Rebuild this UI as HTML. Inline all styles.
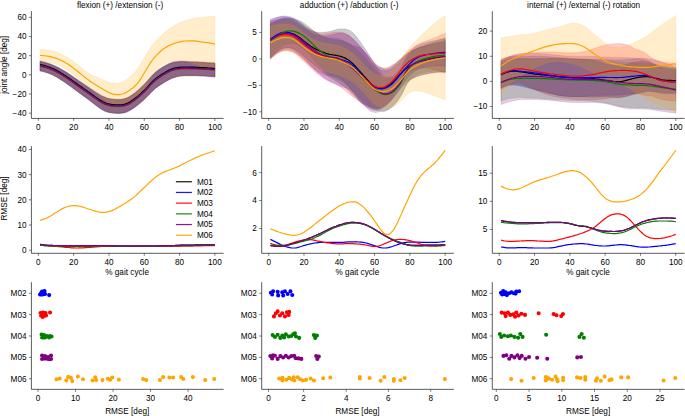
<!DOCTYPE html>
<html><head><meta charset="utf-8"><style>html,body{margin:0;padding:0;background:#fff;width:685px;height:416px;overflow:hidden}</style></head>
<body><svg width="685" height="416" viewBox="0 0 685 416" style="display:block;font-family:'Liberation Sans',sans-serif"><path d="M40.1,60.8 L41.6,61.1 L43.1,61.5 L44.6,61.9 L46.1,62.3 L47.6,62.8 L49.1,63.3 L50.6,63.8 L52.1,64.4 L53.6,65.0 L55.1,65.7 L56.6,66.4 L58.1,67.1 L59.6,67.9 L61.0,68.7 L62.5,69.5 L64.0,70.4 L65.5,71.3 L67.0,72.2 L68.5,73.2 L70.0,74.2 L71.5,75.3 L73.0,76.3 L74.5,77.4 L76.0,78.4 L77.5,79.4 L79.0,80.5 L80.5,81.5 L82.0,82.5 L83.4,83.5 L84.9,84.5 L86.4,85.5 L87.9,86.5 L89.4,87.5 L90.9,88.5 L92.4,89.5 L93.9,90.5 L95.4,91.5 L96.9,92.5 L98.4,93.4 L99.9,94.3 L101.4,95.2 L102.9,95.9 L104.4,96.6 L105.8,97.2 L107.3,97.7 L108.8,98.1 L110.3,98.4 L111.8,98.7 L113.3,98.8 L114.8,99.0 L116.3,99.0 L117.8,99.1 L119.3,99.0 L120.8,99.0 L122.3,98.8 L123.8,98.5 L125.3,98.1 L126.8,97.6 L128.2,96.9 L129.7,96.0 L131.2,95.1 L132.7,94.1 L134.2,93.0 L135.7,91.8 L137.2,90.5 L138.7,89.2 L140.2,87.8 L141.7,86.4 L143.2,84.9 L144.7,83.4 L146.2,81.8 L147.7,80.1 L149.2,78.4 L150.6,76.7 L152.1,75.1 L153.6,73.6 L155.1,72.2 L156.6,71.0 L158.1,69.8 L159.6,68.8 L161.1,67.8 L162.6,66.8 L164.1,65.9 L165.6,65.1 L167.1,64.3 L168.6,63.6 L170.1,62.9 L171.6,62.4 L173.0,62.0 L174.5,61.6 L176.0,61.4 L177.5,61.2 L179.0,61.1 L180.5,61.0 L182.0,61.0 L183.5,61.0 L185.0,61.1 L186.5,61.1 L188.0,61.2 L189.5,61.3 L191.0,61.4 L192.5,61.4 L194.0,61.5 L195.4,61.6 L196.9,61.6 L198.4,61.7 L199.9,61.8 L201.4,61.8 L202.9,61.9 L204.4,62.0 L205.9,62.1 L207.4,62.2 L208.9,62.3 L210.4,62.4 L211.9,62.5 L213.4,62.6 L214.9,62.7 L214.9,76.3 L213.4,76.1 L211.9,76.0 L210.4,75.9 L208.9,75.8 L207.4,75.6 L205.9,75.5 L204.4,75.4 L202.9,75.3 L201.4,75.3 L199.9,75.2 L198.4,75.1 L196.9,75.1 L195.4,75.0 L194.0,75.0 L192.5,75.0 L191.0,75.0 L189.5,75.0 L188.0,75.0 L186.5,75.0 L185.0,75.0 L183.5,75.1 L182.0,75.2 L180.5,75.4 L179.0,75.6 L177.5,75.9 L176.0,76.3 L174.5,76.8 L173.0,77.3 L171.6,77.9 L170.1,78.5 L168.6,79.3 L167.1,80.1 L165.6,80.9 L164.1,81.8 L162.6,82.8 L161.1,83.7 L159.6,84.7 L158.1,85.7 L156.6,86.8 L155.1,88.0 L153.6,89.3 L152.1,90.8 L150.6,92.3 L149.2,93.9 L147.7,95.4 L146.2,96.9 L144.7,98.4 L143.2,99.8 L141.7,101.1 L140.2,102.3 L138.7,103.6 L137.2,104.7 L135.7,105.9 L134.2,107.0 L132.7,108.0 L131.2,109.0 L129.7,109.9 L128.2,110.6 L126.8,111.3 L125.3,111.8 L123.8,112.2 L122.3,112.4 L120.8,112.6 L119.3,112.7 L117.8,112.7 L116.3,112.6 L114.8,112.6 L113.3,112.4 L111.8,112.3 L110.3,112.0 L108.8,111.7 L107.3,111.3 L105.8,110.8 L104.4,110.2 L102.9,109.4 L101.4,108.6 L99.9,107.6 L98.4,106.5 L96.9,105.4 L95.4,104.2 L93.9,103.0 L92.4,101.9 L90.9,100.7 L89.4,99.6 L87.9,98.5 L86.4,97.4 L84.9,96.3 L83.4,95.2 L82.0,94.2 L80.5,93.1 L79.0,92.0 L77.5,90.9 L76.0,89.8 L74.5,88.7 L73.0,87.6 L71.5,86.4 L70.0,85.3 L68.5,84.2 L67.0,83.2 L65.5,82.1 L64.0,81.1 L62.5,80.1 L61.0,79.2 L59.6,78.2 L58.1,77.3 L56.6,76.4 L55.1,75.6 L53.6,74.8 L52.1,74.0 L50.6,73.4 L49.1,72.8 L47.6,72.2 L46.1,71.8 L44.6,71.3 L43.1,70.9 L41.6,70.5 L40.1,70.2Z" fill="#000000" fill-opacity="0.2" stroke="#000000" stroke-opacity="0.2" stroke-width="0.7"/><path d="M40.1,61.5 L41.6,61.8 L43.1,62.2 L44.6,62.6 L46.1,63.0 L47.6,63.5 L49.1,64.0 L50.6,64.5 L52.1,65.1 L53.6,65.7 L55.1,66.4 L56.6,67.1 L58.1,67.8 L59.6,68.6 L61.0,69.4 L62.5,70.2 L64.0,71.1 L65.5,72.0 L67.0,72.9 L68.5,73.9 L70.0,74.9 L71.5,76.0 L73.0,77.0 L74.5,78.1 L76.0,79.1 L77.5,80.1 L79.0,81.2 L80.5,82.2 L82.0,83.2 L83.4,84.2 L84.9,85.2 L86.4,86.2 L87.9,87.2 L89.4,88.2 L90.9,89.2 L92.4,90.2 L93.9,91.2 L95.4,92.2 L96.9,93.2 L98.4,94.1 L99.9,95.0 L101.4,95.9 L102.9,96.6 L104.4,97.3 L105.8,97.9 L107.3,98.4 L108.8,98.8 L110.3,99.1 L111.8,99.4 L113.3,99.5 L114.8,99.7 L116.3,99.7 L117.8,99.8 L119.3,99.7 L120.8,99.7 L122.3,99.5 L123.8,99.2 L125.3,98.8 L126.8,98.3 L128.2,97.6 L129.7,96.7 L131.2,95.8 L132.7,94.8 L134.2,93.7 L135.7,92.5 L137.2,91.2 L138.7,89.9 L140.2,88.5 L141.7,87.1 L143.2,85.6 L144.7,84.1 L146.2,82.5 L147.7,80.8 L149.2,79.1 L150.6,77.4 L152.1,75.8 L153.6,74.3 L155.1,72.9 L156.6,71.7 L158.1,70.5 L159.6,69.5 L161.1,68.5 L162.6,67.5 L164.1,66.6 L165.6,65.8 L167.1,65.0 L168.6,64.3 L170.1,63.6 L171.6,63.1 L173.0,62.7 L174.5,62.3 L176.0,62.1 L177.5,61.9 L179.0,61.8 L180.5,61.7 L182.0,61.7 L183.5,61.7 L185.0,61.8 L186.5,61.8 L188.0,61.9 L189.5,62.0 L191.0,62.1 L192.5,62.1 L194.0,62.2 L195.4,62.3 L196.9,62.3 L198.4,62.4 L199.9,62.5 L201.4,62.5 L202.9,62.6 L204.4,62.7 L205.9,62.8 L207.4,62.9 L208.9,63.0 L210.4,63.1 L211.9,63.2 L213.4,63.3 L214.9,63.4 L214.9,77.0 L213.4,76.8 L211.9,76.7 L210.4,76.6 L208.9,76.5 L207.4,76.3 L205.9,76.2 L204.4,76.1 L202.9,76.0 L201.4,76.0 L199.9,75.9 L198.4,75.8 L196.9,75.8 L195.4,75.7 L194.0,75.7 L192.5,75.7 L191.0,75.7 L189.5,75.7 L188.0,75.7 L186.5,75.7 L185.0,75.7 L183.5,75.8 L182.0,75.9 L180.5,76.1 L179.0,76.3 L177.5,76.6 L176.0,77.0 L174.5,77.5 L173.0,78.0 L171.6,78.6 L170.1,79.2 L168.6,80.0 L167.1,80.8 L165.6,81.6 L164.1,82.5 L162.6,83.5 L161.1,84.4 L159.6,85.4 L158.1,86.4 L156.6,87.5 L155.1,88.7 L153.6,90.0 L152.1,91.5 L150.6,93.0 L149.2,94.6 L147.7,96.1 L146.2,97.6 L144.7,99.1 L143.2,100.5 L141.7,101.8 L140.2,103.0 L138.7,104.3 L137.2,105.4 L135.7,106.6 L134.2,107.7 L132.7,108.7 L131.2,109.7 L129.7,110.6 L128.2,111.3 L126.8,112.0 L125.3,112.5 L123.8,112.9 L122.3,113.1 L120.8,113.3 L119.3,113.4 L117.8,113.4 L116.3,113.3 L114.8,113.3 L113.3,113.1 L111.8,113.0 L110.3,112.7 L108.8,112.4 L107.3,112.0 L105.8,111.5 L104.4,110.9 L102.9,110.1 L101.4,109.3 L99.9,108.3 L98.4,107.2 L96.9,106.1 L95.4,104.9 L93.9,103.7 L92.4,102.6 L90.9,101.4 L89.4,100.3 L87.9,99.2 L86.4,98.1 L84.9,97.0 L83.4,95.9 L82.0,94.9 L80.5,93.8 L79.0,92.7 L77.5,91.6 L76.0,90.5 L74.5,89.4 L73.0,88.3 L71.5,87.1 L70.0,86.0 L68.5,84.9 L67.0,83.9 L65.5,82.8 L64.0,81.8 L62.5,80.8 L61.0,79.9 L59.6,78.9 L58.1,78.0 L56.6,77.1 L55.1,76.3 L53.6,75.5 L52.1,74.7 L50.6,74.1 L49.1,73.5 L47.6,72.9 L46.1,72.5 L44.6,72.0 L43.1,71.6 L41.6,71.2 L40.1,70.9Z" fill="#0000ff" fill-opacity="0.2" stroke="#0000ff" stroke-opacity="0.2" stroke-width="0.7"/><path d="M40.1,61.5 L41.6,61.8 L43.1,62.2 L44.6,62.6 L46.1,63.0 L47.6,63.5 L49.1,64.0 L50.6,64.5 L52.1,65.1 L53.6,65.7 L55.1,66.4 L56.6,67.1 L58.1,67.8 L59.6,68.6 L61.0,69.4 L62.5,70.2 L64.0,71.1 L65.5,72.0 L67.0,72.9 L68.5,73.9 L70.0,74.9 L71.5,76.0 L73.0,77.0 L74.5,78.1 L76.0,79.1 L77.5,80.1 L79.0,81.2 L80.5,82.2 L82.0,83.2 L83.4,84.2 L84.9,85.2 L86.4,86.2 L87.9,87.2 L89.4,88.2 L90.9,89.2 L92.4,90.2 L93.9,91.2 L95.4,92.2 L96.9,93.2 L98.4,94.1 L99.9,95.0 L101.4,95.9 L102.9,96.6 L104.4,97.3 L105.8,97.9 L107.3,98.4 L108.8,98.8 L110.3,99.1 L111.8,99.4 L113.3,99.5 L114.8,99.7 L116.3,99.7 L117.8,99.8 L119.3,99.7 L120.8,99.7 L122.3,99.5 L123.8,99.2 L125.3,98.8 L126.8,98.3 L128.2,97.6 L129.7,96.7 L131.2,95.8 L132.7,94.8 L134.2,93.7 L135.7,92.5 L137.2,91.2 L138.7,89.9 L140.2,88.5 L141.7,87.1 L143.2,85.6 L144.7,84.1 L146.2,82.5 L147.7,80.8 L149.2,79.1 L150.6,77.4 L152.1,75.8 L153.6,74.3 L155.1,72.9 L156.6,71.7 L158.1,70.5 L159.6,69.5 L161.1,68.5 L162.6,67.5 L164.1,66.6 L165.6,65.8 L167.1,65.0 L168.6,64.3 L170.1,63.6 L171.6,63.1 L173.0,62.7 L174.5,62.3 L176.0,62.1 L177.5,61.9 L179.0,61.8 L180.5,61.7 L182.0,61.7 L183.5,61.7 L185.0,61.8 L186.5,61.8 L188.0,61.9 L189.5,62.0 L191.0,62.1 L192.5,62.1 L194.0,62.2 L195.4,62.3 L196.9,62.3 L198.4,62.4 L199.9,62.5 L201.4,62.5 L202.9,62.6 L204.4,62.7 L205.9,62.8 L207.4,62.9 L208.9,63.0 L210.4,63.1 L211.9,63.2 L213.4,63.3 L214.9,63.4 L214.9,77.0 L213.4,76.8 L211.9,76.7 L210.4,76.6 L208.9,76.5 L207.4,76.3 L205.9,76.2 L204.4,76.1 L202.9,76.0 L201.4,76.0 L199.9,75.9 L198.4,75.8 L196.9,75.8 L195.4,75.7 L194.0,75.7 L192.5,75.7 L191.0,75.7 L189.5,75.7 L188.0,75.7 L186.5,75.7 L185.0,75.7 L183.5,75.8 L182.0,75.9 L180.5,76.1 L179.0,76.3 L177.5,76.6 L176.0,77.0 L174.5,77.5 L173.0,78.0 L171.6,78.6 L170.1,79.2 L168.6,80.0 L167.1,80.8 L165.6,81.6 L164.1,82.5 L162.6,83.5 L161.1,84.4 L159.6,85.4 L158.1,86.4 L156.6,87.5 L155.1,88.7 L153.6,90.0 L152.1,91.5 L150.6,93.0 L149.2,94.6 L147.7,96.1 L146.2,97.6 L144.7,99.1 L143.2,100.5 L141.7,101.8 L140.2,103.0 L138.7,104.3 L137.2,105.4 L135.7,106.6 L134.2,107.7 L132.7,108.7 L131.2,109.7 L129.7,110.6 L128.2,111.3 L126.8,112.0 L125.3,112.5 L123.8,112.9 L122.3,113.1 L120.8,113.3 L119.3,113.4 L117.8,113.4 L116.3,113.3 L114.8,113.3 L113.3,113.1 L111.8,113.0 L110.3,112.7 L108.8,112.4 L107.3,112.0 L105.8,111.5 L104.4,110.9 L102.9,110.1 L101.4,109.3 L99.9,108.3 L98.4,107.2 L96.9,106.1 L95.4,104.9 L93.9,103.7 L92.4,102.6 L90.9,101.4 L89.4,100.3 L87.9,99.2 L86.4,98.1 L84.9,97.0 L83.4,95.9 L82.0,94.9 L80.5,93.8 L79.0,92.7 L77.5,91.6 L76.0,90.5 L74.5,89.4 L73.0,88.3 L71.5,87.1 L70.0,86.0 L68.5,84.9 L67.0,83.9 L65.5,82.8 L64.0,81.8 L62.5,80.8 L61.0,79.9 L59.6,78.9 L58.1,78.0 L56.6,77.1 L55.1,76.3 L53.6,75.5 L52.1,74.7 L50.6,74.1 L49.1,73.5 L47.6,72.9 L46.1,72.5 L44.6,72.0 L43.1,71.6 L41.6,71.2 L40.1,70.9Z" fill="#ff0000" fill-opacity="0.2" stroke="#ff0000" stroke-opacity="0.2" stroke-width="0.7"/><path d="M40.1,61.5 L41.6,61.8 L43.1,62.2 L44.6,62.6 L46.1,63.0 L47.6,63.5 L49.1,64.0 L50.6,64.5 L52.1,65.1 L53.6,65.7 L55.1,66.4 L56.6,67.1 L58.1,67.8 L59.6,68.6 L61.0,69.4 L62.5,70.2 L64.0,71.1 L65.5,72.0 L67.0,72.9 L68.5,73.9 L70.0,74.9 L71.5,76.0 L73.0,77.0 L74.5,78.1 L76.0,79.1 L77.5,80.1 L79.0,81.2 L80.5,82.2 L82.0,83.2 L83.4,84.2 L84.9,85.2 L86.4,86.2 L87.9,87.2 L89.4,88.2 L90.9,89.2 L92.4,90.2 L93.9,91.2 L95.4,92.2 L96.9,93.2 L98.4,94.1 L99.9,95.0 L101.4,95.9 L102.9,96.6 L104.4,97.3 L105.8,97.9 L107.3,98.4 L108.8,98.8 L110.3,99.1 L111.8,99.4 L113.3,99.5 L114.8,99.7 L116.3,99.7 L117.8,99.8 L119.3,99.7 L120.8,99.7 L122.3,99.5 L123.8,99.2 L125.3,98.8 L126.8,98.3 L128.2,97.6 L129.7,96.7 L131.2,95.8 L132.7,94.8 L134.2,93.7 L135.7,92.5 L137.2,91.2 L138.7,89.9 L140.2,88.5 L141.7,87.1 L143.2,85.6 L144.7,84.1 L146.2,82.5 L147.7,80.8 L149.2,79.1 L150.6,77.4 L152.1,75.8 L153.6,74.3 L155.1,72.9 L156.6,71.7 L158.1,70.5 L159.6,69.5 L161.1,68.5 L162.6,67.5 L164.1,66.6 L165.6,65.8 L167.1,65.0 L168.6,64.3 L170.1,63.6 L171.6,63.1 L173.0,62.7 L174.5,62.3 L176.0,62.1 L177.5,61.9 L179.0,61.8 L180.5,61.7 L182.0,61.7 L183.5,61.7 L185.0,61.8 L186.5,61.8 L188.0,61.9 L189.5,62.0 L191.0,62.1 L192.5,62.1 L194.0,62.2 L195.4,62.3 L196.9,62.3 L198.4,62.4 L199.9,62.5 L201.4,62.5 L202.9,62.6 L204.4,62.7 L205.9,62.8 L207.4,62.9 L208.9,63.0 L210.4,63.1 L211.9,63.2 L213.4,63.3 L214.9,63.4 L214.9,77.0 L213.4,76.8 L211.9,76.7 L210.4,76.6 L208.9,76.5 L207.4,76.3 L205.9,76.2 L204.4,76.1 L202.9,76.0 L201.4,76.0 L199.9,75.9 L198.4,75.8 L196.9,75.8 L195.4,75.7 L194.0,75.7 L192.5,75.7 L191.0,75.7 L189.5,75.7 L188.0,75.7 L186.5,75.7 L185.0,75.7 L183.5,75.8 L182.0,75.9 L180.5,76.1 L179.0,76.3 L177.5,76.6 L176.0,77.0 L174.5,77.5 L173.0,78.0 L171.6,78.6 L170.1,79.2 L168.6,80.0 L167.1,80.8 L165.6,81.6 L164.1,82.5 L162.6,83.5 L161.1,84.4 L159.6,85.4 L158.1,86.4 L156.6,87.5 L155.1,88.7 L153.6,90.0 L152.1,91.5 L150.6,93.0 L149.2,94.6 L147.7,96.1 L146.2,97.6 L144.7,99.1 L143.2,100.5 L141.7,101.8 L140.2,103.0 L138.7,104.3 L137.2,105.4 L135.7,106.6 L134.2,107.7 L132.7,108.7 L131.2,109.7 L129.7,110.6 L128.2,111.3 L126.8,112.0 L125.3,112.5 L123.8,112.9 L122.3,113.1 L120.8,113.3 L119.3,113.4 L117.8,113.4 L116.3,113.3 L114.8,113.3 L113.3,113.1 L111.8,113.0 L110.3,112.7 L108.8,112.4 L107.3,112.0 L105.8,111.5 L104.4,110.9 L102.9,110.1 L101.4,109.3 L99.9,108.3 L98.4,107.2 L96.9,106.1 L95.4,104.9 L93.9,103.7 L92.4,102.6 L90.9,101.4 L89.4,100.3 L87.9,99.2 L86.4,98.1 L84.9,97.0 L83.4,95.9 L82.0,94.9 L80.5,93.8 L79.0,92.7 L77.5,91.6 L76.0,90.5 L74.5,89.4 L73.0,88.3 L71.5,87.1 L70.0,86.0 L68.5,84.9 L67.0,83.9 L65.5,82.8 L64.0,81.8 L62.5,80.8 L61.0,79.9 L59.6,78.9 L58.1,78.0 L56.6,77.1 L55.1,76.3 L53.6,75.5 L52.1,74.7 L50.6,74.1 L49.1,73.5 L47.6,72.9 L46.1,72.5 L44.6,72.0 L43.1,71.6 L41.6,71.2 L40.1,70.9Z" fill="#008000" fill-opacity="0.2" stroke="#008000" stroke-opacity="0.2" stroke-width="0.7"/><path d="M40.1,61.5 L41.6,61.8 L43.1,62.2 L44.6,62.6 L46.1,63.0 L47.6,63.5 L49.1,64.0 L50.6,64.5 L52.1,65.1 L53.6,65.7 L55.1,66.4 L56.6,67.1 L58.1,67.8 L59.6,68.6 L61.0,69.4 L62.5,70.2 L64.0,71.1 L65.5,72.0 L67.0,72.9 L68.5,73.9 L70.0,74.9 L71.5,76.0 L73.0,77.0 L74.5,78.1 L76.0,79.1 L77.5,80.1 L79.0,81.2 L80.5,82.2 L82.0,83.2 L83.4,84.2 L84.9,85.2 L86.4,86.2 L87.9,87.2 L89.4,88.2 L90.9,89.2 L92.4,90.2 L93.9,91.2 L95.4,92.2 L96.9,93.2 L98.4,94.1 L99.9,95.0 L101.4,95.9 L102.9,96.6 L104.4,97.3 L105.8,97.9 L107.3,98.4 L108.8,98.8 L110.3,99.1 L111.8,99.4 L113.3,99.5 L114.8,99.7 L116.3,99.7 L117.8,99.8 L119.3,99.7 L120.8,99.7 L122.3,99.5 L123.8,99.2 L125.3,98.8 L126.8,98.3 L128.2,97.6 L129.7,96.7 L131.2,95.8 L132.7,94.8 L134.2,93.7 L135.7,92.5 L137.2,91.2 L138.7,89.9 L140.2,88.5 L141.7,87.1 L143.2,85.6 L144.7,84.1 L146.2,82.5 L147.7,80.8 L149.2,79.1 L150.6,77.4 L152.1,75.8 L153.6,74.3 L155.1,72.9 L156.6,71.7 L158.1,70.5 L159.6,69.5 L161.1,68.5 L162.6,67.5 L164.1,66.6 L165.6,65.8 L167.1,65.0 L168.6,64.3 L170.1,63.6 L171.6,63.1 L173.0,62.7 L174.5,62.3 L176.0,62.1 L177.5,61.9 L179.0,61.8 L180.5,61.7 L182.0,61.7 L183.5,61.7 L185.0,61.8 L186.5,61.8 L188.0,61.9 L189.5,62.0 L191.0,62.1 L192.5,62.1 L194.0,62.2 L195.4,62.3 L196.9,62.3 L198.4,62.4 L199.9,62.5 L201.4,62.5 L202.9,62.6 L204.4,62.7 L205.9,62.8 L207.4,62.9 L208.9,63.0 L210.4,63.1 L211.9,63.2 L213.4,63.3 L214.9,63.4 L214.9,77.0 L213.4,76.8 L211.9,76.7 L210.4,76.6 L208.9,76.5 L207.4,76.3 L205.9,76.2 L204.4,76.1 L202.9,76.0 L201.4,76.0 L199.9,75.9 L198.4,75.8 L196.9,75.8 L195.4,75.7 L194.0,75.7 L192.5,75.7 L191.0,75.7 L189.5,75.7 L188.0,75.7 L186.5,75.7 L185.0,75.7 L183.5,75.8 L182.0,75.9 L180.5,76.1 L179.0,76.3 L177.5,76.6 L176.0,77.0 L174.5,77.5 L173.0,78.0 L171.6,78.6 L170.1,79.2 L168.6,80.0 L167.1,80.8 L165.6,81.6 L164.1,82.5 L162.6,83.5 L161.1,84.4 L159.6,85.4 L158.1,86.4 L156.6,87.5 L155.1,88.7 L153.6,90.0 L152.1,91.5 L150.6,93.0 L149.2,94.6 L147.7,96.1 L146.2,97.6 L144.7,99.1 L143.2,100.5 L141.7,101.8 L140.2,103.0 L138.7,104.3 L137.2,105.4 L135.7,106.6 L134.2,107.7 L132.7,108.7 L131.2,109.7 L129.7,110.6 L128.2,111.3 L126.8,112.0 L125.3,112.5 L123.8,112.9 L122.3,113.1 L120.8,113.3 L119.3,113.4 L117.8,113.4 L116.3,113.3 L114.8,113.3 L113.3,113.1 L111.8,113.0 L110.3,112.7 L108.8,112.4 L107.3,112.0 L105.8,111.5 L104.4,110.9 L102.9,110.1 L101.4,109.3 L99.9,108.3 L98.4,107.2 L96.9,106.1 L95.4,104.9 L93.9,103.7 L92.4,102.6 L90.9,101.4 L89.4,100.3 L87.9,99.2 L86.4,98.1 L84.9,97.0 L83.4,95.9 L82.0,94.9 L80.5,93.8 L79.0,92.7 L77.5,91.6 L76.0,90.5 L74.5,89.4 L73.0,88.3 L71.5,87.1 L70.0,86.0 L68.5,84.9 L67.0,83.9 L65.5,82.8 L64.0,81.8 L62.5,80.8 L61.0,79.9 L59.6,78.9 L58.1,78.0 L56.6,77.1 L55.1,76.3 L53.6,75.5 L52.1,74.7 L50.6,74.1 L49.1,73.5 L47.6,72.9 L46.1,72.5 L44.6,72.0 L43.1,71.6 L41.6,71.2 L40.1,70.9Z" fill="#800080" fill-opacity="0.2" stroke="#800080" stroke-opacity="0.2" stroke-width="0.7"/><path d="M40.1,49.4 L41.6,49.5 L43.1,49.6 L44.6,49.7 L46.1,49.9 L47.6,50.1 L49.1,50.3 L50.6,50.6 L52.1,51.0 L53.6,51.3 L55.1,51.8 L56.6,52.3 L58.1,52.8 L59.6,53.4 L61.0,54.1 L62.5,54.8 L64.0,55.5 L65.5,56.3 L67.0,57.2 L68.5,58.2 L70.0,59.2 L71.5,60.3 L73.0,61.3 L74.5,62.5 L76.0,63.6 L77.5,64.7 L79.0,65.9 L80.5,67.0 L82.0,68.1 L83.4,69.3 L84.9,70.4 L86.4,71.4 L87.9,72.5 L89.4,73.5 L90.9,74.4 L92.4,75.2 L93.9,76.0 L95.4,76.7 L96.9,77.3 L98.4,77.9 L99.9,78.5 L101.4,79.1 L102.9,79.7 L104.4,80.4 L105.8,81.0 L107.3,81.6 L108.8,82.2 L110.3,82.7 L111.8,83.1 L113.3,83.3 L114.8,83.5 L116.3,83.5 L117.8,83.4 L119.3,83.1 L120.8,82.7 L122.3,82.1 L123.8,81.4 L125.3,80.4 L126.8,79.4 L128.2,78.2 L129.7,76.9 L131.2,75.6 L132.7,74.2 L134.2,72.6 L135.7,71.0 L137.2,69.1 L138.7,67.0 L140.2,64.7 L141.7,62.2 L143.2,59.6 L144.7,57.0 L146.2,54.4 L147.7,51.9 L149.2,49.6 L150.6,47.4 L152.1,45.4 L153.6,43.5 L155.1,41.7 L156.6,40.0 L158.1,38.4 L159.6,36.9 L161.1,35.5 L162.6,34.1 L164.1,32.8 L165.6,31.6 L167.1,30.4 L168.6,29.3 L170.1,28.3 L171.6,27.3 L173.0,26.3 L174.5,25.4 L176.0,24.6 L177.5,23.8 L179.0,23.1 L180.5,22.5 L182.0,21.9 L183.5,21.3 L185.0,20.8 L186.5,20.3 L188.0,19.9 L189.5,19.5 L191.0,19.2 L192.5,18.8 L194.0,18.5 L195.4,18.2 L196.9,18.0 L198.4,17.7 L199.9,17.5 L201.4,17.4 L202.9,17.2 L204.4,17.0 L205.9,16.9 L207.4,16.7 L208.9,16.6 L210.4,16.5 L211.9,16.3 L213.4,16.2 L214.9,16.1 L214.9,71.6 L213.4,71.1 L211.9,70.5 L210.4,69.9 L208.9,69.3 L207.4,68.7 L205.9,68.1 L204.4,67.5 L202.9,66.9 L201.4,66.3 L199.9,65.7 L198.4,65.1 L196.9,64.5 L195.4,63.9 L194.0,63.4 L192.5,62.9 L191.0,62.4 L189.5,62.0 L188.0,61.6 L186.5,61.4 L185.0,61.2 L183.5,61.1 L182.0,61.0 L180.5,61.0 L179.0,61.0 L177.5,61.1 L176.0,61.2 L174.5,61.4 L173.0,61.5 L171.6,61.7 L170.1,62.0 L168.6,62.4 L167.1,62.8 L165.6,63.4 L164.1,64.2 L162.6,65.1 L161.1,66.2 L159.6,67.4 L158.1,68.8 L156.6,70.3 L155.1,72.0 L153.6,73.8 L152.1,75.7 L150.6,77.8 L149.2,80.1 L147.7,82.4 L146.2,84.9 L144.7,87.5 L143.2,90.0 L141.7,92.4 L140.2,94.6 L138.7,96.6 L137.2,98.3 L135.7,99.7 L134.2,100.8 L132.7,101.8 L131.2,102.6 L129.7,103.4 L128.2,104.1 L126.8,104.8 L125.3,105.3 L123.8,105.7 L122.3,106.0 L120.8,106.1 L119.3,106.0 L117.8,105.9 L116.3,105.6 L114.8,105.3 L113.3,104.8 L111.8,104.2 L110.3,103.5 L108.8,102.7 L107.3,101.8 L105.8,100.8 L104.4,99.8 L102.9,98.7 L101.4,97.5 L99.9,96.4 L98.4,95.2 L96.9,94.0 L95.4,92.8 L93.9,91.6 L92.4,90.4 L90.9,89.2 L89.4,87.9 L87.9,86.7 L86.4,85.4 L84.9,84.2 L83.4,82.9 L82.0,81.7 L80.5,80.4 L79.0,79.2 L77.5,78.0 L76.0,76.7 L74.5,75.5 L73.0,74.3 L71.5,73.2 L70.0,72.0 L68.5,71.0 L67.0,69.9 L65.5,69.0 L64.0,68.1 L62.5,67.3 L61.0,66.6 L59.6,65.9 L58.1,65.2 L56.6,64.6 L55.1,64.1 L53.6,63.6 L52.1,63.2 L50.6,62.8 L49.1,62.5 L47.6,62.2 L46.1,62.0 L44.6,61.8 L43.1,61.6 L41.6,61.5 L40.1,61.3Z" fill="#ffa500" fill-opacity="0.2" stroke="#ffa500" stroke-opacity="0.2" stroke-width="0.7"/><path d="M40.1,64.5 L41.6,64.8 L43.1,65.2 L44.6,65.6 L46.1,66.0 L47.6,66.5 L49.1,67.0 L50.6,67.6 L52.1,68.2 L53.6,68.9 L55.1,69.6 L56.6,70.4 L58.1,71.2 L59.6,72.1 L61.0,72.9 L62.5,73.8 L64.0,74.8 L65.5,75.7 L67.0,76.7 L68.5,77.7 L70.0,78.8 L71.5,79.8 L73.0,80.9 L74.5,82.0 L76.0,83.1 L77.5,84.2 L79.0,85.2 L80.5,86.3 L82.0,87.3 L83.4,88.4 L84.9,89.4 L86.4,90.4 L87.9,91.5 L89.4,92.5 L90.9,93.6 L92.4,94.7 L93.9,95.8 L95.4,96.9 L96.9,97.9 L98.4,99.0 L99.9,100.0 L101.4,100.9 L102.9,101.7 L104.4,102.4 L105.8,103.0 L107.3,103.5 L108.8,103.9 L110.3,104.2 L111.8,104.5 L113.3,104.6 L114.8,104.8 L116.3,104.8 L117.8,104.9 L119.3,104.9 L120.8,104.8 L122.3,104.6 L123.8,104.3 L125.3,104.0 L126.8,103.4 L128.2,102.8 L129.7,102.0 L131.2,101.0 L132.7,100.0 L134.2,99.0 L135.7,97.8 L137.2,96.6 L138.7,95.4 L140.2,94.1 L141.7,92.7 L143.2,91.3 L144.7,89.9 L146.2,88.4 L147.7,86.8 L149.2,85.1 L150.6,83.5 L152.1,81.9 L153.6,80.4 L155.1,79.1 L156.6,77.9 L158.1,76.8 L159.6,75.8 L161.1,74.8 L162.6,73.8 L164.1,72.9 L165.6,72.0 L167.1,71.2 L168.6,70.4 L170.1,69.7 L171.6,69.1 L173.0,68.6 L174.5,68.2 L176.0,67.8 L177.5,67.6 L179.0,67.4 L180.5,67.2 L182.0,67.1 L183.5,67.1 L185.0,67.1 L186.5,67.1 L188.0,67.1 L189.5,67.1 L191.0,67.2 L192.5,67.2 L194.0,67.2 L195.4,67.3 L196.9,67.3 L198.4,67.4 L199.9,67.5 L201.4,67.5 L202.9,67.6 L204.4,67.7 L205.9,67.8 L207.4,67.9 L208.9,68.0 L210.4,68.1 L211.9,68.2 L213.4,68.4 L214.9,68.5" fill="none" stroke="#000000" stroke-width="1.2" stroke-opacity="1.0" stroke-linejoin="round" stroke-linecap="butt"/><path d="M40.1,65.5 L41.6,65.8 L43.1,66.2 L44.6,66.6 L46.1,67.0 L47.6,67.5 L49.1,68.0 L50.6,68.6 L52.1,69.2 L53.6,69.9 L55.1,70.6 L56.6,71.4 L58.1,72.2 L59.6,73.1 L61.0,73.9 L62.5,74.8 L64.0,75.8 L65.5,76.7 L67.0,77.7 L68.5,78.7 L70.0,79.8 L71.5,80.8 L73.0,81.9 L74.5,83.0 L76.0,84.1 L77.5,85.2 L79.0,86.2 L80.5,87.3 L82.0,88.3 L83.4,89.4 L84.9,90.4 L86.4,91.4 L87.9,92.5 L89.4,93.5 L90.9,94.6 L92.4,95.7 L93.9,96.8 L95.4,97.9 L96.9,98.9 L98.4,100.0 L99.9,101.0 L101.4,101.9 L102.9,102.7 L104.4,103.4 L105.8,104.0 L107.3,104.5 L108.8,104.9 L110.3,105.2 L111.8,105.5 L113.3,105.6 L114.8,105.8 L116.3,105.8 L117.8,105.9 L119.3,105.9 L120.8,105.8 L122.3,105.6 L123.8,105.3 L125.3,105.0 L126.8,104.4 L128.2,103.8 L129.7,103.0 L131.2,102.0 L132.7,101.0 L134.2,100.0 L135.7,98.8 L137.2,97.6 L138.7,96.4 L140.2,95.1 L141.7,93.7 L143.2,92.3 L144.7,90.9 L146.2,89.4 L147.7,87.8 L149.2,86.1 L150.6,84.5 L152.1,82.9 L153.6,81.4 L155.1,80.1 L156.6,78.9 L158.1,77.8 L159.6,76.8 L161.1,75.8 L162.6,74.8 L164.1,73.9 L165.6,73.0 L167.1,72.2 L168.6,71.4 L170.1,70.7 L171.6,70.1 L173.0,69.6 L174.5,69.2 L176.0,68.8 L177.5,68.6 L179.0,68.4 L180.5,68.2 L182.0,68.1 L183.5,68.1 L185.0,68.1 L186.5,68.1 L188.0,68.1 L189.5,68.1 L191.0,68.2 L192.5,68.2 L194.0,68.2 L195.4,68.3 L196.9,68.3 L198.4,68.4 L199.9,68.5 L201.4,68.5 L202.9,68.6 L204.4,68.7 L205.9,68.8 L207.4,68.9 L208.9,69.0 L210.4,69.1 L211.9,69.2 L213.4,69.4 L214.9,69.5" fill="none" stroke="#0000ff" stroke-width="1.2" stroke-opacity="1.0" stroke-linejoin="round" stroke-linecap="butt"/><path d="M40.1,66.2 L41.6,66.5 L43.1,66.9 L44.6,67.3 L46.1,67.7 L47.6,68.2 L49.1,68.7 L50.6,69.3 L52.1,69.9 L53.6,70.6 L55.1,71.3 L56.6,72.1 L58.1,72.9 L59.6,73.8 L61.0,74.6 L62.5,75.5 L64.0,76.5 L65.5,77.4 L67.0,78.4 L68.5,79.4 L70.0,80.5 L71.5,81.5 L73.0,82.6 L74.5,83.7 L76.0,84.8 L77.5,85.9 L79.0,86.9 L80.5,88.0 L82.0,89.0 L83.4,90.1 L84.9,91.1 L86.4,92.1 L87.9,93.2 L89.4,94.2 L90.9,95.3 L92.4,96.4 L93.9,97.5 L95.4,98.6 L96.9,99.6 L98.4,100.7 L99.9,101.7 L101.4,102.6 L102.9,103.4 L104.4,104.1 L105.8,104.7 L107.3,105.2 L108.8,105.6 L110.3,105.9 L111.8,106.2 L113.3,106.3 L114.8,106.5 L116.3,106.5 L117.8,106.6 L119.3,106.6 L120.8,106.5 L122.3,106.3 L123.8,106.0 L125.3,105.7 L126.8,105.1 L128.2,104.5 L129.7,103.7 L131.2,102.7 L132.7,101.7 L134.2,100.7 L135.7,99.5 L137.2,98.3 L138.7,97.1 L140.2,95.8 L141.7,94.4 L143.2,93.0 L144.7,91.6 L146.2,90.1 L147.7,88.5 L149.2,86.8 L150.6,85.2 L152.1,83.6 L153.6,82.1 L155.1,80.8 L156.6,79.6 L158.1,78.5 L159.6,77.5 L161.1,76.5 L162.6,75.5 L164.1,74.6 L165.6,73.7 L167.1,72.9 L168.6,72.1 L170.1,71.4 L171.6,70.8 L173.0,70.3 L174.5,69.9 L176.0,69.5 L177.5,69.3 L179.0,69.1 L180.5,68.9 L182.0,68.8 L183.5,68.8 L185.0,68.8 L186.5,68.8 L188.0,68.8 L189.5,68.8 L191.0,68.9 L192.5,68.9 L194.0,68.9 L195.4,69.0 L196.9,69.0 L198.4,69.1 L199.9,69.2 L201.4,69.2 L202.9,69.3 L204.4,69.4 L205.9,69.5 L207.4,69.6 L208.9,69.7 L210.4,69.8 L211.9,69.9 L213.4,70.1 L214.9,70.2" fill="none" stroke="#ff0000" stroke-width="1.2" stroke-opacity="1.0" stroke-linejoin="round" stroke-linecap="butt"/><path d="M40.1,65.9 L41.6,66.2 L43.1,66.6 L44.6,67.0 L46.1,67.4 L47.6,67.9 L49.1,68.4 L50.6,69.0 L52.1,69.6 L53.6,70.3 L55.1,71.0 L56.6,71.8 L58.1,72.6 L59.6,73.5 L61.0,74.3 L62.5,75.2 L64.0,76.2 L65.5,77.1 L67.0,78.1 L68.5,79.1 L70.0,80.2 L71.5,81.2 L73.0,82.3 L74.5,83.4 L76.0,84.5 L77.5,85.6 L79.0,86.6 L80.5,87.7 L82.0,88.7 L83.4,89.8 L84.9,90.8 L86.4,91.8 L87.9,92.9 L89.4,93.9 L90.9,95.0 L92.4,96.1 L93.9,97.2 L95.4,98.3 L96.9,99.3 L98.4,100.4 L99.9,101.4 L101.4,102.3 L102.9,103.1 L104.4,103.8 L105.8,104.4 L107.3,104.9 L108.8,105.3 L110.3,105.6 L111.8,105.9 L113.3,106.0 L114.8,106.2 L116.3,106.2 L117.8,106.3 L119.3,106.3 L120.8,106.2 L122.3,106.0 L123.8,105.7 L125.3,105.4 L126.8,104.8 L128.2,104.2 L129.7,103.4 L131.2,102.4 L132.7,101.4 L134.2,100.4 L135.7,99.2 L137.2,98.0 L138.7,96.8 L140.2,95.5 L141.7,94.1 L143.2,92.7 L144.7,91.3 L146.2,89.8 L147.7,88.2 L149.2,86.5 L150.6,84.9 L152.1,83.3 L153.6,81.8 L155.1,80.5 L156.6,79.3 L158.1,78.2 L159.6,77.2 L161.1,76.2 L162.6,75.2 L164.1,74.3 L165.6,73.4 L167.1,72.6 L168.6,71.8 L170.1,71.1 L171.6,70.5 L173.0,70.0 L174.5,69.6 L176.0,69.2 L177.5,69.0 L179.0,68.8 L180.5,68.6 L182.0,68.5 L183.5,68.5 L185.0,68.5 L186.5,68.5 L188.0,68.5 L189.5,68.5 L191.0,68.6 L192.5,68.6 L194.0,68.6 L195.4,68.7 L196.9,68.7 L198.4,68.8 L199.9,68.9 L201.4,68.9 L202.9,69.0 L204.4,69.1 L205.9,69.2 L207.4,69.3 L208.9,69.4 L210.4,69.5 L211.9,69.6 L213.4,69.8 L214.9,69.9" fill="none" stroke="#008000" stroke-width="1.2" stroke-opacity="1.0" stroke-linejoin="round" stroke-linecap="butt"/><path d="M40.1,65.6 L41.6,65.9 L43.1,66.3 L44.6,66.7 L46.1,67.1 L47.6,67.6 L49.1,68.1 L50.6,68.7 L52.1,69.3 L53.6,70.0 L55.1,70.7 L56.6,71.5 L58.1,72.3 L59.6,73.2 L61.0,74.0 L62.5,74.9 L64.0,75.9 L65.5,76.8 L67.0,77.8 L68.5,78.8 L70.0,79.9 L71.5,80.9 L73.0,82.0 L74.5,83.1 L76.0,84.2 L77.5,85.3 L79.0,86.3 L80.5,87.4 L82.0,88.4 L83.4,89.5 L84.9,90.5 L86.4,91.5 L87.9,92.6 L89.4,93.6 L90.9,94.7 L92.4,95.8 L93.9,96.9 L95.4,98.0 L96.9,99.0 L98.4,100.1 L99.9,101.1 L101.4,102.0 L102.9,102.8 L104.4,103.5 L105.8,104.1 L107.3,104.6 L108.8,105.0 L110.3,105.3 L111.8,105.6 L113.3,105.7 L114.8,105.9 L116.3,105.9 L117.8,106.0 L119.3,106.0 L120.8,105.9 L122.3,105.7 L123.8,105.4 L125.3,105.1 L126.8,104.5 L128.2,103.9 L129.7,103.1 L131.2,102.1 L132.7,101.1 L134.2,100.1 L135.7,98.9 L137.2,97.7 L138.7,96.5 L140.2,95.2 L141.7,93.8 L143.2,92.4 L144.7,91.0 L146.2,89.5 L147.7,87.9 L149.2,86.2 L150.6,84.6 L152.1,83.0 L153.6,81.5 L155.1,80.2 L156.6,79.0 L158.1,77.9 L159.6,76.9 L161.1,75.9 L162.6,74.9 L164.1,74.0 L165.6,73.1 L167.1,72.3 L168.6,71.5 L170.1,70.8 L171.6,70.2 L173.0,69.7 L174.5,69.3 L176.0,68.9 L177.5,68.7 L179.0,68.5 L180.5,68.3 L182.0,68.2 L183.5,68.2 L185.0,68.2 L186.5,68.2 L188.0,68.2 L189.5,68.2 L191.0,68.3 L192.5,68.3 L194.0,68.3 L195.4,68.4 L196.9,68.4 L198.4,68.5 L199.9,68.6 L201.4,68.6 L202.9,68.7 L204.4,68.8 L205.9,68.9 L207.4,69.0 L208.9,69.1 L210.4,69.2 L211.9,69.3 L213.4,69.5 L214.9,69.6" fill="none" stroke="#800080" stroke-width="1.2" stroke-opacity="1.0" stroke-linejoin="round" stroke-linecap="butt"/><path d="M40.1,55.4 L41.6,55.5 L43.1,55.6 L44.6,55.8 L46.1,56.0 L47.6,56.2 L49.1,56.4 L50.6,56.7 L52.1,57.1 L53.6,57.5 L55.1,57.9 L56.6,58.4 L58.1,59.0 L59.6,59.6 L61.0,60.3 L62.5,61.0 L64.0,61.8 L65.5,62.7 L67.0,63.6 L68.5,64.6 L70.0,65.6 L71.5,66.7 L73.0,67.8 L74.5,69.0 L76.0,70.2 L77.5,71.3 L79.0,72.5 L80.5,73.7 L82.0,74.9 L83.4,76.1 L84.9,77.3 L86.4,78.4 L87.9,79.6 L89.4,80.7 L90.9,81.8 L92.4,82.8 L93.9,83.8 L95.4,84.7 L96.9,85.6 L98.4,86.5 L99.9,87.4 L101.4,88.3 L102.9,89.2 L104.4,90.1 L105.8,90.9 L107.3,91.7 L108.8,92.5 L110.3,93.1 L111.8,93.6 L113.3,94.1 L114.8,94.4 L116.3,94.6 L117.8,94.6 L119.3,94.6 L120.8,94.4 L122.3,94.0 L123.8,93.5 L125.3,92.9 L126.8,92.1 L128.2,91.2 L129.7,90.2 L131.2,89.1 L132.7,88.0 L134.2,86.7 L135.7,85.3 L137.2,83.7 L138.7,81.8 L140.2,79.7 L141.7,77.3 L143.2,74.8 L144.7,72.2 L146.2,69.7 L147.7,67.2 L149.2,64.8 L150.6,62.6 L152.1,60.5 L153.6,58.6 L155.1,56.8 L156.6,55.2 L158.1,53.6 L159.6,52.2 L161.1,50.8 L162.6,49.6 L164.1,48.5 L165.6,47.5 L167.1,46.6 L168.6,45.8 L170.1,45.1 L171.6,44.5 L173.0,43.9 L174.5,43.4 L176.0,42.9 L177.5,42.5 L179.0,42.1 L180.5,41.7 L182.0,41.4 L183.5,41.2 L185.0,41.0 L186.5,40.9 L188.0,40.8 L189.5,40.8 L191.0,40.8 L192.5,40.8 L194.0,40.9 L195.4,41.1 L196.9,41.2 L198.4,41.4 L199.9,41.6 L201.4,41.8 L202.9,42.1 L204.4,42.3 L205.9,42.5 L207.4,42.7 L208.9,42.9 L210.4,43.2 L211.9,43.4 L213.4,43.6 L214.9,43.9" fill="none" stroke="#ffa500" stroke-width="1.2" stroke-opacity="1.0" stroke-linejoin="round" stroke-linecap="butt"/><path d="M270.4,23.4 L271.9,22.7 L273.4,21.9 L274.9,21.2 L276.4,20.6 L277.9,19.9 L279.4,19.3 L280.9,18.7 L282.4,18.2 L283.9,17.9 L285.4,17.7 L286.9,17.7 L288.4,17.8 L289.9,18.1 L291.3,18.4 L292.8,18.9 L294.3,19.4 L295.8,20.2 L297.3,21.0 L298.8,22.0 L300.3,23.0 L301.8,24.1 L303.3,25.3 L304.8,26.4 L306.3,27.4 L307.8,28.4 L309.3,29.2 L310.8,30.0 L312.3,30.7 L313.7,31.3 L315.2,31.8 L316.7,32.2 L318.2,32.4 L319.7,32.4 L321.2,32.4 L322.7,32.4 L324.2,32.3 L325.7,32.1 L327.2,31.9 L328.7,31.7 L330.2,31.4 L331.7,31.0 L333.2,30.6 L334.7,30.1 L336.1,29.7 L337.6,29.3 L339.1,29.0 L340.6,28.9 L342.1,28.9 L343.6,28.9 L345.1,29.1 L346.6,29.4 L348.1,29.8 L349.6,30.5 L351.1,31.4 L352.6,32.6 L354.1,34.0 L355.6,35.6 L357.1,37.4 L358.5,39.4 L360.0,41.5 L361.5,43.7 L363.0,45.9 L364.5,48.1 L366.0,50.3 L367.5,52.6 L369.0,54.9 L370.5,57.2 L372.0,59.4 L373.5,61.4 L375.0,63.2 L376.5,64.7 L378.0,65.9 L379.5,66.9 L380.9,67.6 L382.4,68.3 L383.9,68.8 L385.4,69.0 L386.9,68.8 L388.4,68.4 L389.9,67.7 L391.4,66.7 L392.9,65.6 L394.4,64.5 L395.9,63.2 L397.4,61.8 L398.9,60.5 L400.4,59.2 L401.9,57.8 L403.3,56.6 L404.8,55.4 L406.3,54.2 L407.8,53.2 L409.3,52.2 L410.8,51.3 L412.3,50.5 L413.8,49.8 L415.3,49.1 L416.8,48.5 L418.3,48.0 L419.8,47.5 L421.3,47.0 L422.8,46.5 L424.3,46.1 L425.7,45.8 L427.2,45.4 L428.7,45.1 L430.2,44.7 L431.7,44.4 L433.2,44.0 L434.7,43.7 L436.2,43.4 L437.7,43.1 L439.2,42.9 L440.7,42.6 L442.2,42.4 L443.7,42.1 L445.2,41.9 L445.2,71.9 L443.7,71.9 L442.2,71.9 L440.7,72.0 L439.2,72.0 L437.7,72.1 L436.2,72.3 L434.7,72.4 L433.2,72.6 L431.7,72.9 L430.2,73.1 L428.7,73.4 L427.2,73.6 L425.7,74.0 L424.3,74.3 L422.8,74.6 L421.3,75.1 L419.8,75.5 L418.3,76.0 L416.8,76.6 L415.3,77.2 L413.8,77.8 L412.3,78.5 L410.8,79.3 L409.3,80.2 L407.8,81.3 L406.3,82.5 L404.8,83.9 L403.3,85.5 L401.9,87.1 L400.4,88.9 L398.9,90.7 L397.4,92.7 L395.9,94.6 L394.4,96.5 L392.9,98.3 L391.4,100.1 L389.9,101.7 L388.4,103.3 L386.9,104.7 L385.4,106.0 L383.9,107.1 L382.4,108.1 L380.9,108.9 L379.5,109.5 L378.0,110.0 L376.5,110.2 L375.0,110.3 L373.5,110.1 L372.0,109.7 L370.5,109.2 L369.0,108.4 L367.5,107.5 L366.0,106.3 L364.5,105.1 L363.0,103.9 L361.5,102.7 L360.0,101.5 L358.5,100.2 L357.1,98.8 L355.6,97.4 L354.1,96.0 L352.6,94.4 L351.1,92.9 L349.6,91.3 L348.1,89.8 L346.6,88.4 L345.1,87.2 L343.6,86.0 L342.1,84.9 L340.6,84.0 L339.1,83.0 L337.6,82.0 L336.1,81.1 L334.7,80.2 L333.2,79.3 L331.7,78.5 L330.2,77.6 L328.7,76.6 L327.2,75.5 L325.7,74.3 L324.2,73.0 L322.7,71.8 L321.2,70.5 L319.7,69.3 L318.2,68.1 L316.7,67.0 L315.2,65.9 L313.7,64.8 L312.3,63.6 L310.8,62.4 L309.3,61.0 L307.8,59.7 L306.3,58.3 L304.8,56.9 L303.3,55.5 L301.8,54.2 L300.3,53.0 L298.8,52.0 L297.3,51.0 L295.8,50.2 L294.3,49.5 L292.8,48.9 L291.3,48.5 L289.9,48.2 L288.4,48.0 L286.9,48.0 L285.4,48.2 L283.9,48.5 L282.4,49.0 L280.9,49.8 L279.4,50.6 L277.9,51.5 L276.4,52.5 L274.9,53.6 L273.4,54.7 L271.9,55.9 L270.4,57.2Z" fill="#000000" fill-opacity="0.2" stroke="#000000" stroke-opacity="0.2" stroke-width="0.7"/><path d="M270.4,19.1 L271.9,18.7 L273.4,18.3 L274.9,17.9 L276.4,17.5 L277.9,17.2 L279.4,16.9 L280.9,16.7 L282.4,16.6 L283.9,16.7 L285.4,16.8 L286.9,17.1 L288.4,17.4 L289.9,17.7 L291.3,18.2 L292.8,18.9 L294.3,19.8 L295.8,20.9 L297.3,22.1 L298.8,23.2 L300.3,24.3 L301.8,25.4 L303.3,26.6 L304.8,27.7 L306.3,28.9 L307.8,30.2 L309.3,31.4 L310.8,32.5 L312.3,33.5 L313.7,34.3 L315.2,34.9 L316.7,35.3 L318.2,35.6 L319.7,35.8 L321.2,35.9 L322.7,36.0 L324.2,35.9 L325.7,35.8 L327.2,35.6 L328.7,35.4 L330.2,35.1 L331.7,34.8 L333.2,34.4 L334.7,34.1 L336.1,33.8 L337.6,33.5 L339.1,33.3 L340.6,33.2 L342.1,33.2 L343.6,33.4 L345.1,33.7 L346.6,34.3 L348.1,34.9 L349.6,35.8 L351.1,36.9 L352.6,38.2 L354.1,39.6 L355.6,41.2 L357.1,42.8 L358.5,44.4 L360.0,46.0 L361.5,47.8 L363.0,49.8 L364.5,51.9 L366.0,54.2 L367.5,56.5 L369.0,58.8 L370.5,60.9 L372.0,62.8 L373.5,64.5 L375.0,66.0 L376.5,67.3 L378.0,68.4 L379.5,69.3 L380.9,70.0 L382.4,70.4 L383.9,70.7 L385.4,70.7 L386.9,70.5 L388.4,70.2 L389.9,69.7 L391.4,68.9 L392.9,67.9 L394.4,66.8 L395.9,65.5 L397.4,64.0 L398.9,62.6 L400.4,61.1 L401.9,59.6 L403.3,58.0 L404.8,56.5 L406.3,55.1 L407.8,53.6 L409.3,52.2 L410.8,50.7 L412.3,49.3 L413.8,48.0 L415.3,46.9 L416.8,45.9 L418.3,45.1 L419.8,44.5 L421.3,44.0 L422.8,43.5 L424.3,43.1 L425.7,42.7 L427.2,42.3 L428.7,42.0 L430.2,41.6 L431.7,41.3 L433.2,41.0 L434.7,40.6 L436.2,40.3 L437.7,40.0 L439.2,39.6 L440.7,39.3 L442.2,39.0 L443.7,38.6 L445.2,38.3 L445.2,66.3 L443.7,66.2 L442.2,66.1 L440.7,66.0 L439.2,66.0 L437.7,65.9 L436.2,66.0 L434.7,66.0 L433.2,66.1 L431.7,66.3 L430.2,66.4 L428.7,66.6 L427.2,66.8 L425.7,67.0 L424.3,67.3 L422.8,67.7 L421.3,68.1 L419.8,68.6 L418.3,69.2 L416.8,69.9 L415.3,70.9 L413.8,72.0 L412.3,73.3 L410.8,74.7 L409.3,76.2 L407.8,77.8 L406.3,79.5 L404.8,81.4 L403.3,83.4 L401.9,85.5 L400.4,87.7 L398.9,89.9 L397.4,92.1 L395.9,94.3 L394.4,96.4 L392.9,98.4 L391.4,100.2 L389.9,101.7 L388.4,103.1 L386.9,104.3 L385.4,105.3 L383.9,106.3 L382.4,107.1 L380.9,107.7 L379.5,108.1 L378.0,108.2 L376.5,108.2 L375.0,108.0 L373.5,107.7 L372.0,107.4 L370.5,107.1 L369.0,106.5 L367.5,105.9 L366.0,105.0 L364.5,104.0 L363.0,102.9 L361.5,101.6 L360.0,100.0 L358.5,98.4 L357.1,96.8 L355.6,95.2 L354.1,93.6 L352.6,92.2 L351.1,90.9 L349.6,89.8 L348.1,88.9 L346.6,88.3 L345.1,87.7 L343.6,87.2 L342.1,86.7 L340.6,86.1 L339.1,85.4 L337.6,84.7 L336.1,83.9 L334.7,83.2 L333.2,82.5 L331.7,81.9 L330.2,81.2 L328.7,80.6 L327.2,79.8 L325.7,78.8 L324.2,77.8 L322.7,76.6 L321.2,75.4 L319.7,74.1 L318.2,72.9 L316.7,71.6 L315.2,70.3 L313.7,69.0 L312.3,67.6 L310.8,66.2 L309.3,64.6 L307.8,63.0 L306.3,61.3 L304.8,59.8 L303.3,58.2 L301.8,56.8 L300.3,55.4 L298.8,54.0 L297.3,52.6 L295.8,51.3 L294.3,50.0 L292.8,49.0 L291.3,48.2 L289.9,47.7 L288.4,47.4 L286.9,47.4 L285.4,47.5 L283.9,47.8 L282.4,48.4 L280.9,49.2 L279.4,50.2 L277.9,51.3 L276.4,52.6 L274.9,54.0 L273.4,55.6 L271.9,57.1 L270.4,58.8Z" fill="#0000ff" fill-opacity="0.2" stroke="#0000ff" stroke-opacity="0.2" stroke-width="0.7"/><path d="M270.4,20.8 L271.9,20.6 L273.4,20.4 L274.9,20.2 L276.4,19.9 L277.9,19.7 L279.4,19.5 L280.9,19.3 L282.4,19.2 L283.9,19.2 L285.4,19.3 L286.9,19.5 L288.4,19.8 L289.9,20.1 L291.3,20.5 L292.8,21.1 L294.3,21.8 L295.8,22.7 L297.3,23.6 L298.8,24.6 L300.3,25.6 L301.8,26.5 L303.3,27.5 L304.8,28.4 L306.3,29.2 L307.8,30.0 L309.3,30.6 L310.8,31.2 L312.3,31.7 L313.7,32.2 L315.2,32.7 L316.7,33.1 L318.2,33.5 L319.7,33.8 L321.2,34.0 L322.7,34.1 L324.2,34.0 L325.7,33.9 L327.2,33.6 L328.7,33.3 L330.2,33.0 L331.7,32.6 L333.2,32.4 L334.7,32.2 L336.1,32.1 L337.6,32.0 L339.1,32.1 L340.6,32.2 L342.1,32.4 L343.6,32.8 L345.1,33.4 L346.6,34.2 L348.1,35.2 L349.6,36.3 L351.1,37.6 L352.6,38.9 L354.1,40.4 L355.6,41.9 L357.1,43.5 L358.5,45.2 L360.0,46.8 L361.5,48.5 L363.0,50.2 L364.5,51.9 L366.0,53.8 L367.5,55.6 L369.0,57.5 L370.5,59.4 L372.0,61.2 L373.5,62.8 L375.0,64.2 L376.5,65.4 L378.0,66.3 L379.5,67.0 L380.9,67.6 L382.4,67.9 L383.9,68.0 L385.4,67.9 L386.9,67.5 L388.4,67.0 L389.9,66.4 L391.4,65.6 L392.9,64.8 L394.4,64.0 L395.9,63.0 L397.4,61.9 L398.9,60.6 L400.4,59.3 L401.9,57.8 L403.3,56.2 L404.8,54.5 L406.3,52.9 L407.8,51.5 L409.3,50.1 L410.8,48.9 L412.3,47.8 L413.8,46.8 L415.3,45.8 L416.8,45.0 L418.3,44.2 L419.8,43.4 L421.3,42.8 L422.8,42.2 L424.3,41.7 L425.7,41.2 L427.2,40.6 L428.7,40.1 L430.2,39.6 L431.7,39.0 L433.2,38.5 L434.7,37.9 L436.2,37.3 L437.7,36.7 L439.2,36.0 L440.7,35.3 L442.2,34.6 L443.7,33.9 L445.2,33.2 L445.2,73.2 L443.7,72.6 L442.2,72.1 L440.7,71.5 L439.2,71.0 L437.7,70.5 L436.2,70.1 L434.7,69.7 L433.2,69.4 L431.7,69.1 L430.2,68.8 L428.7,68.5 L427.2,68.3 L425.7,68.2 L424.3,68.1 L422.8,68.1 L421.3,68.2 L419.8,68.4 L418.3,68.7 L416.8,69.1 L415.3,69.6 L413.8,70.1 L412.3,70.8 L410.8,71.6 L409.3,72.6 L407.8,73.7 L406.3,75.0 L404.8,76.5 L403.3,78.2 L401.9,80.3 L400.4,82.8 L398.9,85.4 L397.4,88.2 L395.9,90.9 L394.4,93.6 L392.9,96.2 L391.4,98.5 L389.9,100.4 L388.4,102.2 L386.9,103.7 L385.4,105.0 L383.9,106.1 L382.4,107.0 L380.9,107.6 L379.5,108.0 L378.0,108.3 L376.5,108.5 L375.0,108.5 L373.5,108.4 L372.0,108.0 L370.5,107.5 L369.0,106.9 L367.5,106.1 L366.0,105.4 L364.5,104.6 L363.0,103.7 L361.5,102.7 L360.0,101.7 L358.5,100.7 L357.1,99.8 L355.6,98.8 L354.1,97.7 L352.6,96.7 L351.1,95.5 L349.6,94.3 L348.1,93.0 L346.6,91.7 L345.1,90.5 L343.6,89.3 L342.1,88.2 L340.6,87.2 L339.1,86.3 L337.6,85.4 L336.1,84.7 L334.7,84.0 L333.2,83.4 L331.7,82.7 L330.2,82.1 L328.7,81.4 L327.2,80.6 L325.7,79.7 L324.2,78.8 L322.7,77.8 L321.2,76.7 L319.7,75.6 L318.2,74.4 L316.7,73.2 L315.2,71.9 L313.7,70.5 L312.3,69.2 L310.8,67.8 L309.3,66.4 L307.8,65.1 L306.3,63.7 L304.8,62.3 L303.3,60.9 L301.8,59.4 L300.3,57.9 L298.8,56.4 L297.3,54.9 L295.8,53.5 L294.3,52.3 L292.8,51.3 L291.3,50.5 L289.9,50.1 L288.4,49.8 L286.9,49.7 L285.4,49.8 L283.9,50.0 L282.4,50.4 L280.9,51.0 L279.4,51.8 L277.9,52.7 L276.4,53.7 L274.9,54.8 L273.4,55.9 L271.9,57.2 L270.4,58.5Z" fill="#ff0000" fill-opacity="0.2" stroke="#ff0000" stroke-opacity="0.2" stroke-width="0.7"/><path d="M270.4,23.9 L271.9,23.3 L273.4,22.6 L274.9,22.0 L276.4,21.4 L277.9,20.8 L279.4,20.3 L280.9,19.8 L282.4,19.4 L283.9,19.1 L285.4,18.8 L286.9,18.6 L288.4,18.4 L289.9,18.4 L291.3,18.4 L292.8,18.5 L294.3,18.8 L295.8,19.2 L297.3,19.7 L298.8,20.3 L300.3,20.9 L301.8,21.6 L303.3,22.5 L304.8,23.4 L306.3,24.5 L307.8,25.7 L309.3,27.0 L310.8,28.3 L312.3,29.6 L313.7,30.9 L315.2,32.1 L316.7,33.1 L318.2,34.1 L319.7,35.0 L321.2,35.8 L322.7,36.5 L324.2,37.1 L325.7,37.7 L327.2,38.2 L328.7,38.7 L330.2,39.2 L331.7,39.5 L333.2,39.8 L334.7,40.1 L336.1,40.2 L337.6,40.3 L339.1,40.4 L340.6,40.5 L342.1,40.8 L343.6,41.2 L345.1,41.8 L346.6,42.5 L348.1,43.3 L349.6,44.1 L351.1,45.0 L352.6,46.0 L354.1,47.1 L355.6,48.2 L357.1,49.5 L358.5,50.8 L360.0,52.3 L361.5,53.9 L363.0,55.5 L364.5,57.2 L366.0,59.0 L367.5,60.8 L369.0,62.6 L370.5,64.4 L372.0,66.3 L373.5,68.0 L375.0,69.7 L376.5,71.3 L378.0,72.9 L379.5,74.5 L380.9,76.0 L382.4,77.2 L383.9,78.2 L385.4,78.7 L386.9,78.9 L388.4,78.8 L389.9,78.6 L391.4,78.1 L392.9,77.5 L394.4,76.5 L395.9,75.4 L397.4,73.9 L398.9,72.1 L400.4,70.1 L401.9,67.7 L403.3,65.0 L404.8,62.1 L406.3,59.3 L407.8,56.7 L409.3,54.6 L410.8,53.0 L412.3,51.6 L413.8,50.5 L415.3,49.5 L416.8,48.6 L418.3,47.8 L419.8,47.1 L421.3,46.5 L422.8,45.9 L424.3,45.3 L425.7,44.7 L427.2,44.2 L428.7,43.6 L430.2,43.0 L431.7,42.5 L433.2,42.0 L434.7,41.4 L436.2,40.9 L437.7,40.4 L439.2,39.9 L440.7,39.5 L442.2,39.0 L443.7,38.5 L445.2,38.0 L445.2,72.0 L443.7,71.9 L442.2,71.6 L440.7,71.5 L439.2,71.3 L437.7,71.2 L436.2,71.2 L434.7,71.2 L433.2,71.2 L431.7,71.4 L430.2,71.5 L428.7,71.7 L427.2,71.9 L425.7,72.2 L424.3,72.5 L422.8,72.8 L421.3,73.2 L419.8,73.7 L418.3,74.2 L416.8,74.9 L415.3,75.7 L413.8,76.6 L412.3,77.7 L410.8,79.0 L409.3,80.6 L407.8,82.8 L406.3,85.4 L404.8,88.5 L403.3,91.6 L401.9,94.5 L400.4,97.2 L398.9,99.5 L397.4,101.7 L395.9,103.5 L394.4,105.2 L392.9,106.6 L391.4,107.7 L389.9,108.7 L388.4,109.5 L386.9,110.1 L385.4,110.5 L383.9,110.7 L382.4,110.8 L380.9,110.9 L379.5,110.8 L378.0,110.7 L376.5,110.3 L375.0,109.7 L373.5,108.9 L372.0,107.9 L370.5,106.9 L369.0,105.9 L367.5,104.8 L366.0,103.7 L364.5,102.4 L363.0,101.2 L361.5,99.8 L360.0,98.3 L358.5,96.8 L357.1,95.2 L355.6,93.7 L354.1,92.2 L352.6,90.7 L351.1,89.2 L349.6,87.7 L348.1,86.3 L346.6,85.0 L345.1,83.8 L343.6,82.8 L342.1,81.8 L340.6,81.0 L339.1,80.2 L337.6,79.5 L336.1,78.8 L334.7,78.0 L333.2,77.2 L331.7,76.3 L330.2,75.2 L328.7,74.1 L327.2,72.9 L325.7,71.7 L324.2,70.3 L322.7,68.9 L321.2,67.4 L319.7,65.9 L318.2,64.3 L316.7,62.7 L315.2,61.0 L313.7,59.4 L312.3,57.7 L310.8,56.1 L309.3,54.4 L307.8,52.8 L306.3,51.3 L304.8,50.0 L303.3,48.8 L301.8,47.7 L300.3,46.7 L298.8,45.9 L297.3,45.1 L295.8,44.5 L294.3,44.0 L292.8,43.6 L291.3,43.4 L289.9,43.4 L288.4,43.5 L286.9,43.9 L285.4,44.4 L283.9,45.1 L282.4,46.0 L280.9,47.0 L279.4,48.3 L277.9,49.6 L276.4,51.1 L274.9,52.6 L273.4,54.2 L271.9,55.9 L270.4,57.6Z" fill="#008000" fill-opacity="0.2" stroke="#008000" stroke-opacity="0.2" stroke-width="0.7"/><path d="M270.4,21.0 L271.9,20.3 L273.4,19.4 L274.9,18.6 L276.4,17.9 L277.9,17.2 L279.4,16.7 L280.9,16.3 L282.4,16.0 L283.9,15.9 L285.4,15.9 L286.9,16.0 L288.4,16.2 L289.9,16.6 L291.3,17.2 L292.8,17.8 L294.3,18.5 L295.8,19.3 L297.3,20.1 L298.8,20.9 L300.3,21.8 L301.8,22.8 L303.3,23.9 L304.8,25.0 L306.3,26.2 L307.8,27.3 L309.3,28.4 L310.8,29.4 L312.3,30.4 L313.7,31.2 L315.2,32.1 L316.7,32.9 L318.2,33.7 L319.7,34.6 L321.2,35.4 L322.7,36.1 L324.2,36.7 L325.7,37.1 L327.2,37.5 L328.7,37.8 L330.2,37.9 L331.7,38.1 L333.2,38.2 L334.7,38.3 L336.1,38.5 L337.6,38.7 L339.1,39.0 L340.6,39.5 L342.1,40.2 L343.6,40.9 L345.1,41.7 L346.6,42.4 L348.1,43.2 L349.6,44.0 L351.1,44.8 L352.6,45.5 L354.1,46.1 L355.6,46.4 L357.1,46.7 L358.5,47.2 L360.0,47.9 L361.5,49.2 L363.0,50.6 L364.5,52.0 L366.0,53.3 L367.5,54.7 L369.0,56.1 L370.5,57.8 L372.0,59.9 L373.5,62.2 L375.0,64.4 L376.5,66.7 L378.0,69.2 L379.5,71.6 L380.9,73.5 L382.4,74.9 L383.9,76.0 L385.4,76.7 L386.9,77.2 L388.4,77.3 L389.9,77.1 L391.4,76.7 L392.9,76.0 L394.4,75.0 L395.9,73.8 L397.4,72.2 L398.9,70.3 L400.4,68.1 L401.9,65.7 L403.3,62.9 L404.8,60.1 L406.3,57.3 L407.8,54.9 L409.3,53.0 L410.8,51.7 L412.3,50.6 L413.8,49.8 L415.3,49.0 L416.8,48.4 L418.3,47.8 L419.8,47.3 L421.3,46.8 L422.8,46.3 L424.3,45.9 L425.7,45.4 L427.2,45.0 L428.7,44.6 L430.2,44.1 L431.7,43.7 L433.2,43.3 L434.7,42.9 L436.2,42.4 L437.7,42.1 L439.2,41.7 L440.7,41.3 L442.2,41.0 L443.7,40.6 L445.2,40.3 L445.2,72.3 L443.7,72.3 L442.2,72.3 L440.7,72.3 L439.2,72.3 L437.7,72.4 L436.2,72.5 L434.7,72.7 L433.2,72.9 L431.7,73.1 L430.2,73.3 L428.7,73.6 L427.2,73.9 L425.7,74.2 L424.3,74.5 L422.8,74.9 L421.3,75.2 L419.8,75.6 L418.3,76.1 L416.8,76.6 L415.3,77.2 L413.8,77.9 L412.3,78.7 L410.8,79.7 L409.3,81.1 L407.8,82.9 L406.3,85.3 L404.8,88.1 L403.3,90.9 L401.9,93.7 L400.4,96.1 L398.9,98.4 L397.4,100.4 L395.9,102.4 L394.4,104.1 L392.9,105.7 L391.4,107.1 L389.9,108.3 L388.4,109.4 L386.9,110.4 L385.4,111.1 L383.9,111.5 L382.4,111.6 L380.9,111.5 L379.5,111.6 L378.0,112.0 L376.5,112.4 L375.0,112.4 L373.5,112.2 L372.0,111.8 L370.5,111.2 L369.0,110.1 L367.5,108.7 L366.0,107.3 L364.5,106.0 L363.0,104.6 L361.5,103.2 L360.0,101.7 L358.5,99.7 L357.1,97.5 L355.6,95.2 L354.1,93.1 L352.6,91.2 L351.1,89.4 L349.6,87.7 L348.1,86.0 L346.6,84.3 L345.1,82.8 L343.6,81.4 L342.1,80.2 L340.6,79.2 L339.1,78.3 L337.6,77.6 L336.1,77.0 L334.7,76.6 L333.2,76.3 L331.7,76.1 L330.2,75.9 L328.7,75.8 L327.2,75.5 L325.7,75.1 L324.2,74.7 L322.7,74.1 L321.2,73.4 L319.7,72.6 L318.2,71.7 L316.7,70.6 L315.2,69.5 L313.7,68.3 L312.3,67.0 L310.8,65.7 L309.3,64.2 L307.8,62.7 L306.3,61.1 L304.8,59.6 L303.3,58.2 L301.8,56.9 L300.3,55.8 L298.8,54.9 L297.3,54.1 L295.8,53.3 L294.3,52.6 L292.8,51.9 L291.3,51.4 L289.9,51.0 L288.4,50.7 L286.9,50.5 L285.4,50.6 L283.9,50.8 L282.4,51.1 L280.9,51.7 L279.4,52.3 L277.9,53.1 L276.4,54.1 L274.9,55.2 L273.4,56.4 L271.9,57.6 L270.4,58.9Z" fill="#800080" fill-opacity="0.2" stroke="#800080" stroke-opacity="0.2" stroke-width="0.7"/><path d="M270.4,25.8 L271.9,25.6 L273.4,25.4 L274.9,25.3 L276.4,25.1 L277.9,24.9 L279.4,24.7 L280.9,24.5 L282.4,24.3 L283.9,24.1 L285.4,24.1 L286.9,24.1 L288.4,24.3 L289.9,24.5 L291.3,24.9 L292.8,25.5 L294.3,26.2 L295.8,27.1 L297.3,28.2 L298.8,29.3 L300.3,30.5 L301.8,31.7 L303.3,32.9 L304.8,34.0 L306.3,35.1 L307.8,36.2 L309.3,37.2 L310.8,38.1 L312.3,38.9 L313.7,39.6 L315.2,40.3 L316.7,40.9 L318.2,41.4 L319.7,41.9 L321.2,42.4 L322.7,42.7 L324.2,43.1 L325.7,43.4 L327.2,43.6 L328.7,43.9 L330.2,44.1 L331.7,44.3 L333.2,44.6 L334.7,44.9 L336.1,45.2 L337.6,45.6 L339.1,46.1 L340.6,46.6 L342.1,47.2 L343.6,47.8 L345.1,48.6 L346.6,49.3 L348.1,50.2 L349.6,51.2 L351.1,52.2 L352.6,53.3 L354.1,54.6 L355.6,55.9 L357.1,57.3 L358.5,58.8 L360.0,60.4 L361.5,62.0 L363.0,63.6 L364.5,65.1 L366.0,66.6 L367.5,68.1 L369.0,69.5 L370.5,70.9 L372.0,72.1 L373.5,73.2 L375.0,74.0 L376.5,74.5 L378.0,74.9 L379.5,75.2 L380.9,75.3 L382.4,75.2 L383.9,74.9 L385.4,74.4 L386.9,73.7 L388.4,72.8 L389.9,71.7 L391.4,70.5 L392.9,69.2 L394.4,67.7 L395.9,66.0 L397.4,64.1 L398.9,62.1 L400.4,60.0 L401.9,57.9 L403.3,55.8 L404.8,53.6 L406.3,51.5 L407.8,49.6 L409.3,47.8 L410.8,46.2 L412.3,44.6 L413.8,43.0 L415.3,41.4 L416.8,39.9 L418.3,38.3 L419.8,36.8 L421.3,35.3 L422.8,33.9 L424.3,32.6 L425.7,31.2 L427.2,29.8 L428.7,28.4 L430.2,27.0 L431.7,25.7 L433.2,24.3 L434.7,23.1 L436.2,21.9 L437.7,20.8 L439.2,19.7 L440.7,18.7 L442.2,17.7 L443.7,16.7 L445.2,15.8 L445.2,99.8 L443.7,99.3 L442.2,98.7 L440.7,98.1 L439.2,97.5 L437.7,96.9 L436.2,96.3 L434.7,95.8 L433.2,95.2 L431.7,94.6 L430.2,94.0 L428.7,93.5 L427.2,92.9 L425.7,92.4 L424.3,92.0 L422.8,91.7 L421.3,91.4 L419.8,91.1 L418.3,91.0 L416.8,90.9 L415.3,91.0 L413.8,91.1 L412.3,91.5 L410.8,92.0 L409.3,92.8 L407.8,93.9 L406.3,95.2 L404.8,96.7 L403.3,98.2 L401.9,99.8 L400.4,101.2 L398.9,102.5 L397.4,103.8 L395.9,104.9 L394.4,105.8 L392.9,106.6 L391.4,107.3 L389.9,107.8 L388.4,108.1 L386.9,108.4 L385.4,108.4 L383.9,108.3 L382.4,108.0 L380.9,107.5 L379.5,107.0 L378.0,106.3 L376.5,105.5 L375.0,104.6 L373.5,103.4 L372.0,101.9 L370.5,100.3 L369.0,98.6 L367.5,96.9 L366.0,95.1 L364.5,93.4 L363.0,91.7 L361.5,90.0 L360.0,88.4 L358.5,86.8 L357.1,85.4 L355.6,84.1 L354.1,82.9 L352.6,81.8 L351.1,80.9 L349.6,80.0 L348.1,79.1 L346.6,78.3 L345.1,77.6 L343.6,76.8 L342.1,76.2 L340.6,75.6 L339.1,75.0 L337.6,74.5 L336.1,74.0 L334.7,73.6 L333.2,73.2 L331.7,72.9 L330.2,72.6 L328.7,72.3 L327.2,72.0 L325.7,71.6 L324.2,71.3 L322.7,70.8 L321.2,70.4 L319.7,69.9 L318.2,69.4 L316.7,68.8 L315.2,68.1 L313.7,67.4 L312.3,66.6 L310.8,65.7 L309.3,64.8 L307.8,63.8 L306.3,62.7 L304.8,61.5 L303.3,60.3 L301.8,59.0 L300.3,57.8 L298.8,56.5 L297.3,55.4 L295.8,54.3 L294.3,53.4 L292.8,52.6 L291.3,52.0 L289.9,51.6 L288.4,51.3 L286.9,51.1 L285.4,51.1 L283.9,51.1 L282.4,51.3 L280.9,51.8 L279.4,52.5 L277.9,53.5 L276.4,54.5 L274.9,55.7 L273.4,56.9 L271.9,58.2 L270.4,59.5Z" fill="#ffa500" fill-opacity="0.2" stroke="#ffa500" stroke-opacity="0.2" stroke-width="0.7"/><path d="M270.4,40.3 L271.9,39.3 L273.4,38.3 L274.9,37.4 L276.4,36.5 L277.9,35.7 L279.4,34.9 L280.9,34.2 L282.4,33.6 L283.9,33.2 L285.4,32.9 L286.9,32.9 L288.4,32.9 L289.9,33.1 L291.3,33.5 L292.8,33.9 L294.3,34.4 L295.8,35.2 L297.3,36.0 L298.8,37.0 L300.3,38.0 L301.8,39.2 L303.3,40.4 L304.8,41.6 L306.3,42.8 L307.8,44.0 L309.3,45.1 L310.8,46.2 L312.3,47.1 L313.7,48.0 L315.2,48.8 L316.7,49.6 L318.2,50.2 L319.7,50.9 L321.2,51.5 L322.7,52.1 L324.2,52.6 L325.7,53.2 L327.2,53.7 L328.7,54.1 L330.2,54.5 L331.7,54.7 L333.2,55.0 L334.7,55.2 L336.1,55.4 L337.6,55.7 L339.1,56.0 L340.6,56.4 L342.1,56.9 L343.6,57.5 L345.1,58.1 L346.6,58.9 L348.1,59.8 L349.6,60.9 L351.1,62.1 L352.6,63.5 L354.1,65.0 L355.6,66.5 L357.1,68.1 L358.5,69.8 L360.0,71.5 L361.5,73.2 L363.0,74.9 L364.5,76.6 L366.0,78.3 L367.5,80.0 L369.0,81.7 L370.5,83.2 L372.0,84.6 L373.5,85.8 L375.0,86.8 L376.5,87.5 L378.0,88.0 L379.5,88.2 L380.9,88.3 L382.4,88.2 L383.9,87.9 L385.4,87.5 L386.9,86.8 L388.4,85.8 L389.9,84.7 L391.4,83.4 L392.9,82.0 L394.4,80.5 L395.9,78.9 L397.4,77.3 L398.9,75.6 L400.4,74.0 L401.9,72.5 L403.3,71.0 L404.8,69.6 L406.3,68.4 L407.8,67.2 L409.3,66.2 L410.8,65.3 L412.3,64.5 L413.8,63.8 L415.3,63.1 L416.8,62.5 L418.3,62.0 L419.8,61.5 L421.3,61.0 L422.8,60.6 L424.3,60.2 L425.7,59.9 L427.2,59.5 L428.7,59.2 L430.2,58.9 L431.7,58.6 L433.2,58.3 L434.7,58.1 L436.2,57.8 L437.7,57.6 L439.2,57.5 L440.7,57.3 L442.2,57.2 L443.7,57.0 L445.2,56.9" fill="none" stroke="#000000" stroke-width="1.2" stroke-opacity="1.0" stroke-linejoin="round" stroke-linecap="butt"/><path d="M270.4,39.0 L271.9,37.9 L273.4,36.9 L274.9,36.0 L276.4,35.1 L277.9,34.2 L279.4,33.5 L280.9,32.9 L282.4,32.5 L283.9,32.3 L285.4,32.2 L286.9,32.2 L288.4,32.4 L289.9,32.7 L291.3,33.2 L292.8,33.9 L294.3,34.9 L295.8,36.1 L297.3,37.3 L298.8,38.6 L300.3,39.9 L301.8,41.1 L303.3,42.4 L304.8,43.7 L306.3,45.1 L307.8,46.6 L309.3,48.0 L310.8,49.3 L312.3,50.6 L313.7,51.6 L315.2,52.6 L316.7,53.5 L318.2,54.2 L319.7,55.0 L321.2,55.7 L322.7,56.3 L324.2,56.9 L325.7,57.3 L327.2,57.7 L328.7,58.0 L330.2,58.2 L331.7,58.3 L333.2,58.5 L334.7,58.7 L336.1,58.8 L337.6,59.1 L339.1,59.3 L340.6,59.6 L342.1,59.9 L343.6,60.3 L345.1,60.7 L346.6,61.3 L348.1,61.9 L349.6,62.8 L351.1,63.9 L352.6,65.2 L354.1,66.6 L355.6,68.2 L357.1,69.8 L358.5,71.4 L360.0,73.0 L361.5,74.7 L363.0,76.3 L364.5,78.0 L366.0,79.6 L367.5,81.2 L369.0,82.7 L370.5,84.0 L372.0,85.1 L373.5,86.1 L375.0,87.0 L376.5,87.7 L378.0,88.3 L379.5,88.7 L380.9,88.8 L382.4,88.8 L383.9,88.5 L385.4,88.0 L386.9,87.4 L388.4,86.6 L389.9,85.7 L391.4,84.6 L392.9,83.2 L394.4,81.6 L395.9,79.9 L397.4,78.1 L398.9,76.2 L400.4,74.4 L401.9,72.5 L403.3,70.7 L404.8,69.0 L406.3,67.3 L407.8,65.7 L409.3,64.2 L410.8,62.7 L412.3,61.3 L413.8,60.0 L415.3,58.9 L416.8,57.9 L418.3,57.2 L419.8,56.5 L421.3,56.0 L422.8,55.6 L424.3,55.2 L425.7,54.9 L427.2,54.5 L428.7,54.3 L430.2,54.0 L431.7,53.8 L433.2,53.5 L434.7,53.3 L436.2,53.1 L437.7,53.0 L439.2,52.8 L440.7,52.7 L442.2,52.5 L443.7,52.4 L445.2,52.3" fill="none" stroke="#0000ff" stroke-width="1.2" stroke-opacity="1.0" stroke-linejoin="round" stroke-linecap="butt"/><path d="M270.4,39.6 L271.9,38.9 L273.4,38.2 L274.9,37.5 L276.4,36.8 L277.9,36.2 L279.4,35.6 L280.9,35.1 L282.4,34.8 L283.9,34.6 L285.4,34.6 L286.9,34.6 L288.4,34.8 L289.9,35.1 L291.3,35.5 L292.8,36.2 L294.3,37.1 L295.8,38.1 L297.3,39.3 L298.8,40.5 L300.3,41.7 L301.8,43.0 L303.3,44.2 L304.8,45.4 L306.3,46.5 L307.8,47.5 L309.3,48.5 L310.8,49.5 L312.3,50.4 L313.7,51.4 L315.2,52.3 L316.7,53.2 L318.2,54.0 L319.7,54.7 L321.2,55.3 L322.7,55.9 L324.2,56.4 L325.7,56.8 L327.2,57.1 L328.7,57.3 L330.2,57.5 L331.7,57.7 L333.2,57.9 L334.7,58.1 L336.1,58.4 L337.6,58.7 L339.1,59.2 L340.6,59.7 L342.1,60.3 L343.6,61.0 L345.1,61.9 L346.6,63.0 L348.1,64.1 L349.6,65.3 L351.1,66.5 L352.6,67.8 L354.1,69.1 L355.6,70.3 L357.1,71.6 L358.5,72.9 L360.0,74.3 L361.5,75.6 L363.0,76.9 L364.5,78.3 L366.0,79.6 L367.5,80.9 L369.0,82.2 L370.5,83.5 L372.0,84.6 L373.5,85.6 L375.0,86.4 L376.5,86.9 L378.0,87.3 L379.5,87.5 L380.9,87.6 L382.4,87.4 L383.9,87.1 L385.4,86.4 L386.9,85.6 L388.4,84.6 L389.9,83.4 L391.4,82.1 L392.9,80.5 L394.4,78.8 L395.9,76.9 L397.4,75.0 L398.9,73.0 L400.4,71.0 L401.9,69.1 L403.3,67.2 L404.8,65.5 L406.3,64.0 L407.8,62.6 L409.3,61.3 L410.8,60.3 L412.3,59.3 L413.8,58.5 L415.3,57.7 L416.8,57.0 L418.3,56.4 L419.8,55.9 L421.3,55.5 L422.8,55.1 L424.3,54.9 L425.7,54.7 L427.2,54.5 L428.7,54.3 L430.2,54.2 L431.7,54.1 L433.2,53.9 L434.7,53.8 L436.2,53.7 L437.7,53.6 L439.2,53.5 L440.7,53.4 L442.2,53.3 L443.7,53.3 L445.2,53.2" fill="none" stroke="#ff0000" stroke-width="1.2" stroke-opacity="1.0" stroke-linejoin="round" stroke-linecap="butt"/><path d="M270.4,40.8 L271.9,39.6 L273.4,38.4 L274.9,37.3 L276.4,36.2 L277.9,35.2 L279.4,34.3 L280.9,33.4 L282.4,32.7 L283.9,32.1 L285.4,31.6 L286.9,31.2 L288.4,31.0 L289.9,30.9 L291.3,30.9 L292.8,31.1 L294.3,31.4 L295.8,31.9 L297.3,32.4 L298.8,33.1 L300.3,33.8 L301.8,34.7 L303.3,35.6 L304.8,36.7 L306.3,37.9 L307.8,39.3 L309.3,40.7 L310.8,42.2 L312.3,43.7 L313.7,45.1 L315.2,46.5 L316.7,47.9 L318.2,49.2 L319.7,50.4 L321.2,51.6 L322.7,52.7 L324.2,53.7 L325.7,54.7 L327.2,55.6 L328.7,56.4 L330.2,57.2 L331.7,57.9 L333.2,58.5 L334.7,59.0 L336.1,59.5 L337.6,59.9 L339.1,60.3 L340.6,60.8 L342.1,61.3 L343.6,62.0 L345.1,62.8 L346.6,63.7 L348.1,64.8 L349.6,65.9 L351.1,67.1 L352.6,68.4 L354.1,69.6 L355.6,71.0 L357.1,72.4 L358.5,73.8 L360.0,75.3 L361.5,76.8 L363.0,78.3 L364.5,79.8 L366.0,81.3 L367.5,82.8 L369.0,84.2 L370.5,85.7 L372.0,87.1 L373.5,88.4 L375.0,89.7 L376.5,90.8 L378.0,91.8 L379.5,92.7 L380.9,93.4 L382.4,94.0 L383.9,94.4 L385.4,94.6 L386.9,94.5 L388.4,94.2 L389.9,93.6 L391.4,92.9 L392.9,92.0 L394.4,90.9 L395.9,89.4 L397.4,87.8 L398.9,85.8 L400.4,83.6 L401.9,81.1 L403.3,78.3 L404.8,75.3 L406.3,72.4 L407.8,69.7 L409.3,67.6 L410.8,66.0 L412.3,64.6 L413.8,63.5 L415.3,62.6 L416.8,61.8 L418.3,61.0 L419.8,60.4 L421.3,59.8 L422.8,59.3 L424.3,58.9 L425.7,58.4 L427.2,58.0 L428.7,57.6 L430.2,57.3 L431.7,56.9 L433.2,56.6 L434.7,56.3 L436.2,56.0 L437.7,55.8 L439.2,55.6 L440.7,55.5 L442.2,55.3 L443.7,55.2 L445.2,55.0" fill="none" stroke="#008000" stroke-width="1.2" stroke-opacity="1.0" stroke-linejoin="round" stroke-linecap="butt"/><path d="M270.4,40.0 L271.9,39.0 L273.4,37.9 L274.9,36.9 L276.4,36.0 L277.9,35.2 L279.4,34.5 L280.9,34.0 L282.4,33.6 L283.9,33.3 L285.4,33.2 L286.9,33.3 L288.4,33.5 L289.9,33.8 L291.3,34.3 L292.8,34.9 L294.3,35.5 L295.8,36.3 L297.3,37.1 L298.8,37.9 L300.3,38.8 L301.8,39.9 L303.3,41.0 L304.8,42.3 L306.3,43.6 L307.8,45.0 L309.3,46.3 L310.8,47.5 L312.3,48.7 L313.7,49.8 L315.2,50.8 L316.7,51.8 L318.2,52.7 L319.7,53.6 L321.2,54.4 L322.7,55.1 L324.2,55.7 L325.7,56.1 L327.2,56.5 L328.7,56.8 L330.2,56.9 L331.7,57.1 L333.2,57.3 L334.7,57.5 L336.1,57.7 L337.6,58.1 L339.1,58.7 L340.6,59.3 L342.1,60.2 L343.6,61.2 L345.1,62.2 L346.6,63.4 L348.1,64.6 L349.6,65.8 L351.1,67.1 L352.6,68.3 L354.1,69.6 L355.6,70.8 L357.1,72.1 L358.5,73.5 L360.0,74.8 L361.5,76.2 L363.0,77.6 L364.5,79.0 L366.0,80.3 L367.5,81.7 L369.0,83.1 L370.5,84.5 L372.0,85.9 L373.5,87.2 L375.0,88.4 L376.5,89.6 L378.0,90.6 L379.5,91.6 L380.9,92.5 L382.4,93.2 L383.9,93.7 L385.4,93.9 L386.9,93.8 L388.4,93.4 L389.9,92.7 L391.4,91.9 L392.9,90.8 L394.4,89.6 L395.9,88.1 L397.4,86.3 L398.9,84.3 L400.4,82.1 L401.9,79.7 L403.3,76.9 L404.8,74.1 L406.3,71.3 L407.8,68.9 L409.3,67.1 L410.8,65.7 L412.3,64.7 L413.8,63.8 L415.3,63.1 L416.8,62.5 L418.3,62.0 L419.8,61.5 L421.3,61.0 L422.8,60.6 L424.3,60.2 L425.7,59.8 L427.2,59.4 L428.7,59.1 L430.2,58.7 L431.7,58.4 L433.2,58.1 L434.7,57.8 L436.2,57.5 L437.7,57.2 L439.2,57.0 L440.7,56.8 L442.2,56.6 L443.7,56.5 L445.2,56.3" fill="none" stroke="#800080" stroke-width="1.2" stroke-opacity="1.0" stroke-linejoin="round" stroke-linecap="butt"/><path d="M270.4,42.6 L271.9,41.9 L273.4,41.2 L274.9,40.5 L276.4,39.8 L277.9,39.2 L279.4,38.6 L280.9,38.1 L282.4,37.8 L283.9,37.6 L285.4,37.6 L286.9,37.6 L288.4,37.8 L289.9,38.0 L291.3,38.4 L292.8,39.0 L294.3,39.8 L295.8,40.7 L297.3,41.8 L298.8,42.9 L300.3,44.1 L301.8,45.3 L303.3,46.6 L304.8,47.8 L306.3,48.9 L307.8,50.0 L309.3,51.0 L310.8,51.9 L312.3,52.8 L313.7,53.5 L315.2,54.2 L316.7,54.8 L318.2,55.4 L319.7,55.9 L321.2,56.4 L322.7,56.8 L324.2,57.2 L325.7,57.5 L327.2,57.8 L328.7,58.1 L330.2,58.3 L331.7,58.6 L333.2,58.9 L334.7,59.2 L336.1,59.6 L337.6,60.0 L339.1,60.5 L340.6,61.1 L342.1,61.7 L343.6,62.3 L345.1,63.1 L346.6,63.8 L348.1,64.7 L349.6,65.6 L351.1,66.5 L352.6,67.6 L354.1,68.7 L355.6,70.0 L357.1,71.3 L358.5,72.8 L360.0,74.4 L361.5,76.0 L363.0,77.6 L364.5,79.3 L366.0,80.9 L367.5,82.5 L369.0,84.1 L370.5,85.6 L372.0,87.0 L373.5,88.3 L375.0,89.3 L376.5,90.0 L378.0,90.6 L379.5,91.1 L380.9,91.4 L382.4,91.6 L383.9,91.6 L385.4,91.4 L386.9,91.0 L388.4,90.5 L389.9,89.8 L391.4,88.9 L392.9,87.9 L394.4,86.7 L395.9,85.4 L397.4,83.9 L398.9,82.3 L400.4,80.6 L401.9,78.8 L403.3,77.0 L404.8,75.1 L406.3,73.4 L407.8,71.7 L409.3,70.3 L410.8,69.1 L412.3,68.0 L413.8,67.1 L415.3,66.2 L416.8,65.4 L418.3,64.6 L419.8,64.0 L421.3,63.4 L422.8,62.8 L424.3,62.3 L425.7,61.8 L427.2,61.4 L428.7,60.9 L430.2,60.5 L431.7,60.1 L433.2,59.8 L434.7,59.4 L436.2,59.1 L437.7,58.8 L439.2,58.6 L440.7,58.4 L442.2,58.2 L443.7,58.0 L445.2,57.8" fill="none" stroke="#ffa500" stroke-width="1.2" stroke-opacity="1.0" stroke-linejoin="round" stroke-linecap="butt"/><path d="M501.0,61.6 L502.5,61.0 L504.0,60.3 L505.5,59.7 L507.0,59.2 L508.5,58.7 L510.0,58.3 L511.5,58.1 L513.0,57.9 L514.5,57.9 L516.0,57.9 L517.5,58.0 L519.0,58.1 L520.5,58.2 L521.9,58.4 L523.4,58.5 L524.9,58.6 L526.4,58.7 L527.9,58.7 L529.4,58.8 L530.9,58.8 L532.4,58.8 L533.9,58.8 L535.4,58.8 L536.9,58.7 L538.4,58.7 L539.9,58.6 L541.4,58.6 L542.9,58.5 L544.3,58.4 L545.8,58.4 L547.3,58.3 L548.8,58.2 L550.3,58.1 L551.8,58.1 L553.3,58.0 L554.8,58.0 L556.3,58.0 L557.8,58.0 L559.3,58.0 L560.8,58.0 L562.3,58.0 L563.8,58.1 L565.3,58.2 L566.7,58.3 L568.2,58.4 L569.7,58.4 L571.2,58.5 L572.7,58.6 L574.2,58.7 L575.7,58.7 L577.2,58.8 L578.7,58.9 L580.2,59.0 L581.7,59.0 L583.2,59.1 L584.7,59.2 L586.2,59.3 L587.7,59.4 L589.1,59.6 L590.6,59.7 L592.1,60.0 L593.6,60.2 L595.1,60.6 L596.6,61.0 L598.1,61.4 L599.6,61.9 L601.1,62.4 L602.6,63.0 L604.1,63.5 L605.6,63.9 L607.1,64.4 L608.6,64.7 L610.1,65.1 L611.5,65.3 L613.0,65.6 L614.5,65.7 L616.0,65.8 L617.5,65.8 L619.0,65.8 L620.5,65.7 L622.0,65.4 L623.5,65.1 L625.0,64.8 L626.5,64.4 L628.0,63.9 L629.5,63.5 L631.0,63.1 L632.5,62.7 L633.9,62.3 L635.4,62.0 L636.9,61.7 L638.4,61.4 L639.9,61.3 L641.4,61.2 L642.9,61.2 L644.4,61.3 L645.9,61.5 L647.4,61.8 L648.9,62.2 L650.4,62.6 L651.9,63.2 L653.4,63.7 L654.9,64.3 L656.3,64.9 L657.8,65.5 L659.3,66.0 L660.8,66.5 L662.3,67.0 L663.8,67.3 L665.3,67.6 L666.8,67.8 L668.3,68.0 L669.8,68.1 L671.3,68.2 L672.8,68.3 L674.3,68.4 L675.8,68.5 L675.8,92.5 L674.3,92.6 L672.8,92.6 L671.3,92.7 L669.8,92.7 L668.3,92.7 L666.8,92.8 L665.3,92.8 L663.8,92.7 L662.3,92.6 L660.8,92.4 L659.3,92.1 L657.8,91.9 L656.3,91.7 L654.9,91.6 L653.4,91.5 L651.9,91.4 L650.4,91.4 L648.9,91.5 L647.4,91.6 L645.9,91.8 L644.4,92.1 L642.9,92.4 L641.4,92.7 L639.9,93.0 L638.4,93.4 L636.9,93.7 L635.4,94.0 L633.9,94.3 L632.5,94.7 L631.0,95.1 L629.5,95.4 L628.0,95.8 L626.5,96.2 L625.0,96.6 L623.5,96.9 L622.0,97.2 L620.5,97.4 L619.0,97.5 L617.5,97.5 L616.0,97.4 L614.5,97.3 L613.0,97.2 L611.5,97.0 L610.1,96.9 L608.6,96.9 L607.1,96.8 L605.6,96.8 L604.1,96.9 L602.6,96.9 L601.1,96.9 L599.6,97.0 L598.1,97.0 L596.6,97.1 L595.1,97.1 L593.6,97.2 L592.1,97.2 L590.6,97.2 L589.1,97.2 L587.7,97.1 L586.2,97.0 L584.7,97.0 L583.2,96.9 L581.7,96.8 L580.2,96.8 L578.7,96.7 L577.2,96.7 L575.7,96.6 L574.2,96.6 L572.7,96.5 L571.2,96.5 L569.7,96.4 L568.2,96.4 L566.7,96.3 L565.3,96.2 L563.8,96.1 L562.3,95.9 L560.8,95.7 L559.3,95.4 L557.8,95.1 L556.3,94.8 L554.8,94.4 L553.3,94.0 L551.8,93.6 L550.3,93.2 L548.8,92.8 L547.3,92.4 L545.8,92.0 L544.3,91.6 L542.9,91.3 L541.4,90.9 L539.9,90.6 L538.4,90.3 L536.9,89.9 L535.4,89.5 L533.9,89.1 L532.4,88.6 L530.9,88.2 L529.4,87.7 L527.9,87.3 L526.4,86.8 L524.9,86.4 L523.4,86.0 L521.9,85.6 L520.5,85.3 L519.0,85.0 L517.5,84.8 L516.0,84.6 L514.5,84.4 L513.0,84.4 L511.5,84.5 L510.0,84.6 L508.5,84.9 L507.0,85.3 L505.5,85.8 L504.0,86.4 L502.5,87.0 L501.0,87.6Z" fill="#000000" fill-opacity="0.2" stroke="#000000" stroke-opacity="0.2" stroke-width="0.7"/><path d="M501.0,60.4 L502.5,59.6 L504.0,58.9 L505.5,58.2 L507.0,57.6 L508.5,57.0 L510.0,56.6 L511.5,56.3 L513.0,56.1 L514.5,56.0 L516.0,56.0 L517.5,56.0 L519.0,56.1 L520.5,56.1 L521.9,56.2 L523.4,56.2 L524.9,56.2 L526.4,56.2 L527.9,56.2 L529.4,56.2 L530.9,56.1 L532.4,56.1 L533.9,56.1 L535.4,56.1 L536.9,56.1 L538.4,56.1 L539.9,56.2 L541.4,56.2 L542.9,56.3 L544.3,56.4 L545.8,56.5 L547.3,56.6 L548.8,56.8 L550.3,56.9 L551.8,57.0 L553.3,57.2 L554.8,57.3 L556.3,57.4 L557.8,57.5 L559.3,57.7 L560.8,57.8 L562.3,58.0 L563.8,58.1 L565.3,58.3 L566.7,58.4 L568.2,58.6 L569.7,58.7 L571.2,58.8 L572.7,58.9 L574.2,58.9 L575.7,59.0 L577.2,59.1 L578.7,59.1 L580.2,59.2 L581.7,59.2 L583.2,59.3 L584.7,59.3 L586.2,59.4 L587.7,59.4 L589.1,59.4 L590.6,59.4 L592.1,59.4 L593.6,59.4 L595.1,59.4 L596.6,59.4 L598.1,59.4 L599.6,59.4 L601.1,59.4 L602.6,59.5 L604.1,59.5 L605.6,59.6 L607.1,59.6 L608.6,59.7 L610.1,59.7 L611.5,59.8 L613.0,59.8 L614.5,59.9 L616.0,59.9 L617.5,60.0 L619.0,60.0 L620.5,59.9 L622.0,59.9 L623.5,59.8 L625.0,59.7 L626.5,59.5 L628.0,59.4 L629.5,59.3 L631.0,59.2 L632.5,59.1 L633.9,59.0 L635.4,58.9 L636.9,58.8 L638.4,58.8 L639.9,58.9 L641.4,59.0 L642.9,59.2 L644.4,59.4 L645.9,59.8 L647.4,60.4 L648.9,61.0 L650.4,61.9 L651.9,62.8 L653.4,63.7 L654.9,64.5 L656.3,65.4 L657.8,66.1 L659.3,66.8 L660.8,67.3 L662.3,67.9 L663.8,68.3 L665.3,68.6 L666.8,69.0 L668.3,69.2 L669.8,69.4 L671.3,69.6 L672.8,69.8 L674.3,69.9 L675.8,70.0 L675.8,94.1 L674.3,94.0 L672.8,94.0 L671.3,94.0 L669.8,93.9 L668.3,93.9 L666.8,93.8 L665.3,93.7 L663.8,93.6 L662.3,93.4 L660.8,93.2 L659.3,92.9 L657.8,92.6 L656.3,92.3 L654.9,92.0 L653.4,91.8 L651.9,91.5 L650.4,91.2 L648.9,91.1 L647.4,91.1 L645.9,91.2 L644.4,91.4 L642.9,91.7 L641.4,92.0 L639.9,92.3 L638.4,92.6 L636.9,92.8 L635.4,93.1 L633.9,93.3 L632.5,93.5 L631.0,93.7 L629.5,93.9 L628.0,94.1 L626.5,94.3 L625.0,94.6 L623.5,94.8 L622.0,94.9 L620.5,95.1 L619.0,95.1 L617.5,95.2 L616.0,95.2 L614.5,95.2 L613.0,95.3 L611.5,95.3 L610.1,95.3 L608.6,95.3 L607.1,95.3 L605.6,95.3 L604.1,95.3 L602.6,95.3 L601.1,95.4 L599.6,95.4 L598.1,95.5 L596.6,95.6 L595.1,95.7 L593.6,95.8 L592.1,95.9 L590.6,96.0 L589.1,96.1 L587.7,96.2 L586.2,96.3 L584.7,96.4 L583.2,96.5 L581.7,96.5 L580.2,96.6 L578.7,96.6 L577.2,96.7 L575.7,96.7 L574.2,96.7 L572.7,96.7 L571.2,96.7 L569.7,96.6 L568.2,96.5 L566.7,96.4 L565.3,96.3 L563.8,96.1 L562.3,95.9 L560.8,95.7 L559.3,95.4 L557.8,95.2 L556.3,94.9 L554.8,94.6 L553.3,94.3 L551.8,94.0 L550.3,93.6 L548.8,93.3 L547.3,93.0 L545.8,92.6 L544.3,92.3 L542.9,91.9 L541.4,91.6 L539.9,91.2 L538.4,90.8 L536.9,90.3 L535.4,89.9 L533.9,89.5 L532.4,89.1 L530.9,88.7 L529.4,88.3 L527.9,87.9 L526.4,87.5 L524.9,87.2 L523.4,86.8 L521.9,86.5 L520.5,86.2 L519.0,85.9 L517.5,85.7 L516.0,85.4 L514.5,85.3 L513.0,85.2 L511.5,85.2 L510.0,85.4 L508.5,85.6 L507.0,86.0 L505.5,86.5 L504.0,87.1 L502.5,87.8 L501.0,88.4Z" fill="#0000ff" fill-opacity="0.2" stroke="#0000ff" stroke-opacity="0.2" stroke-width="0.7"/><path d="M501.0,58.8 L502.5,58.5 L504.0,58.1 L505.5,57.7 L507.0,57.3 L508.5,56.9 L510.0,56.5 L511.5,56.1 L513.0,55.8 L514.5,55.4 L516.0,55.2 L517.5,55.0 L519.0,54.7 L520.5,54.5 L521.9,54.2 L523.4,54.0 L524.9,53.7 L526.4,53.5 L527.9,53.2 L529.4,53.0 L530.9,52.8 L532.4,52.6 L533.9,52.6 L535.4,52.6 L536.9,52.5 L538.4,52.4 L539.9,52.4 L541.4,52.3 L542.9,52.2 L544.3,52.1 L545.8,52.0 L547.3,52.0 L548.8,52.0 L550.3,52.0 L551.8,52.0 L553.3,52.1 L554.8,52.1 L556.3,52.2 L557.8,52.3 L559.3,52.4 L560.8,52.5 L562.3,52.6 L563.8,52.6 L565.3,52.7 L566.7,52.7 L568.2,52.8 L569.7,52.8 L571.2,52.8 L572.7,52.8 L574.2,52.8 L575.7,52.7 L577.2,52.6 L578.7,52.5 L580.2,52.3 L581.7,52.1 L583.2,51.8 L584.7,51.5 L586.2,51.1 L587.7,50.7 L589.1,50.2 L590.6,49.8 L592.1,49.3 L593.6,48.7 L595.1,48.2 L596.6,47.7 L598.1,47.2 L599.6,46.7 L601.1,46.3 L602.6,45.8 L604.1,45.4 L605.6,45.0 L607.1,44.7 L608.6,44.4 L610.1,44.2 L611.5,44.0 L613.0,43.9 L614.5,43.8 L616.0,43.7 L617.5,43.6 L619.0,43.6 L620.5,43.7 L622.0,43.8 L623.5,44.1 L625.0,44.3 L626.5,44.7 L628.0,45.1 L629.5,45.7 L631.0,46.5 L632.5,47.4 L633.9,48.3 L635.4,49.1 L636.9,49.7 L638.4,50.1 L639.9,50.6 L641.4,51.1 L642.9,51.7 L644.4,52.4 L645.9,53.4 L647.4,54.6 L648.9,55.9 L650.4,57.1 L651.9,58.0 L653.4,58.7 L654.9,59.4 L656.3,60.0 L657.8,60.6 L659.3,61.1 L660.8,61.5 L662.3,61.9 L663.8,62.2 L665.3,62.4 L666.8,62.6 L668.3,62.7 L669.8,62.8 L671.3,62.9 L672.8,63.0 L674.3,63.0 L675.8,63.1 L675.8,101.0 L674.3,100.9 L672.8,100.8 L671.3,100.7 L669.8,100.5 L668.3,100.4 L666.8,100.2 L665.3,100.0 L663.8,99.8 L662.3,99.5 L660.8,99.1 L659.3,98.7 L657.8,98.2 L656.3,97.7 L654.9,97.2 L653.4,96.6 L651.9,96.0 L650.4,95.7 L648.9,95.5 L647.4,95.5 L645.9,95.4 L644.4,95.3 L642.9,94.9 L641.4,94.5 L639.9,94.1 L638.4,93.9 L636.9,93.7 L635.4,93.7 L633.9,94.1 L632.5,94.6 L631.0,95.1 L629.5,95.7 L628.0,96.0 L626.5,96.3 L625.0,96.5 L623.5,96.8 L622.0,97.0 L620.5,97.2 L619.0,97.4 L617.5,97.4 L616.0,97.5 L614.5,97.6 L613.0,97.7 L611.5,97.8 L610.1,98.0 L608.6,98.2 L607.1,98.5 L605.6,98.7 L604.1,99.0 L602.6,99.2 L601.1,99.3 L599.6,99.5 L598.1,99.6 L596.6,99.7 L595.1,99.9 L593.6,100.0 L592.1,100.1 L590.6,100.1 L589.1,100.0 L587.7,100.0 L586.2,99.9 L584.7,99.9 L583.2,99.8 L581.7,99.8 L580.2,99.8 L578.7,99.8 L577.2,99.7 L575.7,99.6 L574.2,99.4 L572.7,99.3 L571.2,99.1 L569.7,98.9 L568.2,98.7 L566.7,98.5 L565.3,98.3 L563.8,98.1 L562.3,97.9 L560.8,97.7 L559.3,97.4 L557.8,97.2 L556.3,96.9 L554.8,96.6 L553.3,96.3 L551.8,96.0 L550.3,95.6 L548.8,95.2 L547.3,94.7 L545.8,94.2 L544.3,93.7 L542.9,93.1 L541.4,92.5 L539.9,91.9 L538.4,91.3 L536.9,90.6 L535.4,90.0 L533.9,89.3 L532.4,88.6 L530.9,87.9 L529.4,87.2 L527.9,86.4 L526.4,85.6 L524.9,84.9 L523.4,84.2 L521.9,83.6 L520.5,83.1 L519.0,82.8 L517.5,82.7 L516.0,82.8 L514.5,83.1 L513.0,83.4 L511.5,83.9 L510.0,84.4 L508.5,85.0 L507.0,85.7 L505.5,86.5 L504.0,87.4 L502.5,88.4 L501.0,89.4Z" fill="#ff0000" fill-opacity="0.2" stroke="#ff0000" stroke-opacity="0.2" stroke-width="0.7"/><path d="M501.0,64.1 L502.5,63.4 L504.0,62.7 L505.5,62.1 L507.0,61.5 L508.5,61.0 L510.0,60.6 L511.5,60.3 L513.0,60.0 L514.5,59.7 L516.0,59.5 L517.5,59.2 L519.0,59.1 L520.5,58.9 L521.9,58.8 L523.4,58.8 L524.9,58.7 L526.4,58.7 L527.9,58.6 L529.4,58.6 L530.9,58.6 L532.4,58.5 L533.9,58.5 L535.4,58.5 L536.9,58.5 L538.4,58.5 L539.9,58.5 L541.4,58.5 L542.9,58.5 L544.3,58.6 L545.8,58.6 L547.3,58.7 L548.8,58.7 L550.3,58.8 L551.8,58.8 L553.3,58.9 L554.8,58.9 L556.3,59.0 L557.8,59.1 L559.3,59.1 L560.8,59.2 L562.3,59.2 L563.8,59.3 L565.3,59.3 L566.7,59.4 L568.2,59.4 L569.7,59.4 L571.2,59.5 L572.7,59.5 L574.2,59.5 L575.7,59.5 L577.2,59.5 L578.7,59.5 L580.2,59.5 L581.7,59.5 L583.2,59.5 L584.7,59.5 L586.2,59.5 L587.7,59.5 L589.1,59.6 L590.6,59.6 L592.1,59.6 L593.6,59.7 L595.1,59.7 L596.6,59.8 L598.1,59.9 L599.6,60.0 L601.1,60.1 L602.6,60.2 L604.1,60.3 L605.6,60.4 L607.1,60.6 L608.6,60.7 L610.1,60.9 L611.5,61.1 L613.0,61.4 L614.5,61.6 L616.0,61.8 L617.5,62.0 L619.0,62.1 L620.5,62.2 L622.0,62.3 L623.5,62.3 L625.0,62.4 L626.5,62.5 L628.0,62.5 L629.5,62.6 L631.0,62.7 L632.5,62.8 L633.9,62.8 L635.4,62.9 L636.9,62.9 L638.4,63.0 L639.9,63.0 L641.4,63.1 L642.9,63.1 L644.4,63.2 L645.9,63.3 L647.4,63.5 L648.9,63.6 L650.4,63.8 L651.9,64.0 L653.4,64.3 L654.9,64.5 L656.3,64.8 L657.8,65.0 L659.3,65.3 L660.8,65.5 L662.3,65.8 L663.8,66.0 L665.3,66.3 L666.8,66.6 L668.3,66.8 L669.8,67.1 L671.3,67.3 L672.8,67.6 L674.3,67.9 L675.8,68.2 L675.8,110.2 L674.3,110.2 L672.8,110.1 L671.3,110.0 L669.8,109.9 L668.3,109.8 L666.8,109.8 L665.3,109.7 L663.8,109.5 L662.3,109.4 L660.8,109.3 L659.3,109.2 L657.8,109.0 L656.3,108.9 L654.9,108.7 L653.4,108.5 L651.9,108.4 L650.4,108.2 L648.9,108.1 L647.4,108.0 L645.9,107.9 L644.4,107.9 L642.9,107.8 L641.4,107.8 L639.9,107.7 L638.4,107.7 L636.9,107.7 L635.4,107.6 L633.9,107.6 L632.5,107.5 L631.0,107.5 L629.5,107.4 L628.0,107.3 L626.5,107.2 L625.0,107.0 L623.5,106.9 L622.0,106.7 L620.5,106.4 L619.0,106.2 L617.5,105.9 L616.0,105.5 L614.5,105.1 L613.0,104.7 L611.5,104.3 L610.1,103.9 L608.6,103.5 L607.1,103.2 L605.6,102.9 L604.1,102.6 L602.6,102.4 L601.1,102.2 L599.6,102.0 L598.1,101.8 L596.6,101.7 L595.1,101.5 L593.6,101.4 L592.1,101.3 L590.6,101.2 L589.1,101.1 L587.7,101.0 L586.2,101.0 L584.7,100.9 L583.2,100.8 L581.7,100.8 L580.2,100.8 L578.7,100.7 L577.2,100.7 L575.7,100.6 L574.2,100.6 L572.7,100.5 L571.2,100.5 L569.7,100.4 L568.2,100.3 L566.7,100.3 L565.3,100.2 L563.8,100.1 L562.3,100.0 L560.8,99.9 L559.3,99.8 L557.8,99.7 L556.3,99.6 L554.8,99.5 L553.3,99.4 L551.8,99.3 L550.3,99.2 L548.8,99.1 L547.3,99.0 L545.8,98.9 L544.3,98.8 L542.9,98.7 L541.4,98.6 L539.9,98.5 L538.4,98.4 L536.9,98.3 L535.4,98.3 L533.9,98.2 L532.4,98.1 L530.9,98.0 L529.4,98.0 L527.9,97.9 L526.4,97.8 L524.9,97.7 L523.4,97.7 L521.9,97.6 L520.5,97.6 L519.0,97.6 L517.5,97.7 L516.0,97.8 L514.5,97.9 L513.0,98.0 L511.5,98.2 L510.0,98.4 L508.5,98.6 L507.0,99.0 L505.5,99.4 L504.0,99.9 L502.5,100.5 L501.0,101.0Z" fill="#008000" fill-opacity="0.2" stroke="#008000" stroke-opacity="0.2" stroke-width="0.7"/><path d="M501.0,60.5 L502.5,59.7 L504.0,58.9 L505.5,58.1 L507.0,57.4 L508.5,56.8 L510.0,56.2 L511.5,55.7 L513.0,55.2 L514.5,54.7 L516.0,54.3 L517.5,54.0 L519.0,53.7 L520.5,53.6 L521.9,53.5 L523.4,53.4 L524.9,53.4 L526.4,53.4 L527.9,53.4 L529.4,53.4 L530.9,53.4 L532.4,53.4 L533.9,53.4 L535.4,53.4 L536.9,53.5 L538.4,53.5 L539.9,53.6 L541.4,53.7 L542.9,53.8 L544.3,53.9 L545.8,54.0 L547.3,54.1 L548.8,54.3 L550.3,54.4 L551.8,54.5 L553.3,54.7 L554.8,54.9 L556.3,55.0 L557.8,55.2 L559.3,55.3 L560.8,55.5 L562.3,55.7 L563.8,55.8 L565.3,56.0 L566.7,56.1 L568.2,56.2 L569.7,56.3 L571.2,56.4 L572.7,56.4 L574.2,56.4 L575.7,56.4 L577.2,56.4 L578.7,56.4 L580.2,56.4 L581.7,56.4 L583.2,56.4 L584.7,56.4 L586.2,56.4 L587.7,56.4 L589.1,56.4 L590.6,56.4 L592.1,56.5 L593.6,56.5 L595.1,56.6 L596.6,56.7 L598.1,56.8 L599.6,56.9 L601.1,57.1 L602.6,57.1 L604.1,57.2 L605.6,57.2 L607.1,57.3 L608.6,57.3 L610.1,57.3 L611.5,57.3 L613.0,57.4 L614.5,57.4 L616.0,57.4 L617.5,57.4 L619.0,57.5 L620.5,57.5 L622.0,57.5 L623.5,57.5 L625.0,57.6 L626.5,57.6 L628.0,57.7 L629.5,57.8 L631.0,57.9 L632.5,57.9 L633.9,58.0 L635.4,58.0 L636.9,58.1 L638.4,58.1 L639.9,58.2 L641.4,58.3 L642.9,58.3 L644.4,58.4 L645.9,58.5 L647.4,58.7 L648.9,58.9 L650.4,59.2 L651.9,59.5 L653.4,59.9 L654.9,60.3 L656.3,60.7 L657.8,61.1 L659.3,61.6 L660.8,62.0 L662.3,62.4 L663.8,62.9 L665.3,63.3 L666.8,63.8 L668.3,64.3 L669.8,64.8 L671.3,65.4 L672.8,65.9 L674.3,66.5 L675.8,67.0 L675.8,113.1 L674.3,112.9 L672.8,112.8 L671.3,112.6 L669.8,112.4 L668.3,112.2 L666.8,112.0 L665.3,111.8 L663.8,111.6 L662.3,111.4 L660.8,111.1 L659.3,110.9 L657.8,110.7 L656.3,110.4 L654.9,110.2 L653.4,109.9 L651.9,109.7 L650.4,109.5 L648.9,109.4 L647.4,109.2 L645.9,109.2 L644.4,109.1 L642.9,109.1 L641.4,109.1 L639.9,109.1 L638.4,109.0 L636.9,109.0 L635.4,109.0 L633.9,109.0 L632.5,108.9 L631.0,108.9 L629.5,108.8 L628.0,108.6 L626.5,108.4 L625.0,108.2 L623.5,107.9 L622.0,107.6 L620.5,107.3 L619.0,106.9 L617.5,106.6 L616.0,106.2 L614.5,105.8 L613.0,105.4 L611.5,105.0 L610.1,104.6 L608.6,104.3 L607.1,104.0 L605.6,103.7 L604.1,103.5 L602.6,103.2 L601.1,103.1 L599.6,102.9 L598.1,102.8 L596.6,102.7 L595.1,102.6 L593.6,102.5 L592.1,102.5 L590.6,102.4 L589.1,102.4 L587.7,102.4 L586.2,102.4 L584.7,102.4 L583.2,102.4 L581.7,102.4 L580.2,102.4 L578.7,102.4 L577.2,102.4 L575.7,102.4 L574.2,102.4 L572.7,102.4 L571.2,102.4 L569.7,102.3 L568.2,102.2 L566.7,102.1 L565.3,102.0 L563.8,101.8 L562.3,101.7 L560.8,101.5 L559.3,101.3 L557.8,101.2 L556.3,101.0 L554.8,100.9 L553.3,100.7 L551.8,100.5 L550.3,100.4 L548.8,100.3 L547.3,100.1 L545.8,100.0 L544.3,99.9 L542.9,99.8 L541.4,99.7 L539.9,99.6 L538.4,99.5 L536.9,99.5 L535.4,99.4 L533.9,99.4 L532.4,99.4 L530.9,99.4 L529.4,99.4 L527.9,99.4 L526.4,99.4 L524.9,99.4 L523.4,99.4 L521.9,99.5 L520.5,99.6 L519.0,99.7 L517.5,99.9 L516.0,100.2 L514.5,100.5 L513.0,100.8 L511.5,101.2 L510.0,101.5 L508.5,101.9 L507.0,102.4 L505.5,102.9 L504.0,103.4 L502.5,104.0 L501.0,104.6Z" fill="#800080" fill-opacity="0.2" stroke="#800080" stroke-opacity="0.2" stroke-width="0.7"/><path d="M501.0,38.0 L502.5,37.8 L504.0,37.5 L505.5,37.3 L507.0,37.0 L508.5,36.8 L510.0,36.5 L511.5,36.2 L513.0,36.0 L514.5,35.7 L516.0,35.5 L517.5,35.2 L519.0,35.0 L520.5,34.8 L521.9,34.6 L523.4,34.5 L524.9,34.4 L526.4,34.3 L527.9,34.2 L529.4,34.1 L530.9,33.9 L532.4,33.7 L533.9,33.4 L535.4,33.0 L536.9,32.6 L538.4,32.2 L539.9,31.8 L541.4,31.4 L542.9,31.0 L544.3,30.6 L545.8,30.2 L547.3,29.8 L548.8,29.4 L550.3,29.0 L551.8,28.6 L553.3,28.3 L554.8,27.9 L556.3,27.6 L557.8,27.3 L559.3,27.0 L560.8,26.5 L562.3,26.0 L563.8,25.5 L565.3,25.0 L566.7,24.5 L568.2,24.0 L569.7,23.6 L571.2,23.4 L572.7,23.3 L574.2,23.3 L575.7,23.4 L577.2,23.6 L578.7,23.9 L580.2,24.3 L581.7,24.8 L583.2,25.5 L584.7,26.4 L586.2,27.5 L587.7,28.6 L589.1,29.9 L590.6,31.2 L592.1,32.5 L593.6,33.7 L595.1,35.0 L596.6,36.2 L598.1,37.4 L599.6,38.6 L601.1,39.8 L602.6,41.1 L604.1,42.4 L605.6,43.7 L607.1,44.8 L608.6,45.8 L610.1,46.5 L611.5,46.9 L613.0,47.2 L614.5,47.5 L616.0,47.6 L617.5,47.7 L619.0,47.8 L620.5,47.8 L622.0,47.5 L623.5,47.1 L625.0,46.5 L626.5,45.9 L628.0,45.4 L629.5,44.8 L631.0,44.1 L632.5,43.4 L633.9,42.7 L635.4,42.0 L636.9,41.3 L638.4,40.6 L639.9,39.9 L641.4,39.3 L642.9,38.6 L644.4,37.8 L645.9,36.9 L647.4,35.8 L648.9,34.6 L650.4,33.3 L651.9,32.1 L653.4,30.9 L654.9,29.8 L656.3,28.7 L657.8,27.6 L659.3,26.5 L660.8,25.5 L662.3,24.4 L663.8,23.4 L665.3,22.4 L666.8,21.4 L668.3,20.4 L669.8,19.4 L671.3,18.4 L672.8,17.4 L674.3,16.4 L675.8,15.4 L675.8,112.4 L674.3,111.8 L672.8,111.1 L671.3,110.5 L669.8,109.8 L668.3,109.2 L666.8,108.5 L665.3,107.9 L663.8,107.2 L662.3,106.5 L660.8,105.9 L659.3,105.3 L657.8,104.6 L656.3,104.0 L654.9,103.3 L653.4,102.6 L651.9,101.9 L650.4,101.0 L648.9,100.0 L647.4,99.0 L645.9,98.0 L644.4,97.1 L642.9,96.3 L641.4,95.5 L639.9,94.8 L638.4,94.0 L636.9,93.2 L635.4,92.3 L633.9,91.4 L632.5,90.5 L631.0,89.6 L629.5,88.6 L628.0,87.7 L626.5,86.8 L625.0,85.8 L623.5,84.7 L622.0,83.7 L620.5,82.9 L619.0,82.2 L617.5,81.7 L616.0,81.2 L614.5,80.7 L613.0,80.3 L611.5,79.8 L610.1,79.3 L608.6,78.8 L607.1,78.4 L605.6,78.1 L604.1,77.7 L602.6,77.3 L601.1,76.8 L599.6,76.1 L598.1,75.4 L596.6,74.7 L595.1,73.9 L593.6,73.0 L592.1,72.1 L590.6,71.3 L589.1,70.5 L587.7,69.7 L586.2,69.0 L584.7,68.3 L583.2,67.5 L581.7,66.8 L580.2,66.1 L578.7,65.5 L577.2,65.0 L575.7,64.5 L574.2,64.1 L572.7,63.8 L571.2,63.6 L569.7,63.3 L568.2,63.0 L566.7,62.6 L565.3,62.2 L563.8,61.9 L562.3,61.6 L560.8,61.3 L559.3,61.2 L557.8,61.3 L556.3,61.4 L554.8,61.5 L553.3,61.7 L551.8,61.9 L550.3,62.2 L548.8,62.5 L547.3,62.8 L545.8,63.2 L544.3,63.6 L542.9,64.2 L541.4,64.8 L539.9,65.4 L538.4,66.1 L536.9,66.8 L535.4,67.5 L533.9,68.2 L532.4,69.0 L530.9,69.9 L529.4,70.8 L527.9,71.8 L526.4,72.8 L524.9,73.8 L523.4,74.9 L521.9,75.8 L520.5,76.8 L519.0,77.7 L517.5,78.7 L516.0,79.6 L514.5,80.6 L513.0,81.7 L511.5,82.8 L510.0,84.1 L508.5,85.5 L507.0,87.0 L505.5,88.7 L504.0,90.4 L502.5,92.3 L501.0,94.2Z" fill="#ffa500" fill-opacity="0.2" stroke="#ffa500" stroke-opacity="0.2" stroke-width="0.7"/><path d="M501.0,74.6 L502.5,74.0 L504.0,73.4 L505.5,72.8 L507.0,72.2 L508.5,71.8 L510.0,71.5 L511.5,71.3 L513.0,71.2 L514.5,71.1 L516.0,71.2 L517.5,71.4 L519.0,71.6 L520.5,71.8 L521.9,72.0 L523.4,72.2 L524.9,72.5 L526.4,72.7 L527.9,73.0 L529.4,73.3 L530.9,73.5 L532.4,73.7 L533.9,74.0 L535.4,74.1 L536.9,74.3 L538.4,74.5 L539.9,74.6 L541.4,74.8 L542.9,74.9 L544.3,75.0 L545.8,75.2 L547.3,75.4 L548.8,75.5 L550.3,75.7 L551.8,75.9 L553.3,76.0 L554.8,76.2 L556.3,76.4 L557.8,76.5 L559.3,76.7 L560.8,76.8 L562.3,77.0 L563.8,77.1 L565.3,77.2 L566.7,77.3 L568.2,77.4 L569.7,77.4 L571.2,77.5 L572.7,77.6 L574.2,77.6 L575.7,77.7 L577.2,77.7 L578.7,77.8 L580.2,77.9 L581.7,77.9 L583.2,78.0 L584.7,78.1 L586.2,78.2 L587.7,78.3 L589.1,78.4 L590.6,78.5 L592.1,78.6 L593.6,78.7 L595.1,78.9 L596.6,79.0 L598.1,79.2 L599.6,79.4 L601.1,79.7 L602.6,79.9 L604.1,80.2 L605.6,80.4 L607.1,80.6 L608.6,80.8 L610.1,81.0 L611.5,81.2 L613.0,81.4 L614.5,81.5 L616.0,81.6 L617.5,81.7 L619.0,81.6 L620.5,81.5 L622.0,81.3 L623.5,81.0 L625.0,80.7 L626.5,80.3 L628.0,79.9 L629.5,79.5 L631.0,79.1 L632.5,78.7 L633.9,78.3 L635.4,78.0 L636.9,77.7 L638.4,77.4 L639.9,77.1 L641.4,76.9 L642.9,76.8 L644.4,76.7 L645.9,76.6 L647.4,76.7 L648.9,76.8 L650.4,77.0 L651.9,77.3 L653.4,77.6 L654.9,78.0 L656.3,78.3 L657.8,78.7 L659.3,79.1 L660.8,79.5 L662.3,79.8 L663.8,80.0 L665.3,80.2 L666.8,80.3 L668.3,80.4 L669.8,80.4 L671.3,80.4 L672.8,80.5 L674.3,80.5 L675.8,80.5" fill="none" stroke="#000000" stroke-width="1.2" stroke-opacity="1.0" stroke-linejoin="round" stroke-linecap="butt"/><path d="M501.0,74.4 L502.5,73.7 L504.0,73.0 L505.5,72.3 L507.0,71.8 L508.5,71.3 L510.0,71.0 L511.5,70.8 L513.0,70.7 L514.5,70.6 L516.0,70.7 L517.5,70.8 L519.0,71.0 L520.5,71.2 L521.9,71.4 L523.4,71.5 L524.9,71.7 L526.4,71.9 L527.9,72.1 L529.4,72.2 L530.9,72.4 L532.4,72.6 L533.9,72.8 L535.4,73.0 L536.9,73.2 L538.4,73.4 L539.9,73.7 L541.4,73.9 L542.9,74.1 L544.3,74.3 L545.8,74.6 L547.3,74.8 L548.8,75.0 L550.3,75.3 L551.8,75.5 L553.3,75.7 L554.8,76.0 L556.3,76.2 L557.8,76.4 L559.3,76.6 L560.8,76.8 L562.3,76.9 L563.8,77.1 L565.3,77.3 L566.7,77.4 L568.2,77.6 L569.7,77.7 L571.2,77.7 L572.7,77.8 L574.2,77.8 L575.7,77.8 L577.2,77.9 L578.7,77.9 L580.2,77.9 L581.7,77.9 L583.2,77.9 L584.7,77.9 L586.2,77.8 L587.7,77.8 L589.1,77.8 L590.6,77.7 L592.1,77.6 L593.6,77.6 L595.1,77.5 L596.6,77.5 L598.1,77.5 L599.6,77.4 L601.1,77.4 L602.6,77.4 L604.1,77.4 L605.6,77.4 L607.1,77.5 L608.6,77.5 L610.1,77.5 L611.5,77.5 L613.0,77.5 L614.5,77.6 L616.0,77.6 L617.5,77.6 L619.0,77.5 L620.5,77.5 L622.0,77.4 L623.5,77.3 L625.0,77.1 L626.5,76.9 L628.0,76.8 L629.5,76.6 L631.0,76.4 L632.5,76.3 L633.9,76.1 L635.4,76.0 L636.9,75.8 L638.4,75.7 L639.9,75.6 L641.4,75.5 L642.9,75.4 L644.4,75.4 L645.9,75.5 L647.4,75.7 L648.9,76.1 L650.4,76.6 L651.9,77.1 L653.4,77.7 L654.9,78.3 L656.3,78.8 L657.8,79.4 L659.3,79.8 L660.8,80.3 L662.3,80.6 L663.8,81.0 L665.3,81.2 L666.8,81.4 L668.3,81.6 L669.8,81.7 L671.3,81.8 L672.8,81.9 L674.3,82.0 L675.8,82.0" fill="none" stroke="#0000ff" stroke-width="1.2" stroke-opacity="1.0" stroke-linejoin="round" stroke-linecap="butt"/><path d="M501.0,74.1 L502.5,73.4 L504.0,72.7 L505.5,72.1 L507.0,71.5 L508.5,70.9 L510.0,70.5 L511.5,70.0 L513.0,69.6 L514.5,69.2 L516.0,69.0 L517.5,68.8 L519.0,68.8 L520.5,68.8 L521.9,68.9 L523.4,69.1 L524.9,69.3 L526.4,69.6 L527.9,69.8 L529.4,70.1 L530.9,70.3 L532.4,70.6 L533.9,71.0 L535.4,71.3 L536.9,71.6 L538.4,71.9 L539.9,72.1 L541.4,72.4 L542.9,72.7 L544.3,72.9 L545.8,73.1 L547.3,73.3 L548.8,73.6 L550.3,73.8 L551.8,74.0 L553.3,74.2 L554.8,74.4 L556.3,74.6 L557.8,74.7 L559.3,74.9 L560.8,75.1 L562.3,75.2 L563.8,75.4 L565.3,75.5 L566.7,75.6 L568.2,75.8 L569.7,75.9 L571.2,76.0 L572.7,76.0 L574.2,76.1 L575.7,76.1 L577.2,76.1 L578.7,76.1 L580.2,76.1 L581.7,76.0 L583.2,75.8 L584.7,75.7 L586.2,75.5 L587.7,75.3 L589.1,75.1 L590.6,74.9 L592.1,74.7 L593.6,74.4 L595.1,74.1 L596.6,73.7 L598.1,73.4 L599.6,73.1 L601.1,72.8 L602.6,72.5 L604.1,72.2 L605.6,71.9 L607.1,71.6 L608.6,71.3 L610.1,71.1 L611.5,70.9 L613.0,70.8 L614.5,70.7 L616.0,70.6 L617.5,70.5 L619.0,70.5 L620.5,70.5 L622.0,70.4 L623.5,70.4 L625.0,70.4 L626.5,70.5 L628.0,70.6 L629.5,70.7 L631.0,70.8 L632.5,71.0 L633.9,71.2 L635.4,71.4 L636.9,71.7 L638.4,72.0 L639.9,72.4 L641.4,72.8 L642.9,73.3 L644.4,73.8 L645.9,74.4 L647.4,75.0 L648.9,75.7 L650.4,76.4 L651.9,77.0 L653.4,77.7 L654.9,78.3 L656.3,78.9 L657.8,79.4 L659.3,79.9 L660.8,80.3 L662.3,80.7 L663.8,81.0 L665.3,81.2 L666.8,81.4 L668.3,81.6 L669.8,81.7 L671.3,81.8 L672.8,81.9 L674.3,82.0 L675.8,82.0" fill="none" stroke="#ff0000" stroke-width="1.2" stroke-opacity="1.0" stroke-linejoin="round" stroke-linecap="butt"/><path d="M501.0,82.6 L502.5,81.9 L504.0,81.3 L505.5,80.7 L507.0,80.3 L508.5,79.8 L510.0,79.5 L511.5,79.2 L513.0,79.0 L514.5,78.8 L516.0,78.6 L517.5,78.5 L519.0,78.4 L520.5,78.3 L521.9,78.2 L523.4,78.2 L524.9,78.2 L526.4,78.2 L527.9,78.2 L529.4,78.3 L530.9,78.3 L532.4,78.3 L533.9,78.4 L535.4,78.4 L536.9,78.4 L538.4,78.5 L539.9,78.5 L541.4,78.6 L542.9,78.6 L544.3,78.7 L545.8,78.7 L547.3,78.8 L548.8,78.9 L550.3,79.0 L551.8,79.1 L553.3,79.1 L554.8,79.2 L556.3,79.3 L557.8,79.4 L559.3,79.5 L560.8,79.5 L562.3,79.6 L563.8,79.7 L565.3,79.7 L566.7,79.8 L568.2,79.9 L569.7,79.9 L571.2,80.0 L572.7,80.0 L574.2,80.0 L575.7,80.1 L577.2,80.1 L578.7,80.1 L580.2,80.1 L581.7,80.2 L583.2,80.2 L584.7,80.2 L586.2,80.2 L587.7,80.3 L589.1,80.3 L590.6,80.4 L592.1,80.4 L593.6,80.5 L595.1,80.6 L596.6,80.7 L598.1,80.9 L599.6,81.0 L601.1,81.1 L602.6,81.3 L604.1,81.5 L605.6,81.7 L607.1,81.9 L608.6,82.1 L610.1,82.4 L611.5,82.7 L613.0,83.0 L614.5,83.3 L616.0,83.7 L617.5,83.9 L619.0,84.1 L620.5,84.3 L622.0,84.5 L623.5,84.6 L625.0,84.7 L626.5,84.8 L628.0,84.9 L629.5,85.0 L631.0,85.1 L632.5,85.1 L633.9,85.2 L635.4,85.3 L636.9,85.3 L638.4,85.3 L639.9,85.4 L641.4,85.4 L642.9,85.5 L644.4,85.5 L645.9,85.6 L647.4,85.7 L648.9,85.9 L650.4,86.0 L651.9,86.2 L653.4,86.4 L654.9,86.6 L656.3,86.8 L657.8,87.0 L659.3,87.2 L660.8,87.4 L662.3,87.6 L663.8,87.8 L665.3,88.0 L666.8,88.2 L668.3,88.3 L669.8,88.5 L671.3,88.7 L672.8,88.9 L674.3,89.0 L675.8,89.2" fill="none" stroke="#008000" stroke-width="1.2" stroke-opacity="1.0" stroke-linejoin="round" stroke-linecap="butt"/><path d="M501.0,82.5 L502.5,81.8 L504.0,81.1 L505.5,80.5 L507.0,79.9 L508.5,79.3 L510.0,78.9 L511.5,78.4 L513.0,78.0 L514.5,77.6 L516.0,77.3 L517.5,77.0 L519.0,76.7 L520.5,76.6 L521.9,76.5 L523.4,76.4 L524.9,76.4 L526.4,76.4 L527.9,76.4 L529.4,76.4 L530.9,76.4 L532.4,76.4 L533.9,76.4 L535.4,76.4 L536.9,76.5 L538.4,76.5 L539.9,76.6 L541.4,76.7 L542.9,76.8 L544.3,76.9 L545.8,77.0 L547.3,77.1 L548.8,77.3 L550.3,77.4 L551.8,77.5 L553.3,77.7 L554.8,77.9 L556.3,78.0 L557.8,78.2 L559.3,78.3 L560.8,78.5 L562.3,78.7 L563.8,78.8 L565.3,79.0 L566.7,79.1 L568.2,79.2 L569.7,79.3 L571.2,79.4 L572.7,79.4 L574.2,79.4 L575.7,79.4 L577.2,79.4 L578.7,79.4 L580.2,79.4 L581.7,79.4 L583.2,79.4 L584.7,79.4 L586.2,79.4 L587.7,79.4 L589.1,79.4 L590.6,79.4 L592.1,79.5 L593.6,79.5 L595.1,79.6 L596.6,79.7 L598.1,79.8 L599.6,79.9 L601.1,80.1 L602.6,80.2 L604.1,80.3 L605.6,80.5 L607.1,80.6 L608.6,80.8 L610.1,81.0 L611.5,81.2 L613.0,81.4 L614.5,81.6 L616.0,81.8 L617.5,82.0 L619.0,82.2 L620.5,82.4 L622.0,82.6 L623.5,82.7 L625.0,82.9 L626.5,83.0 L628.0,83.2 L629.5,83.3 L631.0,83.4 L632.5,83.4 L633.9,83.5 L635.4,83.5 L636.9,83.6 L638.4,83.6 L639.9,83.6 L641.4,83.7 L642.9,83.7 L644.4,83.8 L645.9,83.9 L647.4,84.0 L648.9,84.1 L650.4,84.4 L651.9,84.6 L653.4,84.9 L654.9,85.2 L656.3,85.6 L657.8,85.9 L659.3,86.2 L660.8,86.6 L662.3,86.9 L663.8,87.2 L665.3,87.6 L666.8,87.9 L668.3,88.2 L669.8,88.6 L671.3,89.0 L672.8,89.3 L674.3,89.7 L675.8,90.1" fill="none" stroke="#800080" stroke-width="1.2" stroke-opacity="1.0" stroke-linejoin="round" stroke-linecap="butt"/><path d="M501.0,66.1 L502.5,65.0 L504.0,64.0 L505.5,63.0 L507.0,62.0 L508.5,61.1 L510.0,60.3 L511.5,59.5 L513.0,58.8 L514.5,58.2 L516.0,57.6 L517.5,57.0 L519.0,56.4 L520.5,55.8 L521.9,55.2 L523.4,54.7 L524.9,54.1 L526.4,53.5 L527.9,53.0 L529.4,52.4 L530.9,51.9 L532.4,51.4 L533.9,50.8 L535.4,50.3 L536.9,49.7 L538.4,49.2 L539.9,48.6 L541.4,48.1 L542.9,47.6 L544.3,47.1 L545.8,46.7 L547.3,46.3 L548.8,45.9 L550.3,45.6 L551.8,45.3 L553.3,45.0 L554.8,44.7 L556.3,44.5 L557.8,44.3 L559.3,44.1 L560.8,43.9 L562.3,43.8 L563.8,43.7 L565.3,43.6 L566.7,43.5 L568.2,43.5 L569.7,43.5 L571.2,43.5 L572.7,43.6 L574.2,43.7 L575.7,44.0 L577.2,44.3 L578.7,44.7 L580.2,45.2 L581.7,45.8 L583.2,46.5 L584.7,47.3 L586.2,48.2 L587.7,49.2 L589.1,50.2 L590.6,51.2 L592.1,52.3 L593.6,53.4 L595.1,54.4 L596.6,55.4 L598.1,56.4 L599.6,57.4 L601.1,58.3 L602.6,59.2 L604.1,60.1 L605.6,60.9 L607.1,61.6 L608.6,62.3 L610.1,62.9 L611.5,63.3 L613.0,63.7 L614.5,64.1 L616.0,64.4 L617.5,64.7 L619.0,65.0 L620.5,65.3 L622.0,65.6 L623.5,65.9 L625.0,66.1 L626.5,66.4 L628.0,66.5 L629.5,66.7 L631.0,66.8 L632.5,66.9 L633.9,67.0 L635.4,67.1 L636.9,67.2 L638.4,67.3 L639.9,67.4 L641.4,67.4 L642.9,67.4 L644.4,67.5 L645.9,67.4 L647.4,67.4 L648.9,67.3 L650.4,67.2 L651.9,67.0 L653.4,66.8 L654.9,66.6 L656.3,66.3 L657.8,66.1 L659.3,65.9 L660.8,65.7 L662.3,65.5 L663.8,65.3 L665.3,65.1 L666.8,64.9 L668.3,64.8 L669.8,64.6 L671.3,64.4 L672.8,64.2 L674.3,64.1 L675.8,63.9" fill="none" stroke="#ffa500" stroke-width="1.2" stroke-opacity="1.0" stroke-linejoin="round" stroke-linecap="butt"/><path d="M40.1,244.4 L41.6,244.6 L43.1,244.8 L44.6,245.0 L46.1,245.1 L47.6,245.3 L49.1,245.4 L50.6,245.4 L52.1,245.4 L53.6,245.5 L55.1,245.5 L56.6,245.5 L58.1,245.5 L59.6,245.5 L61.0,245.6 L62.5,245.6 L64.0,245.6 L65.5,245.6 L67.0,245.6 L68.5,245.6 L70.0,245.6 L71.5,245.6 L73.0,245.6 L74.5,245.6 L76.0,245.6 L77.5,245.6 L79.0,245.6 L80.5,245.6 L82.0,245.6 L83.4,245.6 L84.9,245.6 L86.4,245.6 L87.9,245.6 L89.4,245.6 L90.9,245.6 L92.4,245.6 L93.9,245.6 L95.4,245.6 L96.9,245.6 L98.4,245.6 L99.9,245.6 L101.4,245.6 L102.9,245.6 L104.4,245.6 L105.8,245.7 L107.3,245.7 L108.8,245.7 L110.3,245.8 L111.8,245.8 L113.3,245.9 L114.8,245.9 L116.3,245.9 L117.8,246.0 L119.3,246.0 L120.8,246.1 L122.3,246.1 L123.8,246.1 L125.3,246.2 L126.8,246.2 L128.2,246.2 L129.7,246.2 L131.2,246.2 L132.7,246.2 L134.2,246.2 L135.7,246.2 L137.2,246.2 L138.7,246.2 L140.2,246.2 L141.7,246.1 L143.2,246.1 L144.7,246.1 L146.2,246.1 L147.7,246.1 L149.2,246.1 L150.6,246.0 L152.1,246.0 L153.6,246.0 L155.1,246.0 L156.6,245.9 L158.1,245.9 L159.6,245.9 L161.1,245.9 L162.6,245.8 L164.1,245.8 L165.6,245.8 L167.1,245.7 L168.6,245.7 L170.1,245.6 L171.6,245.6 L173.0,245.5 L174.5,245.5 L176.0,245.4 L177.5,245.3 L179.0,245.3 L180.5,245.2 L182.0,245.2 L183.5,245.1 L185.0,245.1 L186.5,245.1 L188.0,245.0 L189.5,245.0 L191.0,245.0 L192.5,245.0 L194.0,245.0 L195.4,244.9 L196.9,244.9 L198.4,244.9 L199.9,244.9 L201.4,244.9 L202.9,244.9 L204.4,244.8 L205.9,244.8 L207.4,244.8 L208.9,244.8 L210.4,244.8 L211.9,244.8 L213.4,244.8 L214.9,244.8" fill="none" stroke="#000000" stroke-width="1.2" stroke-opacity="1.0" stroke-linejoin="round" stroke-linecap="butt"/><path d="M40.1,245.4 L41.6,245.5 L43.1,245.5 L44.6,245.6 L46.1,245.7 L47.6,245.7 L49.1,245.8 L50.6,245.8 L52.1,245.9 L53.6,245.9 L55.1,246.0 L56.6,246.0 L58.1,246.1 L59.6,246.1 L61.0,246.1 L62.5,246.1 L64.0,246.2 L65.5,246.2 L67.0,246.2 L68.5,246.2 L70.0,246.2 L71.5,246.3 L73.0,246.3 L74.5,246.3 L76.0,246.3 L77.5,246.3 L79.0,246.3 L80.5,246.3 L82.0,246.3 L83.4,246.3 L84.9,246.2 L86.4,246.2 L87.9,246.2 L89.4,246.2 L90.9,246.1 L92.4,246.1 L93.9,246.1 L95.4,246.0 L96.9,246.0 L98.4,246.0 L99.9,246.0 L101.4,246.0 L102.9,246.0 L104.4,246.0 L105.8,246.0 L107.3,246.0 L108.8,246.1 L110.3,246.1 L111.8,246.1 L113.3,246.1 L114.8,246.1 L116.3,246.2 L117.8,246.2 L119.3,246.2 L120.8,246.2 L122.3,246.2 L123.8,246.3 L125.3,246.3 L126.8,246.3 L128.2,246.3 L129.7,246.3 L131.2,246.3 L132.7,246.3 L134.2,246.3 L135.7,246.3 L137.2,246.3 L138.7,246.3 L140.2,246.2 L141.7,246.2 L143.2,246.2 L144.7,246.2 L146.2,246.2 L147.7,246.2 L149.2,246.1 L150.6,246.1 L152.1,246.1 L153.6,246.1 L155.1,246.1 L156.6,246.0 L158.1,246.0 L159.6,246.0 L161.1,246.0 L162.6,246.0 L164.1,246.0 L165.6,245.9 L167.1,245.9 L168.6,245.9 L170.1,245.9 L171.6,245.9 L173.0,245.8 L174.5,245.8 L176.0,245.8 L177.5,245.8 L179.0,245.8 L180.5,245.7 L182.0,245.7 L183.5,245.7 L185.0,245.7 L186.5,245.7 L188.0,245.6 L189.5,245.6 L191.0,245.6 L192.5,245.6 L194.0,245.5 L195.4,245.5 L196.9,245.5 L198.4,245.5 L199.9,245.4 L201.4,245.4 L202.9,245.4 L204.4,245.4 L205.9,245.4 L207.4,245.3 L208.9,245.3 L210.4,245.3 L211.9,245.3 L213.4,245.2 L214.9,245.2" fill="none" stroke="#0000ff" stroke-width="1.2" stroke-opacity="1.0" stroke-linejoin="round" stroke-linecap="butt"/><path d="M40.1,244.9 L41.6,245.1 L43.1,245.2 L44.6,245.4 L46.1,245.5 L47.6,245.7 L49.1,245.8 L50.6,245.9 L52.1,246.1 L53.6,246.2 L55.1,246.4 L56.6,246.5 L58.1,246.6 L59.6,246.7 L61.0,246.9 L62.5,247.0 L64.0,247.1 L65.5,247.3 L67.0,247.4 L68.5,247.5 L70.0,247.6 L71.5,247.8 L73.0,247.9 L74.5,247.9 L76.0,248.0 L77.5,248.0 L79.0,247.9 L80.5,247.9 L82.0,247.9 L83.4,247.8 L84.9,247.7 L86.4,247.6 L87.9,247.5 L89.4,247.5 L90.9,247.4 L92.4,247.2 L93.9,247.1 L95.4,247.0 L96.9,246.9 L98.4,246.7 L99.9,246.6 L101.4,246.5 L102.9,246.4 L104.4,246.3 L105.8,246.3 L107.3,246.2 L108.8,246.2 L110.3,246.2 L111.8,246.2 L113.3,246.1 L114.8,246.1 L116.3,246.1 L117.8,246.1 L119.3,246.1 L120.8,246.0 L122.3,246.0 L123.8,246.0 L125.3,246.0 L126.8,246.0 L128.2,246.0 L129.7,246.0 L131.2,246.0 L132.7,246.0 L134.2,246.0 L135.7,246.0 L137.2,246.0 L138.7,246.1 L140.2,246.1 L141.7,246.1 L143.2,246.1 L144.7,246.1 L146.2,246.2 L147.7,246.2 L149.2,246.2 L150.6,246.2 L152.1,246.2 L153.6,246.3 L155.1,246.3 L156.6,246.3 L158.1,246.3 L159.6,246.3 L161.1,246.3 L162.6,246.3 L164.1,246.3 L165.6,246.3 L167.1,246.3 L168.6,246.2 L170.1,246.2 L171.6,246.2 L173.0,246.2 L174.5,246.2 L176.0,246.1 L177.5,246.1 L179.0,246.1 L180.5,246.1 L182.0,246.0 L183.5,246.0 L185.0,246.0 L186.5,246.0 L188.0,245.9 L189.5,245.9 L191.0,245.9 L192.5,245.9 L194.0,245.9 L195.4,245.8 L196.9,245.8 L198.4,245.8 L199.9,245.8 L201.4,245.8 L202.9,245.7 L204.4,245.7 L205.9,245.7 L207.4,245.7 L208.9,245.7 L210.4,245.7 L211.9,245.6 L213.4,245.6 L214.9,245.6" fill="none" stroke="#ff0000" stroke-width="1.2" stroke-opacity="1.0" stroke-linejoin="round" stroke-linecap="butt"/><path d="M40.1,245.4 L41.6,245.5 L43.1,245.5 L44.6,245.6 L46.1,245.7 L47.6,245.7 L49.1,245.8 L50.6,245.8 L52.1,245.9 L53.6,245.9 L55.1,246.0 L56.6,246.0 L58.1,246.1 L59.6,246.1 L61.0,246.1 L62.5,246.1 L64.0,246.2 L65.5,246.2 L67.0,246.2 L68.5,246.2 L70.0,246.2 L71.5,246.3 L73.0,246.3 L74.5,246.3 L76.0,246.3 L77.5,246.3 L79.0,246.3 L80.5,246.3 L82.0,246.3 L83.4,246.3 L84.9,246.2 L86.4,246.2 L87.9,246.2 L89.4,246.2 L90.9,246.1 L92.4,246.1 L93.9,246.1 L95.4,246.0 L96.9,246.0 L98.4,246.0 L99.9,246.0 L101.4,246.0 L102.9,246.0 L104.4,246.0 L105.8,246.0 L107.3,246.0 L108.8,246.1 L110.3,246.1 L111.8,246.1 L113.3,246.1 L114.8,246.1 L116.3,246.2 L117.8,246.2 L119.3,246.2 L120.8,246.2 L122.3,246.2 L123.8,246.3 L125.3,246.3 L126.8,246.3 L128.2,246.3 L129.7,246.3 L131.2,246.3 L132.7,246.3 L134.2,246.3 L135.7,246.3 L137.2,246.3 L138.7,246.3 L140.2,246.2 L141.7,246.2 L143.2,246.2 L144.7,246.2 L146.2,246.2 L147.7,246.2 L149.2,246.1 L150.6,246.1 L152.1,246.1 L153.6,246.1 L155.1,246.1 L156.6,246.0 L158.1,246.0 L159.6,246.0 L161.1,246.0 L162.6,246.0 L164.1,246.0 L165.6,245.9 L167.1,245.9 L168.6,245.9 L170.1,245.9 L171.6,245.9 L173.0,245.8 L174.5,245.8 L176.0,245.8 L177.5,245.8 L179.0,245.8 L180.5,245.7 L182.0,245.7 L183.5,245.7 L185.0,245.7 L186.5,245.7 L188.0,245.6 L189.5,245.6 L191.0,245.6 L192.5,245.6 L194.0,245.5 L195.4,245.5 L196.9,245.5 L198.4,245.5 L199.9,245.4 L201.4,245.4 L202.9,245.4 L204.4,245.4 L205.9,245.4 L207.4,245.3 L208.9,245.3 L210.4,245.3 L211.9,245.3 L213.4,245.2 L214.9,245.2" fill="none" stroke="#008000" stroke-width="1.2" stroke-opacity="1.0" stroke-linejoin="round" stroke-linecap="butt"/><path d="M40.1,244.4 L41.6,244.6 L43.1,244.8 L44.6,245.0 L46.1,245.1 L47.6,245.3 L49.1,245.4 L50.6,245.4 L52.1,245.4 L53.6,245.5 L55.1,245.5 L56.6,245.5 L58.1,245.5 L59.6,245.5 L61.0,245.6 L62.5,245.6 L64.0,245.6 L65.5,245.6 L67.0,245.6 L68.5,245.6 L70.0,245.6 L71.5,245.6 L73.0,245.6 L74.5,245.6 L76.0,245.6 L77.5,245.6 L79.0,245.6 L80.5,245.6 L82.0,245.6 L83.4,245.6 L84.9,245.6 L86.4,245.6 L87.9,245.6 L89.4,245.6 L90.9,245.6 L92.4,245.6 L93.9,245.6 L95.4,245.6 L96.9,245.6 L98.4,245.6 L99.9,245.6 L101.4,245.6 L102.9,245.6 L104.4,245.6 L105.8,245.7 L107.3,245.7 L108.8,245.7 L110.3,245.8 L111.8,245.8 L113.3,245.9 L114.8,245.9 L116.3,245.9 L117.8,246.0 L119.3,246.0 L120.8,246.1 L122.3,246.1 L123.8,246.1 L125.3,246.2 L126.8,246.2 L128.2,246.2 L129.7,246.2 L131.2,246.2 L132.7,246.2 L134.2,246.2 L135.7,246.2 L137.2,246.2 L138.7,246.2 L140.2,246.2 L141.7,246.1 L143.2,246.1 L144.7,246.1 L146.2,246.1 L147.7,246.1 L149.2,246.1 L150.6,246.0 L152.1,246.0 L153.6,246.0 L155.1,246.0 L156.6,245.9 L158.1,245.9 L159.6,245.9 L161.1,245.9 L162.6,245.8 L164.1,245.8 L165.6,245.8 L167.1,245.7 L168.6,245.7 L170.1,245.6 L171.6,245.6 L173.0,245.5 L174.5,245.5 L176.0,245.4 L177.5,245.3 L179.0,245.3 L180.5,245.2 L182.0,245.2 L183.5,245.1 L185.0,245.1 L186.5,245.1 L188.0,245.0 L189.5,245.0 L191.0,245.0 L192.5,245.0 L194.0,245.0 L195.4,244.9 L196.9,244.9 L198.4,244.9 L199.9,244.9 L201.4,244.9 L202.9,244.9 L204.4,244.8 L205.9,244.8 L207.4,244.8 L208.9,244.8 L210.4,244.8 L211.9,244.8 L213.4,244.8 L214.9,244.8" fill="none" stroke="#800080" stroke-width="1.2" stroke-opacity="1.0" stroke-linejoin="round" stroke-linecap="butt"/><path d="M40.1,220.3 L41.6,219.9 L43.1,219.4 L44.6,218.9 L46.1,218.3 L47.6,217.6 L49.1,216.8 L50.6,216.0 L52.1,215.1 L53.6,214.1 L55.1,213.1 L56.6,212.2 L58.1,211.2 L59.6,210.3 L61.0,209.4 L62.5,208.6 L64.0,207.9 L65.5,207.3 L67.0,206.8 L68.5,206.3 L70.0,206.0 L71.5,205.7 L73.0,205.6 L74.5,205.6 L76.0,205.7 L77.5,205.9 L79.0,206.1 L80.5,206.4 L82.0,206.8 L83.4,207.2 L84.9,207.7 L86.4,208.2 L87.9,208.7 L89.4,209.3 L90.9,209.8 L92.4,210.3 L93.9,210.7 L95.4,211.1 L96.9,211.5 L98.4,211.8 L99.9,212.1 L101.4,212.3 L102.9,212.3 L104.4,212.3 L105.8,212.2 L107.3,211.9 L108.8,211.6 L110.3,211.1 L111.8,210.6 L113.3,209.9 L114.8,209.2 L116.3,208.4 L117.8,207.6 L119.3,206.7 L120.8,205.9 L122.3,205.0 L123.8,204.1 L125.3,203.2 L126.8,202.3 L128.2,201.3 L129.7,200.3 L131.2,199.2 L132.7,198.1 L134.2,196.9 L135.7,195.6 L137.2,194.2 L138.7,192.8 L140.2,191.4 L141.7,190.0 L143.2,188.5 L144.7,187.1 L146.2,185.7 L147.7,184.2 L149.2,182.8 L150.6,181.5 L152.1,180.1 L153.6,178.8 L155.1,177.6 L156.6,176.4 L158.1,175.3 L159.6,174.4 L161.1,173.5 L162.6,172.8 L164.1,172.1 L165.6,171.4 L167.1,170.8 L168.6,170.2 L170.1,169.7 L171.6,169.1 L173.0,168.5 L174.5,168.0 L176.0,167.4 L177.5,166.7 L179.0,166.1 L180.5,165.3 L182.0,164.6 L183.5,163.8 L185.0,163.0 L186.5,162.3 L188.0,161.5 L189.5,160.8 L191.0,160.0 L192.5,159.3 L194.0,158.6 L195.4,157.9 L196.9,157.2 L198.4,156.6 L199.9,156.0 L201.4,155.4 L202.9,154.8 L204.4,154.2 L205.9,153.7 L207.4,153.2 L208.9,152.8 L210.4,152.3 L211.9,151.8 L213.4,151.3 L214.9,150.8" fill="none" stroke="#ffa500" stroke-width="1.2" stroke-opacity="1.0" stroke-linejoin="round" stroke-linecap="butt"/><path d="M270.4,245.5 L271.9,245.8 L273.4,246.0 L274.9,246.2 L276.4,246.3 L277.9,246.3 L279.4,246.3 L280.9,246.2 L282.4,246.1 L283.9,245.9 L285.4,245.7 L286.9,245.3 L288.4,244.9 L289.9,244.4 L291.3,243.9 L292.8,243.5 L294.3,243.0 L295.8,242.6 L297.3,242.2 L298.8,241.8 L300.3,241.3 L301.8,240.8 L303.3,240.3 L304.8,239.8 L306.3,239.3 L307.8,238.7 L309.3,238.1 L310.8,237.6 L312.3,237.0 L313.7,236.3 L315.2,235.7 L316.7,235.0 L318.2,234.4 L319.7,233.7 L321.2,233.0 L322.7,232.2 L324.2,231.5 L325.7,230.7 L327.2,230.0 L328.7,229.2 L330.2,228.6 L331.7,227.9 L333.2,227.3 L334.7,226.7 L336.1,226.2 L337.6,225.6 L339.1,225.1 L340.6,224.7 L342.1,224.2 L343.6,223.7 L345.1,223.3 L346.6,223.0 L348.1,222.7 L349.6,222.5 L351.1,222.4 L352.6,222.4 L354.1,222.4 L355.6,222.5 L357.1,222.6 L358.5,222.8 L360.0,223.1 L361.5,223.4 L363.0,223.8 L364.5,224.3 L366.0,224.9 L367.5,225.5 L369.0,226.2 L370.5,227.0 L372.0,227.8 L373.5,228.7 L375.0,229.6 L376.5,230.5 L378.0,231.4 L379.5,232.3 L380.9,233.2 L382.4,234.1 L383.9,235.0 L385.4,235.9 L386.9,236.8 L388.4,237.7 L389.9,238.5 L391.4,239.3 L392.9,240.0 L394.4,240.7 L395.9,241.3 L397.4,241.9 L398.9,242.4 L400.4,242.9 L401.9,243.4 L403.3,243.9 L404.8,244.2 L406.3,244.6 L407.8,244.8 L409.3,245.0 L410.8,245.2 L412.3,245.3 L413.8,245.4 L415.3,245.4 L416.8,245.4 L418.3,245.4 L419.8,245.4 L421.3,245.4 L422.8,245.3 L424.3,245.3 L425.7,245.2 L427.2,245.2 L428.7,245.1 L430.2,245.1 L431.7,245.1 L433.2,245.1 L434.7,245.1 L436.2,245.1 L437.7,245.0 L439.2,245.0 L440.7,244.9 L442.2,244.8 L443.7,244.7 L445.2,244.6" fill="none" stroke="#000000" stroke-width="1.2" stroke-opacity="1.0" stroke-linejoin="round" stroke-linecap="butt"/><path d="M270.4,239.4 L271.9,240.1 L273.4,240.9 L274.9,241.6 L276.4,242.4 L277.9,243.1 L279.4,243.9 L280.9,244.7 L282.4,245.4 L283.9,246.0 L285.4,246.5 L286.9,246.9 L288.4,247.3 L289.9,247.7 L291.3,247.9 L292.8,248.0 L294.3,248.0 L295.8,247.9 L297.3,247.6 L298.8,247.2 L300.3,246.7 L301.8,246.2 L303.3,245.7 L304.8,245.3 L306.3,244.9 L307.8,244.5 L309.3,244.1 L310.8,243.8 L312.3,243.5 L313.7,243.2 L315.2,243.0 L316.7,242.8 L318.2,242.6 L319.7,242.5 L321.2,242.4 L322.7,242.4 L324.2,242.4 L325.7,242.4 L327.2,242.4 L328.7,242.4 L330.2,242.4 L331.7,242.4 L333.2,242.4 L334.7,242.4 L336.1,242.4 L337.6,242.4 L339.1,242.4 L340.6,242.4 L342.1,242.3 L343.6,242.3 L345.1,242.2 L346.6,242.1 L348.1,241.9 L349.6,241.9 L351.1,241.8 L352.6,241.8 L354.1,241.8 L355.6,241.8 L357.1,241.9 L358.5,242.0 L360.0,242.1 L361.5,242.2 L363.0,242.4 L364.5,242.6 L366.0,243.0 L367.5,243.4 L369.0,243.8 L370.5,244.4 L372.0,244.9 L373.5,245.4 L375.0,245.9 L376.5,246.4 L378.0,246.9 L379.5,247.3 L380.9,247.7 L382.4,247.9 L383.9,248.0 L385.4,248.0 L386.9,247.8 L388.4,247.6 L389.9,247.2 L391.4,246.8 L392.9,246.3 L394.4,245.7 L395.9,245.2 L397.4,244.6 L398.9,244.1 L400.4,243.7 L401.9,243.3 L403.3,242.9 L404.8,242.6 L406.3,242.3 L407.8,242.2 L409.3,242.1 L410.8,242.1 L412.3,242.1 L413.8,242.1 L415.3,242.1 L416.8,242.2 L418.3,242.2 L419.8,242.2 L421.3,242.3 L422.8,242.3 L424.3,242.3 L425.7,242.4 L427.2,242.4 L428.7,242.4 L430.2,242.4 L431.7,242.4 L433.2,242.4 L434.7,242.4 L436.2,242.4 L437.7,242.3 L439.2,242.2 L440.7,242.0 L442.2,241.8 L443.7,241.6 L445.2,241.4" fill="none" stroke="#0000ff" stroke-width="1.2" stroke-opacity="1.0" stroke-linejoin="round" stroke-linecap="butt"/><path d="M270.4,243.2 L271.9,243.9 L273.4,244.4 L274.9,244.9 L276.4,245.2 L277.9,245.3 L279.4,245.4 L280.9,245.4 L282.4,245.3 L283.9,245.3 L285.4,245.1 L286.9,244.8 L288.4,244.4 L289.9,243.9 L291.3,243.4 L292.8,242.9 L294.3,242.4 L295.8,241.9 L297.3,241.4 L298.8,241.0 L300.3,240.6 L301.8,240.3 L303.3,240.0 L304.8,239.9 L306.3,239.7 L307.8,239.6 L309.3,239.6 L310.8,239.7 L312.3,239.9 L313.7,240.1 L315.2,240.4 L316.7,240.8 L318.2,241.1 L319.7,241.4 L321.2,241.7 L322.7,242.0 L324.2,242.3 L325.7,242.6 L327.2,242.8 L328.7,243.0 L330.2,243.2 L331.7,243.4 L333.2,243.6 L334.7,243.7 L336.1,243.8 L337.6,243.8 L339.1,243.9 L340.6,243.8 L342.1,243.8 L343.6,243.8 L345.1,243.7 L346.6,243.7 L348.1,243.6 L349.6,243.6 L351.1,243.7 L352.6,243.7 L354.1,243.8 L355.6,243.9 L357.1,244.0 L358.5,244.1 L360.0,244.2 L361.5,244.4 L363.0,244.6 L364.5,244.8 L366.0,245.0 L367.5,245.4 L369.0,245.7 L370.5,246.0 L372.0,246.3 L373.5,246.5 L375.0,246.5 L376.5,246.4 L378.0,246.2 L379.5,245.7 L380.9,245.2 L382.4,244.6 L383.9,244.0 L385.4,243.4 L386.9,242.7 L388.4,242.1 L389.9,241.5 L391.4,240.9 L392.9,240.5 L394.4,240.1 L395.9,239.8 L397.4,239.5 L398.9,239.4 L400.4,239.3 L401.9,239.4 L403.3,239.5 L404.8,239.6 L406.3,239.9 L407.8,240.1 L409.3,240.5 L410.8,240.9 L412.3,241.3 L413.8,241.8 L415.3,242.3 L416.8,242.8 L418.3,243.3 L419.8,243.8 L421.3,244.3 L422.8,244.7 L424.3,245.1 L425.7,245.4 L427.2,245.6 L428.7,245.8 L430.2,245.9 L431.7,246.0 L433.2,246.0 L434.7,246.0 L436.2,246.1 L437.7,246.0 L439.2,246.0 L440.7,245.9 L442.2,245.7 L443.7,245.6 L445.2,245.4" fill="none" stroke="#ff0000" stroke-width="1.2" stroke-opacity="1.0" stroke-linejoin="round" stroke-linecap="butt"/><path d="M270.4,245.4 L271.9,245.4 L273.4,245.4 L274.9,245.4 L276.4,245.4 L277.9,245.4 L279.4,245.4 L280.9,245.4 L282.4,245.4 L283.9,245.3 L285.4,245.3 L286.9,245.1 L288.4,244.9 L289.9,244.6 L291.3,244.3 L292.8,244.0 L294.3,243.6 L295.8,243.2 L297.3,242.8 L298.8,242.4 L300.3,242.0 L301.8,241.6 L303.3,241.3 L304.8,240.9 L306.3,240.5 L307.8,240.1 L309.3,239.7 L310.8,239.2 L312.3,238.7 L313.7,238.1 L315.2,237.5 L316.7,236.8 L318.2,236.1 L319.7,235.4 L321.2,234.6 L322.7,233.8 L324.2,232.9 L325.7,232.0 L327.2,231.2 L328.7,230.4 L330.2,229.6 L331.7,228.9 L333.2,228.3 L334.7,227.8 L336.1,227.2 L337.6,226.7 L339.1,226.2 L340.6,225.7 L342.1,225.2 L343.6,224.7 L345.1,224.3 L346.6,223.9 L348.1,223.6 L349.6,223.3 L351.1,223.2 L352.6,223.1 L354.1,223.1 L355.6,223.1 L357.1,223.2 L358.5,223.3 L360.0,223.5 L361.5,223.8 L363.0,224.1 L364.5,224.6 L366.0,225.2 L367.5,225.8 L369.0,226.6 L370.5,227.3 L372.0,228.1 L373.5,229.0 L375.0,229.9 L376.5,230.8 L378.0,231.8 L379.5,232.7 L380.9,233.6 L382.4,234.5 L383.9,235.3 L385.4,236.0 L386.9,236.8 L388.4,237.4 L389.9,238.1 L391.4,238.7 L392.9,239.4 L394.4,240.0 L395.9,240.6 L397.4,241.2 L398.9,241.7 L400.4,242.3 L401.9,242.9 L403.3,243.5 L404.8,244.0 L406.3,244.5 L407.8,245.0 L409.3,245.4 L410.8,245.7 L412.3,245.9 L413.8,246.0 L415.3,246.1 L416.8,246.1 L418.3,246.1 L419.8,246.1 L421.3,246.1 L422.8,246.1 L424.3,246.0 L425.7,246.0 L427.2,246.0 L428.7,246.0 L430.2,246.0 L431.7,245.9 L433.2,245.9 L434.7,245.8 L436.2,245.8 L437.7,245.7 L439.2,245.7 L440.7,245.6 L442.2,245.5 L443.7,245.5 L445.2,245.4" fill="none" stroke="#008000" stroke-width="1.2" stroke-opacity="1.0" stroke-linejoin="round" stroke-linecap="butt"/><path d="M270.4,245.5 L271.9,245.8 L273.4,246.0 L274.9,246.2 L276.4,246.3 L277.9,246.3 L279.4,246.3 L280.9,246.2 L282.4,246.1 L283.9,245.9 L285.4,245.7 L286.9,245.3 L288.4,244.9 L289.9,244.4 L291.3,243.9 L292.8,243.5 L294.3,243.0 L295.8,242.6 L297.3,242.2 L298.8,241.8 L300.3,241.3 L301.8,240.8 L303.3,240.3 L304.8,239.8 L306.3,239.3 L307.8,238.7 L309.3,238.1 L310.8,237.6 L312.3,237.0 L313.7,236.3 L315.2,235.7 L316.7,235.0 L318.2,234.4 L319.7,233.7 L321.2,233.0 L322.7,232.2 L324.2,231.5 L325.7,230.7 L327.2,230.0 L328.7,229.2 L330.2,228.6 L331.7,227.9 L333.2,227.3 L334.7,226.7 L336.1,226.2 L337.6,225.6 L339.1,225.1 L340.6,224.7 L342.1,224.2 L343.6,223.7 L345.1,223.3 L346.6,223.0 L348.1,222.7 L349.6,222.5 L351.1,222.4 L352.6,222.4 L354.1,222.4 L355.6,222.5 L357.1,222.6 L358.5,222.8 L360.0,223.1 L361.5,223.4 L363.0,223.8 L364.5,224.3 L366.0,224.9 L367.5,225.5 L369.0,226.2 L370.5,227.0 L372.0,227.8 L373.5,228.7 L375.0,229.6 L376.5,230.5 L378.0,231.4 L379.5,232.3 L380.9,233.2 L382.4,234.1 L383.9,235.0 L385.4,235.9 L386.9,236.8 L388.4,237.7 L389.9,238.5 L391.4,239.3 L392.9,240.0 L394.4,240.7 L395.9,241.3 L397.4,241.9 L398.9,242.4 L400.4,242.9 L401.9,243.4 L403.3,243.9 L404.8,244.2 L406.3,244.6 L407.8,244.8 L409.3,245.0 L410.8,245.2 L412.3,245.3 L413.8,245.4 L415.3,245.4 L416.8,245.4 L418.3,245.4 L419.8,245.4 L421.3,245.4 L422.8,245.3 L424.3,245.3 L425.7,245.2 L427.2,245.2 L428.7,245.1 L430.2,245.1 L431.7,245.1 L433.2,245.1 L434.7,245.1 L436.2,245.1 L437.7,245.0 L439.2,245.0 L440.7,244.9 L442.2,244.8 L443.7,244.7 L445.2,244.6" fill="none" stroke="#800080" stroke-width="1.2" stroke-opacity="1.0" stroke-linejoin="round" stroke-linecap="butt"/><path d="M270.4,228.8 L271.9,229.4 L273.4,230.0 L274.9,230.6 L276.4,231.1 L277.9,231.7 L279.4,232.2 L280.9,232.8 L282.4,233.2 L283.9,233.7 L285.4,234.0 L286.9,234.4 L288.4,234.7 L289.9,235.0 L291.3,235.2 L292.8,235.3 L294.3,235.3 L295.8,235.2 L297.3,234.9 L298.8,234.5 L300.3,234.0 L301.8,233.4 L303.3,232.7 L304.8,231.8 L306.3,230.8 L307.8,229.6 L309.3,228.5 L310.8,227.4 L312.3,226.3 L313.7,225.1 L315.2,223.9 L316.7,222.7 L318.2,221.5 L319.7,220.3 L321.2,219.2 L322.7,218.0 L324.2,216.8 L325.7,215.6 L327.2,214.4 L328.7,213.2 L330.2,212.1 L331.7,211.0 L333.2,210.0 L334.7,208.9 L336.1,207.9 L337.6,207.0 L339.1,206.1 L340.6,205.3 L342.1,204.6 L343.6,203.9 L345.1,203.2 L346.6,202.7 L348.1,202.3 L349.6,202.0 L351.1,201.9 L352.6,201.8 L354.1,201.8 L355.6,201.9 L357.1,202.4 L358.5,203.2 L360.0,204.2 L361.5,205.4 L363.0,206.7 L364.5,208.2 L366.0,209.8 L367.5,211.5 L369.0,213.3 L370.5,215.2 L372.0,217.2 L373.5,219.3 L375.0,221.5 L376.5,223.6 L378.0,225.8 L379.5,228.0 L380.9,230.0 L382.4,231.8 L383.9,233.2 L385.4,234.1 L386.9,234.6 L388.4,234.4 L389.9,233.7 L391.4,232.4 L392.9,230.6 L394.4,228.4 L395.9,225.7 L397.4,222.8 L398.9,219.6 L400.4,216.3 L401.9,213.0 L403.3,209.6 L404.8,206.2 L406.3,202.9 L407.8,199.7 L409.3,196.5 L410.8,193.3 L412.3,190.1 L413.8,187.1 L415.3,184.2 L416.8,181.6 L418.3,179.4 L419.8,177.3 L421.3,175.4 L422.8,173.7 L424.3,172.2 L425.7,170.8 L427.2,169.5 L428.7,168.3 L430.2,167.1 L431.7,165.8 L433.2,164.5 L434.7,163.0 L436.2,161.4 L437.7,159.8 L439.2,158.0 L440.7,156.2 L442.2,154.3 L443.7,152.4 L445.2,150.4" fill="none" stroke="#ffa500" stroke-width="1.2" stroke-opacity="1.0" stroke-linejoin="round" stroke-linecap="butt"/><path d="M501.0,220.7 L502.5,220.9 L504.0,221.2 L505.5,221.4 L507.0,221.7 L508.5,221.9 L510.0,222.0 L511.5,222.2 L513.0,222.3 L514.5,222.4 L516.0,222.5 L517.5,222.6 L519.0,222.6 L520.5,222.7 L521.9,222.7 L523.4,222.7 L524.9,222.7 L526.4,222.7 L527.9,222.7 L529.4,222.7 L530.9,222.7 L532.4,222.7 L533.9,222.7 L535.4,222.7 L536.9,222.7 L538.4,222.7 L539.9,222.6 L541.4,222.6 L542.9,222.6 L544.3,222.5 L545.8,222.5 L547.3,222.4 L548.8,222.4 L550.3,222.4 L551.8,222.4 L553.3,222.4 L554.8,222.4 L556.3,222.4 L557.8,222.4 L559.3,222.4 L560.8,222.4 L562.3,222.5 L563.8,222.6 L565.3,222.8 L566.7,223.1 L568.2,223.4 L569.7,223.7 L571.2,224.0 L572.7,224.4 L574.2,224.8 L575.7,225.1 L577.2,225.5 L578.7,225.8 L580.2,226.0 L581.7,226.1 L583.2,226.3 L584.7,226.5 L586.2,226.7 L587.7,227.1 L589.1,227.5 L590.6,227.9 L592.1,228.4 L593.6,228.8 L595.1,229.2 L596.6,229.7 L598.1,230.1 L599.6,230.4 L601.1,230.7 L602.6,231.0 L604.1,231.1 L605.6,231.2 L607.1,231.3 L608.6,231.4 L610.1,231.4 L611.5,231.4 L613.0,231.5 L614.5,231.5 L616.0,231.4 L617.5,231.3 L619.0,231.1 L620.5,230.9 L622.0,230.6 L623.5,230.3 L625.0,229.9 L626.5,229.4 L628.0,228.8 L629.5,228.2 L631.0,227.5 L632.5,226.8 L633.9,226.0 L635.4,225.3 L636.9,224.5 L638.4,223.8 L639.9,223.1 L641.4,222.4 L642.9,221.8 L644.4,221.2 L645.9,220.7 L647.4,220.3 L648.9,219.9 L650.4,219.6 L651.9,219.3 L653.4,219.0 L654.9,218.8 L656.3,218.6 L657.8,218.4 L659.3,218.3 L660.8,218.2 L662.3,218.1 L663.8,218.0 L665.3,218.0 L666.8,217.9 L668.3,218.0 L669.8,218.0 L671.3,218.1 L672.8,218.2 L674.3,218.3 L675.8,218.4" fill="none" stroke="#000000" stroke-width="1.2" stroke-opacity="1.0" stroke-linejoin="round" stroke-linecap="butt"/><path d="M501.0,247.0 L502.5,247.2 L504.0,247.4 L505.5,247.6 L507.0,247.8 L508.5,247.9 L510.0,247.9 L511.5,247.9 L513.0,247.9 L514.5,247.8 L516.0,247.8 L517.5,247.7 L519.0,247.7 L520.5,247.6 L521.9,247.6 L523.4,247.7 L524.9,247.7 L526.4,247.7 L527.9,247.8 L529.4,247.8 L530.9,247.9 L532.4,247.9 L533.9,248.0 L535.4,248.0 L536.9,248.0 L538.4,248.0 L539.9,248.0 L541.4,248.0 L542.9,248.0 L544.3,248.0 L545.8,248.0 L547.3,248.0 L548.8,248.0 L550.3,247.9 L551.8,247.8 L553.3,247.6 L554.8,247.4 L556.3,247.1 L557.8,246.7 L559.3,246.4 L560.8,246.1 L562.3,245.8 L563.8,245.5 L565.3,245.2 L566.7,244.9 L568.2,244.7 L569.7,244.5 L571.2,244.3 L572.7,244.1 L574.2,244.0 L575.7,243.9 L577.2,243.8 L578.7,243.7 L580.2,243.7 L581.7,243.7 L583.2,243.7 L584.7,243.8 L586.2,244.0 L587.7,244.2 L589.1,244.4 L590.6,244.7 L592.1,244.9 L593.6,245.2 L595.1,245.3 L596.6,245.5 L598.1,245.7 L599.6,245.8 L601.1,245.9 L602.6,246.0 L604.1,246.0 L605.6,246.0 L607.1,245.9 L608.6,245.8 L610.1,245.6 L611.5,245.4 L613.0,245.3 L614.5,245.1 L616.0,245.0 L617.5,244.8 L619.0,244.7 L620.5,244.7 L622.0,244.7 L623.5,244.8 L625.0,244.9 L626.5,245.1 L628.0,245.3 L629.5,245.5 L631.0,245.7 L632.5,245.9 L633.9,246.1 L635.4,246.4 L636.9,246.6 L638.4,246.8 L639.9,247.0 L641.4,247.1 L642.9,247.2 L644.4,247.2 L645.9,247.2 L647.4,247.1 L648.9,247.0 L650.4,246.9 L651.9,246.7 L653.4,246.6 L654.9,246.4 L656.3,246.3 L657.8,246.1 L659.3,246.0 L660.8,245.8 L662.3,245.6 L663.8,245.5 L665.3,245.3 L666.8,245.1 L668.3,244.9 L669.8,244.6 L671.3,244.4 L672.8,244.1 L674.3,243.8 L675.8,243.6" fill="none" stroke="#0000ff" stroke-width="1.2" stroke-opacity="1.0" stroke-linejoin="round" stroke-linecap="butt"/><path d="M501.0,240.2 L502.5,240.5 L504.0,240.8 L505.5,241.0 L507.0,241.2 L508.5,241.3 L510.0,241.3 L511.5,241.3 L513.0,241.3 L514.5,241.3 L516.0,241.2 L517.5,241.2 L519.0,241.1 L520.5,241.0 L521.9,240.9 L523.4,240.9 L524.9,240.8 L526.4,240.7 L527.9,240.6 L529.4,240.6 L530.9,240.6 L532.4,240.6 L533.9,240.7 L535.4,240.8 L536.9,240.9 L538.4,241.0 L539.9,241.1 L541.4,241.1 L542.9,241.2 L544.3,241.3 L545.8,241.3 L547.3,241.3 L548.8,241.3 L550.3,241.3 L551.8,241.1 L553.3,240.9 L554.8,240.6 L556.3,240.3 L557.8,239.9 L559.3,239.5 L560.8,239.1 L562.3,238.8 L563.8,238.4 L565.3,238.0 L566.7,237.7 L568.2,237.3 L569.7,236.9 L571.2,236.5 L572.7,236.1 L574.2,235.6 L575.7,235.2 L577.2,234.7 L578.7,234.3 L580.2,233.8 L581.7,233.3 L583.2,232.7 L584.7,232.1 L586.2,231.5 L587.7,230.9 L589.1,230.2 L590.6,229.5 L592.1,228.6 L593.6,227.7 L595.1,226.7 L596.6,225.5 L598.1,224.3 L599.6,223.0 L601.1,221.7 L602.6,220.5 L604.1,219.3 L605.6,218.2 L607.1,217.1 L608.6,216.2 L610.1,215.4 L611.5,214.8 L613.0,214.4 L614.5,214.1 L616.0,213.8 L617.5,213.8 L619.0,213.8 L620.5,214.1 L622.0,214.5 L623.5,215.1 L625.0,215.9 L626.5,216.9 L628.0,218.1 L629.5,219.5 L631.0,221.1 L632.5,222.7 L633.9,224.3 L635.4,226.0 L636.9,227.7 L638.4,229.3 L639.9,230.8 L641.4,232.3 L642.9,233.7 L644.4,234.9 L645.9,236.0 L647.4,236.8 L648.9,237.4 L650.4,237.9 L651.9,238.2 L653.4,238.4 L654.9,238.6 L656.3,238.7 L657.8,238.6 L659.3,238.5 L660.8,238.4 L662.3,238.1 L663.8,237.9 L665.3,237.6 L666.8,237.2 L668.3,236.9 L669.8,236.4 L671.3,236.0 L672.8,235.5 L674.3,234.9 L675.8,234.4" fill="none" stroke="#ff0000" stroke-width="1.2" stroke-opacity="1.0" stroke-linejoin="round" stroke-linecap="butt"/><path d="M501.0,222.4 L502.5,222.5 L504.0,222.7 L505.5,222.8 L507.0,223.0 L508.5,223.1 L510.0,223.2 L511.5,223.4 L513.0,223.5 L514.5,223.6 L516.0,223.7 L517.5,223.8 L519.0,223.8 L520.5,223.9 L521.9,223.9 L523.4,223.9 L524.9,223.8 L526.4,223.8 L527.9,223.8 L529.4,223.7 L530.9,223.7 L532.4,223.6 L533.9,223.6 L535.4,223.5 L536.9,223.4 L538.4,223.4 L539.9,223.3 L541.4,223.2 L542.9,223.1 L544.3,223.0 L545.8,222.9 L547.3,222.8 L548.8,222.8 L550.3,222.7 L551.8,222.7 L553.3,222.7 L554.8,222.7 L556.3,222.7 L557.8,222.7 L559.3,222.7 L560.8,222.7 L562.3,222.7 L563.8,222.7 L565.3,222.8 L566.7,223.0 L568.2,223.2 L569.7,223.5 L571.2,223.8 L572.7,224.2 L574.2,224.6 L575.7,225.0 L577.2,225.3 L578.7,225.5 L580.2,225.7 L581.7,225.8 L583.2,225.9 L584.7,226.1 L586.2,226.3 L587.7,226.7 L589.1,227.3 L590.6,227.9 L592.1,228.5 L593.6,229.2 L595.1,229.8 L596.6,230.4 L598.1,230.9 L599.6,231.5 L601.1,231.9 L602.6,232.3 L604.1,232.6 L605.6,232.9 L607.1,233.1 L608.6,233.2 L610.1,233.4 L611.5,233.5 L613.0,233.6 L614.5,233.6 L616.0,233.6 L617.5,233.4 L619.0,233.2 L620.5,233.0 L622.0,232.6 L623.5,232.2 L625.0,231.7 L626.5,231.2 L628.0,230.5 L629.5,229.8 L631.0,229.1 L632.5,228.3 L633.9,227.5 L635.4,226.8 L636.9,226.1 L638.4,225.4 L639.9,224.8 L641.4,224.3 L642.9,223.7 L644.4,223.3 L645.9,222.9 L647.4,222.5 L648.9,222.2 L650.4,221.9 L651.9,221.6 L653.4,221.4 L654.9,221.3 L656.3,221.1 L657.8,221.1 L659.3,221.0 L660.8,221.0 L662.3,221.0 L663.8,221.0 L665.3,221.0 L666.8,221.0 L668.3,221.1 L669.8,221.1 L671.3,221.2 L672.8,221.3 L674.3,221.5 L675.8,221.6" fill="none" stroke="#008000" stroke-width="1.2" stroke-opacity="1.0" stroke-linejoin="round" stroke-linecap="butt"/><path d="M501.0,220.7 L502.5,220.9 L504.0,221.2 L505.5,221.4 L507.0,221.7 L508.5,221.9 L510.0,222.0 L511.5,222.2 L513.0,222.3 L514.5,222.4 L516.0,222.5 L517.5,222.6 L519.0,222.6 L520.5,222.7 L521.9,222.7 L523.4,222.7 L524.9,222.7 L526.4,222.7 L527.9,222.7 L529.4,222.7 L530.9,222.7 L532.4,222.7 L533.9,222.7 L535.4,222.7 L536.9,222.7 L538.4,222.7 L539.9,222.6 L541.4,222.6 L542.9,222.6 L544.3,222.5 L545.8,222.5 L547.3,222.4 L548.8,222.4 L550.3,222.4 L551.8,222.4 L553.3,222.4 L554.8,222.4 L556.3,222.4 L557.8,222.4 L559.3,222.4 L560.8,222.4 L562.3,222.5 L563.8,222.6 L565.3,222.8 L566.7,223.1 L568.2,223.4 L569.7,223.7 L571.2,224.0 L572.7,224.4 L574.2,224.8 L575.7,225.1 L577.2,225.5 L578.7,225.8 L580.2,226.0 L581.7,226.1 L583.2,226.3 L584.7,226.5 L586.2,226.7 L587.7,227.1 L589.1,227.5 L590.6,227.9 L592.1,228.4 L593.6,228.8 L595.1,229.2 L596.6,229.7 L598.1,230.1 L599.6,230.4 L601.1,230.7 L602.6,231.0 L604.1,231.1 L605.6,231.2 L607.1,231.3 L608.6,231.4 L610.1,231.4 L611.5,231.4 L613.0,231.5 L614.5,231.5 L616.0,231.4 L617.5,231.3 L619.0,231.1 L620.5,230.9 L622.0,230.6 L623.5,230.3 L625.0,229.9 L626.5,229.4 L628.0,228.8 L629.5,228.2 L631.0,227.5 L632.5,226.8 L633.9,226.0 L635.4,225.3 L636.9,224.5 L638.4,223.8 L639.9,223.1 L641.4,222.4 L642.9,221.8 L644.4,221.2 L645.9,220.7 L647.4,220.3 L648.9,219.9 L650.4,219.6 L651.9,219.3 L653.4,219.0 L654.9,218.8 L656.3,218.6 L657.8,218.4 L659.3,218.3 L660.8,218.2 L662.3,218.1 L663.8,218.0 L665.3,218.0 L666.8,217.9 L668.3,218.0 L669.8,218.0 L671.3,218.1 L672.8,218.2 L674.3,218.3 L675.8,218.4" fill="none" stroke="#800080" stroke-width="1.2" stroke-opacity="1.0" stroke-linejoin="round" stroke-linecap="butt"/><path d="M501.0,186.1 L502.5,186.9 L504.0,187.6 L505.5,188.3 L507.0,188.8 L508.5,189.2 L510.0,189.5 L511.5,189.7 L513.0,189.8 L514.5,189.7 L516.0,189.6 L517.5,189.2 L519.0,188.8 L520.5,188.3 L521.9,187.7 L523.4,187.0 L524.9,186.3 L526.4,185.5 L527.9,184.8 L529.4,184.0 L530.9,183.3 L532.4,182.6 L533.9,182.0 L535.4,181.4 L536.9,180.9 L538.4,180.4 L539.9,179.9 L541.4,179.4 L542.9,179.0 L544.3,178.6 L545.8,178.1 L547.3,177.7 L548.8,177.2 L550.3,176.8 L551.8,176.3 L553.3,175.8 L554.8,175.2 L556.3,174.7 L557.8,174.2 L559.3,173.6 L560.8,173.1 L562.3,172.6 L563.8,172.1 L565.3,171.7 L566.7,171.4 L568.2,171.1 L569.7,170.8 L571.2,170.7 L572.7,170.7 L574.2,170.8 L575.7,171.1 L577.2,171.4 L578.7,171.9 L580.2,172.6 L581.7,173.5 L583.2,174.6 L584.7,175.8 L586.2,177.1 L587.7,178.5 L589.1,179.9 L590.6,181.4 L592.1,183.0 L593.6,184.8 L595.1,186.6 L596.6,188.5 L598.1,190.4 L599.6,192.3 L601.1,194.1 L602.6,195.7 L604.1,197.2 L605.6,198.4 L607.1,199.5 L608.6,200.2 L610.1,200.9 L611.5,201.3 L613.0,201.6 L614.5,201.8 L616.0,201.9 L617.5,201.9 L619.0,201.9 L620.5,201.8 L622.0,201.7 L623.5,201.5 L625.0,201.2 L626.5,200.9 L628.0,200.4 L629.5,200.0 L631.0,199.5 L632.5,199.0 L633.9,198.4 L635.4,197.7 L636.9,197.0 L638.4,196.1 L639.9,195.1 L641.4,193.9 L642.9,192.7 L644.4,191.3 L645.9,189.8 L647.4,188.2 L648.9,186.5 L650.4,184.7 L651.9,182.7 L653.4,180.7 L654.9,178.7 L656.3,176.6 L657.8,174.5 L659.3,172.4 L660.8,170.4 L662.3,168.4 L663.8,166.5 L665.3,164.5 L666.8,162.5 L668.3,160.5 L669.8,158.5 L671.3,156.5 L672.8,154.5 L674.3,152.5 L675.8,150.4" fill="none" stroke="#ffa500" stroke-width="1.2" stroke-opacity="1.0" stroke-linejoin="round" stroke-linecap="butt"/><path d="M31.40,11.20V118.40H223.60" fill="none" stroke="#262626" stroke-width="0.75"/><path d="M261.70,11.20V118.40H453.90" fill="none" stroke="#262626" stroke-width="0.75"/><path d="M492.30,11.20V118.40H684.50" fill="none" stroke="#262626" stroke-width="0.75"/><path d="M31.40,146.10V253.30H223.60" fill="none" stroke="#262626" stroke-width="0.75"/><path d="M261.70,146.10V253.30H453.90" fill="none" stroke="#262626" stroke-width="0.75"/><path d="M492.30,146.10V253.30H684.50" fill="none" stroke="#262626" stroke-width="0.75"/><path d="M31.40,282.20V389.35H223.60" fill="none" stroke="#262626" stroke-width="0.75"/><path d="M261.70,282.20V389.35H453.90" fill="none" stroke="#262626" stroke-width="0.75"/><path d="M492.30,282.20V389.35H684.50" fill="none" stroke="#262626" stroke-width="0.75"/><path d="M38.37,118.40V120.90" stroke="#262626" stroke-width="0.6"/><text transform="translate(38.37,129.70) scale(1.0,1)" text-anchor="middle" font-size="8.2" fill="#000">0</text><path d="M73.67,118.40V120.90" stroke="#262626" stroke-width="0.6"/><text transform="translate(73.67,129.70) scale(1.0,1)" text-anchor="middle" font-size="8.2" fill="#000">20</text><path d="M108.97,118.40V120.90" stroke="#262626" stroke-width="0.6"/><text transform="translate(108.97,129.70) scale(1.0,1)" text-anchor="middle" font-size="8.2" fill="#000">40</text><path d="M144.27,118.40V120.90" stroke="#262626" stroke-width="0.6"/><text transform="translate(144.27,129.70) scale(1.0,1)" text-anchor="middle" font-size="8.2" fill="#000">60</text><path d="M179.57,118.40V120.90" stroke="#262626" stroke-width="0.6"/><text transform="translate(179.57,129.70) scale(1.0,1)" text-anchor="middle" font-size="8.2" fill="#000">80</text><path d="M214.86,118.40V120.90" stroke="#262626" stroke-width="0.6"/><text transform="translate(214.86,129.70) scale(1.0,1)" text-anchor="middle" font-size="8.2" fill="#000">100</text><path d="M268.67,118.40V120.90" stroke="#262626" stroke-width="0.6"/><text transform="translate(268.67,129.70) scale(1.0,1)" text-anchor="middle" font-size="8.2" fill="#000">0</text><path d="M303.97,118.40V120.90" stroke="#262626" stroke-width="0.6"/><text transform="translate(303.97,129.70) scale(1.0,1)" text-anchor="middle" font-size="8.2" fill="#000">20</text><path d="M339.27,118.40V120.90" stroke="#262626" stroke-width="0.6"/><text transform="translate(339.27,129.70) scale(1.0,1)" text-anchor="middle" font-size="8.2" fill="#000">40</text><path d="M374.57,118.40V120.90" stroke="#262626" stroke-width="0.6"/><text transform="translate(374.57,129.70) scale(1.0,1)" text-anchor="middle" font-size="8.2" fill="#000">60</text><path d="M409.87,118.40V120.90" stroke="#262626" stroke-width="0.6"/><text transform="translate(409.87,129.70) scale(1.0,1)" text-anchor="middle" font-size="8.2" fill="#000">80</text><path d="M445.16,118.40V120.90" stroke="#262626" stroke-width="0.6"/><text transform="translate(445.16,129.70) scale(1.0,1)" text-anchor="middle" font-size="8.2" fill="#000">100</text><path d="M499.27,118.40V120.90" stroke="#262626" stroke-width="0.6"/><text transform="translate(499.27,129.70) scale(1.0,1)" text-anchor="middle" font-size="8.2" fill="#000">0</text><path d="M534.57,118.40V120.90" stroke="#262626" stroke-width="0.6"/><text transform="translate(534.57,129.70) scale(1.0,1)" text-anchor="middle" font-size="8.2" fill="#000">20</text><path d="M569.87,118.40V120.90" stroke="#262626" stroke-width="0.6"/><text transform="translate(569.87,129.70) scale(1.0,1)" text-anchor="middle" font-size="8.2" fill="#000">40</text><path d="M605.17,118.40V120.90" stroke="#262626" stroke-width="0.6"/><text transform="translate(605.17,129.70) scale(1.0,1)" text-anchor="middle" font-size="8.2" fill="#000">60</text><path d="M640.47,118.40V120.90" stroke="#262626" stroke-width="0.6"/><text transform="translate(640.47,129.70) scale(1.0,1)" text-anchor="middle" font-size="8.2" fill="#000">80</text><path d="M675.76,118.40V120.90" stroke="#262626" stroke-width="0.6"/><text transform="translate(675.76,129.70) scale(1.0,1)" text-anchor="middle" font-size="8.2" fill="#000">100</text><path d="M38.37,253.30V255.80" stroke="#262626" stroke-width="0.6"/><text transform="translate(38.37,264.50) scale(1.0,1)" text-anchor="middle" font-size="8.2" fill="#000">0</text><path d="M73.67,253.30V255.80" stroke="#262626" stroke-width="0.6"/><text transform="translate(73.67,264.50) scale(1.0,1)" text-anchor="middle" font-size="8.2" fill="#000">20</text><path d="M108.97,253.30V255.80" stroke="#262626" stroke-width="0.6"/><text transform="translate(108.97,264.50) scale(1.0,1)" text-anchor="middle" font-size="8.2" fill="#000">40</text><path d="M144.27,253.30V255.80" stroke="#262626" stroke-width="0.6"/><text transform="translate(144.27,264.50) scale(1.0,1)" text-anchor="middle" font-size="8.2" fill="#000">60</text><path d="M179.57,253.30V255.80" stroke="#262626" stroke-width="0.6"/><text transform="translate(179.57,264.50) scale(1.0,1)" text-anchor="middle" font-size="8.2" fill="#000">80</text><path d="M214.86,253.30V255.80" stroke="#262626" stroke-width="0.6"/><text transform="translate(214.86,264.50) scale(1.0,1)" text-anchor="middle" font-size="8.2" fill="#000">100</text><path d="M268.67,253.30V255.80" stroke="#262626" stroke-width="0.6"/><text transform="translate(268.67,264.50) scale(1.0,1)" text-anchor="middle" font-size="8.2" fill="#000">0</text><path d="M303.97,253.30V255.80" stroke="#262626" stroke-width="0.6"/><text transform="translate(303.97,264.50) scale(1.0,1)" text-anchor="middle" font-size="8.2" fill="#000">20</text><path d="M339.27,253.30V255.80" stroke="#262626" stroke-width="0.6"/><text transform="translate(339.27,264.50) scale(1.0,1)" text-anchor="middle" font-size="8.2" fill="#000">40</text><path d="M374.57,253.30V255.80" stroke="#262626" stroke-width="0.6"/><text transform="translate(374.57,264.50) scale(1.0,1)" text-anchor="middle" font-size="8.2" fill="#000">60</text><path d="M409.87,253.30V255.80" stroke="#262626" stroke-width="0.6"/><text transform="translate(409.87,264.50) scale(1.0,1)" text-anchor="middle" font-size="8.2" fill="#000">80</text><path d="M445.16,253.30V255.80" stroke="#262626" stroke-width="0.6"/><text transform="translate(445.16,264.50) scale(1.0,1)" text-anchor="middle" font-size="8.2" fill="#000">100</text><path d="M499.27,253.30V255.80" stroke="#262626" stroke-width="0.6"/><text transform="translate(499.27,264.50) scale(1.0,1)" text-anchor="middle" font-size="8.2" fill="#000">0</text><path d="M534.57,253.30V255.80" stroke="#262626" stroke-width="0.6"/><text transform="translate(534.57,264.50) scale(1.0,1)" text-anchor="middle" font-size="8.2" fill="#000">20</text><path d="M569.87,253.30V255.80" stroke="#262626" stroke-width="0.6"/><text transform="translate(569.87,264.50) scale(1.0,1)" text-anchor="middle" font-size="8.2" fill="#000">40</text><path d="M605.17,253.30V255.80" stroke="#262626" stroke-width="0.6"/><text transform="translate(605.17,264.50) scale(1.0,1)" text-anchor="middle" font-size="8.2" fill="#000">60</text><path d="M640.47,253.30V255.80" stroke="#262626" stroke-width="0.6"/><text transform="translate(640.47,264.50) scale(1.0,1)" text-anchor="middle" font-size="8.2" fill="#000">80</text><path d="M675.76,253.30V255.80" stroke="#262626" stroke-width="0.6"/><text transform="translate(675.76,264.50) scale(1.0,1)" text-anchor="middle" font-size="8.2" fill="#000">100</text><path d="M28.90,113.17H31.40" stroke="#262626" stroke-width="0.6"/><text transform="translate(26.50,116.07) scale(1.0,1)" text-anchor="end" font-size="8.2" fill="#000">−40</text><path d="M28.90,94.01H31.40" stroke="#262626" stroke-width="0.6"/><text transform="translate(26.50,96.91) scale(1.0,1)" text-anchor="end" font-size="8.2" fill="#000">−20</text><path d="M28.90,74.85H31.40" stroke="#262626" stroke-width="0.6"/><text transform="translate(26.50,77.75) scale(1.0,1)" text-anchor="end" font-size="8.2" fill="#000">0</text><path d="M28.90,55.69H31.40" stroke="#262626" stroke-width="0.6"/><text transform="translate(26.50,58.59) scale(1.0,1)" text-anchor="end" font-size="8.2" fill="#000">20</text><path d="M28.90,36.53H31.40" stroke="#262626" stroke-width="0.6"/><text transform="translate(26.50,39.43) scale(1.0,1)" text-anchor="end" font-size="8.2" fill="#000">40</text><path d="M28.90,17.37H31.40" stroke="#262626" stroke-width="0.6"/><text transform="translate(26.50,20.27) scale(1.0,1)" text-anchor="end" font-size="8.2" fill="#000">60</text><path d="M259.20,111.80H261.70" stroke="#262626" stroke-width="0.6"/><text transform="translate(256.80,114.70) scale(1.0,1)" text-anchor="end" font-size="8.2" fill="#000">−10</text><path d="M259.20,85.35H261.70" stroke="#262626" stroke-width="0.6"/><text transform="translate(256.80,88.25) scale(1.0,1)" text-anchor="end" font-size="8.2" fill="#000">−5</text><path d="M259.20,58.90H261.70" stroke="#262626" stroke-width="0.6"/><text transform="translate(256.80,61.80) scale(1.0,1)" text-anchor="end" font-size="8.2" fill="#000">0</text><path d="M259.20,32.45H261.70" stroke="#262626" stroke-width="0.6"/><text transform="translate(256.80,35.35) scale(1.0,1)" text-anchor="end" font-size="8.2" fill="#000">5</text><path d="M489.80,106.53H492.30" stroke="#262626" stroke-width="0.6"/><text transform="translate(487.40,109.43) scale(1.0,1)" text-anchor="end" font-size="8.2" fill="#000">−10</text><path d="M489.80,81.40H492.30" stroke="#262626" stroke-width="0.6"/><text transform="translate(487.40,84.30) scale(1.0,1)" text-anchor="end" font-size="8.2" fill="#000">0</text><path d="M489.80,56.27H492.30" stroke="#262626" stroke-width="0.6"/><text transform="translate(487.40,59.17) scale(1.0,1)" text-anchor="end" font-size="8.2" fill="#000">10</text><path d="M489.80,31.14H492.30" stroke="#262626" stroke-width="0.6"/><text transform="translate(487.40,34.04) scale(1.0,1)" text-anchor="end" font-size="8.2" fill="#000">20</text><path d="M28.90,250.20H31.40" stroke="#262626" stroke-width="0.6"/><text transform="translate(26.50,253.10) scale(1.0,1)" text-anchor="end" font-size="8.2" fill="#000">0</text><path d="M28.90,225.01H31.40" stroke="#262626" stroke-width="0.6"/><text transform="translate(26.50,227.91) scale(1.0,1)" text-anchor="end" font-size="8.2" fill="#000">10</text><path d="M28.90,199.82H31.40" stroke="#262626" stroke-width="0.6"/><text transform="translate(26.50,202.72) scale(1.0,1)" text-anchor="end" font-size="8.2" fill="#000">20</text><path d="M28.90,174.63H31.40" stroke="#262626" stroke-width="0.6"/><text transform="translate(26.50,177.53) scale(1.0,1)" text-anchor="end" font-size="8.2" fill="#000">30</text><path d="M28.90,149.44H31.40" stroke="#262626" stroke-width="0.6"/><text transform="translate(26.50,152.34) scale(1.0,1)" text-anchor="end" font-size="8.2" fill="#000">40</text><path d="M259.20,228.54H261.70" stroke="#262626" stroke-width="0.6"/><text transform="translate(256.80,231.44) scale(1.0,1)" text-anchor="end" font-size="8.2" fill="#000">2</text><path d="M259.20,200.58H261.70" stroke="#262626" stroke-width="0.6"/><text transform="translate(256.80,203.48) scale(1.0,1)" text-anchor="end" font-size="8.2" fill="#000">4</text><path d="M259.20,172.62H261.70" stroke="#262626" stroke-width="0.6"/><text transform="translate(256.80,175.52) scale(1.0,1)" text-anchor="end" font-size="8.2" fill="#000">6</text><path d="M489.80,229.40H492.30" stroke="#262626" stroke-width="0.6"/><text transform="translate(487.40,232.30) scale(1.0,1)" text-anchor="end" font-size="8.2" fill="#000">5</text><path d="M489.80,201.30H492.30" stroke="#262626" stroke-width="0.6"/><text transform="translate(487.40,204.20) scale(1.0,1)" text-anchor="end" font-size="8.2" fill="#000">10</text><path d="M489.80,173.20H492.30" stroke="#262626" stroke-width="0.6"/><text transform="translate(487.40,176.10) scale(1.0,1)" text-anchor="end" font-size="8.2" fill="#000">15</text><path d="M28.90,293.30H31.40" stroke="#262626" stroke-width="0.6"/><text transform="translate(26.50,296.20) scale(1.0,1)" text-anchor="end" font-size="8.2" fill="#000">M02</text><path d="M28.90,314.65H31.40" stroke="#262626" stroke-width="0.6"/><text transform="translate(26.50,317.55) scale(1.0,1)" text-anchor="end" font-size="8.2" fill="#000">M03</text><path d="M28.90,336.00H31.40" stroke="#262626" stroke-width="0.6"/><text transform="translate(26.50,338.90) scale(1.0,1)" text-anchor="end" font-size="8.2" fill="#000">M04</text><path d="M28.90,357.35H31.40" stroke="#262626" stroke-width="0.6"/><text transform="translate(26.50,360.25) scale(1.0,1)" text-anchor="end" font-size="8.2" fill="#000">M05</text><path d="M28.90,378.70H31.40" stroke="#262626" stroke-width="0.6"/><text transform="translate(26.50,381.60) scale(1.0,1)" text-anchor="end" font-size="8.2" fill="#000">M06</text><path d="M259.20,293.30H261.70" stroke="#262626" stroke-width="0.6"/><text transform="translate(256.80,296.20) scale(1.0,1)" text-anchor="end" font-size="8.2" fill="#000">M02</text><path d="M259.20,314.65H261.70" stroke="#262626" stroke-width="0.6"/><text transform="translate(256.80,317.55) scale(1.0,1)" text-anchor="end" font-size="8.2" fill="#000">M03</text><path d="M259.20,336.00H261.70" stroke="#262626" stroke-width="0.6"/><text transform="translate(256.80,338.90) scale(1.0,1)" text-anchor="end" font-size="8.2" fill="#000">M04</text><path d="M259.20,357.35H261.70" stroke="#262626" stroke-width="0.6"/><text transform="translate(256.80,360.25) scale(1.0,1)" text-anchor="end" font-size="8.2" fill="#000">M05</text><path d="M259.20,378.70H261.70" stroke="#262626" stroke-width="0.6"/><text transform="translate(256.80,381.60) scale(1.0,1)" text-anchor="end" font-size="8.2" fill="#000">M06</text><path d="M489.80,293.30H492.30" stroke="#262626" stroke-width="0.6"/><text transform="translate(487.40,296.20) scale(1.0,1)" text-anchor="end" font-size="8.2" fill="#000">M02</text><path d="M489.80,314.65H492.30" stroke="#262626" stroke-width="0.6"/><text transform="translate(487.40,317.55) scale(1.0,1)" text-anchor="end" font-size="8.2" fill="#000">M03</text><path d="M489.80,336.00H492.30" stroke="#262626" stroke-width="0.6"/><text transform="translate(487.40,338.90) scale(1.0,1)" text-anchor="end" font-size="8.2" fill="#000">M04</text><path d="M489.80,357.35H492.30" stroke="#262626" stroke-width="0.6"/><text transform="translate(487.40,360.25) scale(1.0,1)" text-anchor="end" font-size="8.2" fill="#000">M05</text><path d="M489.80,378.70H492.30" stroke="#262626" stroke-width="0.6"/><text transform="translate(487.40,381.60) scale(1.0,1)" text-anchor="end" font-size="8.2" fill="#000">M06</text><path d="M38.00,389.35V391.85" stroke="#262626" stroke-width="0.6"/><text transform="translate(38.00,400.85) scale(1.0,1)" text-anchor="middle" font-size="8.2" fill="#000">0</text><path d="M75.52,389.35V391.85" stroke="#262626" stroke-width="0.6"/><text transform="translate(75.52,400.85) scale(1.0,1)" text-anchor="middle" font-size="8.2" fill="#000">10</text><path d="M113.04,389.35V391.85" stroke="#262626" stroke-width="0.6"/><text transform="translate(113.04,400.85) scale(1.0,1)" text-anchor="middle" font-size="8.2" fill="#000">20</text><path d="M150.56,389.35V391.85" stroke="#262626" stroke-width="0.6"/><text transform="translate(150.56,400.85) scale(1.0,1)" text-anchor="middle" font-size="8.2" fill="#000">30</text><path d="M188.08,389.35V391.85" stroke="#262626" stroke-width="0.6"/><text transform="translate(188.08,400.85) scale(1.0,1)" text-anchor="middle" font-size="8.2" fill="#000">40</text><path d="M268.50,389.35V391.85" stroke="#262626" stroke-width="0.6"/><text transform="translate(268.50,400.85) scale(1.0,1)" text-anchor="middle" font-size="8.2" fill="#000">0</text><path d="M303.60,389.35V391.85" stroke="#262626" stroke-width="0.6"/><text transform="translate(303.60,400.85) scale(1.0,1)" text-anchor="middle" font-size="8.2" fill="#000">2</text><path d="M346.20,389.35V391.85" stroke="#262626" stroke-width="0.6"/><text transform="translate(346.20,400.85) scale(1.0,1)" text-anchor="middle" font-size="8.2" fill="#000">4</text><path d="M388.40,389.35V391.85" stroke="#262626" stroke-width="0.6"/><text transform="translate(388.40,400.85) scale(1.0,1)" text-anchor="middle" font-size="8.2" fill="#000">6</text><path d="M430.70,389.35V391.85" stroke="#262626" stroke-width="0.6"/><text transform="translate(430.70,400.85) scale(1.0,1)" text-anchor="middle" font-size="8.2" fill="#000">8</text><path d="M496.30,389.35V391.85" stroke="#262626" stroke-width="0.6"/><text transform="translate(496.30,400.85) scale(1.0,1)" text-anchor="middle" font-size="8.2" fill="#000">0</text><path d="M529.05,389.35V391.85" stroke="#262626" stroke-width="0.6"/><text transform="translate(529.05,400.85) scale(1.0,1)" text-anchor="middle" font-size="8.2" fill="#000">5</text><path d="M561.80,389.35V391.85" stroke="#262626" stroke-width="0.6"/><text transform="translate(561.80,400.85) scale(1.0,1)" text-anchor="middle" font-size="8.2" fill="#000">10</text><path d="M594.55,389.35V391.85" stroke="#262626" stroke-width="0.6"/><text transform="translate(594.55,400.85) scale(1.0,1)" text-anchor="middle" font-size="8.2" fill="#000">15</text><path d="M627.30,389.35V391.85" stroke="#262626" stroke-width="0.6"/><text transform="translate(627.30,400.85) scale(1.0,1)" text-anchor="middle" font-size="8.2" fill="#000">20</text><path d="M660.05,389.35V391.85" stroke="#262626" stroke-width="0.6"/><text transform="translate(660.05,400.85) scale(1.0,1)" text-anchor="middle" font-size="8.2" fill="#000">25</text><text transform="translate(120.00,7.50) scale(1.0,1)" text-anchor="middle" font-size="8.2" fill="#000">flexion (+) /extension (-)</text><text transform="translate(349.10,7.50) scale(1.0,1)" text-anchor="middle" font-size="8.2" fill="#000">adduction (+) /abduction (-)</text><text transform="translate(583.60,7.50) scale(1.0,1)" text-anchor="middle" font-size="8.2" fill="#000">internal (+) /external (-) rotation</text><text transform="translate(7.00,64.80) rotate(-90) scale(1.0,1)" text-anchor="middle" font-size="8.2" fill="#000">joint angle [deg]</text><text transform="translate(7.20,198.50) rotate(-90) scale(1.0,1)" text-anchor="middle" font-size="8.2" fill="#000">RMSE [deg]</text><text transform="translate(127.10,275.00) scale(1.0,1)" text-anchor="middle" font-size="8.2" fill="#000">% gait cycle</text><text transform="translate(127.20,414.20) scale(1.0,1)" text-anchor="middle" font-size="8.2" fill="#000">RMSE [deg]</text><text transform="translate(357.40,275.00) scale(1.0,1)" text-anchor="middle" font-size="8.2" fill="#000">% gait cycle</text><text transform="translate(357.50,414.20) scale(1.0,1)" text-anchor="middle" font-size="8.2" fill="#000">RMSE [deg]</text><text transform="translate(588.00,275.00) scale(1.0,1)" text-anchor="middle" font-size="8.2" fill="#000">% gait cycle</text><text transform="translate(588.10,414.20) scale(1.0,1)" text-anchor="middle" font-size="8.2" fill="#000">RMSE [deg]</text><path d="M175.9,181.75H191.9" stroke="#000000" stroke-width="1.25" stroke-opacity="0.9"/><text transform="translate(197.00,184.65) scale(1.0,1)" text-anchor="start" font-size="8.2" fill="#000">M01</text><path d="M175.9,192.45H191.9" stroke="#0000ff" stroke-width="1.25" stroke-opacity="0.9"/><text transform="translate(197.00,195.35) scale(1.0,1)" text-anchor="start" font-size="8.2" fill="#000">M02</text><path d="M175.9,203.15H191.9" stroke="#ff0000" stroke-width="1.25" stroke-opacity="0.9"/><text transform="translate(197.00,206.05) scale(1.0,1)" text-anchor="start" font-size="8.2" fill="#000">M03</text><path d="M175.9,213.85H191.9" stroke="#008000" stroke-width="1.25" stroke-opacity="0.9"/><text transform="translate(197.00,216.75) scale(1.0,1)" text-anchor="start" font-size="8.2" fill="#000">M04</text><path d="M175.9,224.55H191.9" stroke="#800080" stroke-width="1.25" stroke-opacity="0.9"/><text transform="translate(197.00,227.45) scale(1.0,1)" text-anchor="start" font-size="8.2" fill="#000">M05</text><path d="M175.9,235.25H191.9" stroke="#ffa500" stroke-width="1.25" stroke-opacity="0.9"/><text transform="translate(197.00,238.15) scale(1.0,1)" text-anchor="start" font-size="8.2" fill="#000">M06</text><path d="M40.0,291.5a2.05,2.05 0 1,0 4.1,0a2.05,2.05 0 1,0 -4.1,0M42.5,291.0a2.05,2.05 0 1,0 4.1,0a2.05,2.05 0 1,0 -4.1,0M38.0,294.5a2.05,2.05 0 1,0 4.1,0a2.05,2.05 0 1,0 -4.1,0M40.5,294.5a2.05,2.05 0 1,0 4.1,0a2.05,2.05 0 1,0 -4.1,0M43.0,294.0a2.05,2.05 0 1,0 4.1,0a2.05,2.05 0 1,0 -4.1,0M41.0,293.0a2.05,2.05 0 1,0 4.1,0a2.05,2.05 0 1,0 -4.1,0M39.0,293.0a2.05,2.05 0 1,0 4.1,0a2.05,2.05 0 1,0 -4.1,0M47.1,295.1a2.05,2.05 0 1,0 4.1,0a2.05,2.05 0 1,0 -4.1,0M268.8,292.7a2.05,2.05 0 1,0 4.1,0a2.05,2.05 0 1,0 -4.1,0M271.1,291.3a2.05,2.05 0 1,0 4.1,0a2.05,2.05 0 1,0 -4.1,0M270.1,294.5a2.05,2.05 0 1,0 4.1,0a2.05,2.05 0 1,0 -4.1,0M275.6,291.8a2.05,2.05 0 1,0 4.1,0a2.05,2.05 0 1,0 -4.1,0M276.1,295.4a2.05,2.05 0 1,0 4.1,0a2.05,2.05 0 1,0 -4.1,0M280.2,292.2a2.05,2.05 0 1,0 4.1,0a2.05,2.05 0 1,0 -4.1,0M281.1,295.4a2.05,2.05 0 1,0 4.1,0a2.05,2.05 0 1,0 -4.1,0M282.9,291.3a2.05,2.05 0 1,0 4.1,0a2.05,2.05 0 1,0 -4.1,0M285.6,294.0a2.05,2.05 0 1,0 4.1,0a2.05,2.05 0 1,0 -4.1,0M288.4,291.3a2.05,2.05 0 1,0 4.1,0a2.05,2.05 0 1,0 -4.1,0M290.2,295.0a2.05,2.05 0 1,0 4.1,0a2.05,2.05 0 1,0 -4.1,0M498.9,292.8a2.05,2.05 0 1,0 4.1,0a2.05,2.05 0 1,0 -4.1,0M501.2,291.0a2.05,2.05 0 1,0 4.1,0a2.05,2.05 0 1,0 -4.1,0M500.1,294.5a2.05,2.05 0 1,0 4.1,0a2.05,2.05 0 1,0 -4.1,0M503.6,292.2a2.05,2.05 0 1,0 4.1,0a2.05,2.05 0 1,0 -4.1,0M504.8,295.1a2.05,2.05 0 1,0 4.1,0a2.05,2.05 0 1,0 -4.1,0M507.1,293.3a2.05,2.05 0 1,0 4.1,0a2.05,2.05 0 1,0 -4.1,0M509.4,292.2a2.05,2.05 0 1,0 4.1,0a2.05,2.05 0 1,0 -4.1,0M511.8,293.3a2.05,2.05 0 1,0 4.1,0a2.05,2.05 0 1,0 -4.1,0M514.2,291.6a2.05,2.05 0 1,0 4.1,0a2.05,2.05 0 1,0 -4.1,0M517.1,291.2a2.05,2.05 0 1,0 4.1,0a2.05,2.05 0 1,0 -4.1,0M513.6,293.6a2.05,2.05 0 1,0 4.1,0a2.05,2.05 0 1,0 -4.1,0M501.9,294.0a2.05,2.05 0 1,0 4.1,0a2.05,2.05 0 1,0 -4.1,0" fill="#0000ff"/><path d="M38.5,313.0a2.05,2.05 0 1,0 4.1,0a2.05,2.05 0 1,0 -4.1,0M41.0,312.5a2.05,2.05 0 1,0 4.1,0a2.05,2.05 0 1,0 -4.1,0M43.5,313.0a2.05,2.05 0 1,0 4.1,0a2.05,2.05 0 1,0 -4.1,0M39.0,315.5a2.05,2.05 0 1,0 4.1,0a2.05,2.05 0 1,0 -4.1,0M42.0,316.0a2.05,2.05 0 1,0 4.1,0a2.05,2.05 0 1,0 -4.1,0M44.0,315.5a2.05,2.05 0 1,0 4.1,0a2.05,2.05 0 1,0 -4.1,0M40.5,317.0a2.05,2.05 0 1,0 4.1,0a2.05,2.05 0 1,0 -4.1,0M48.0,312.5a2.05,2.05 0 1,0 4.1,0a2.05,2.05 0 1,0 -4.1,0M271.9,316.4a2.05,2.05 0 1,0 4.1,0a2.05,2.05 0 1,0 -4.1,0M273.8,313.2a2.05,2.05 0 1,0 4.1,0a2.05,2.05 0 1,0 -4.1,0M275.6,311.4a2.05,2.05 0 1,0 4.1,0a2.05,2.05 0 1,0 -4.1,0M277.9,315.5a2.05,2.05 0 1,0 4.1,0a2.05,2.05 0 1,0 -4.1,0M280.2,313.2a2.05,2.05 0 1,0 4.1,0a2.05,2.05 0 1,0 -4.1,0M282.9,316.4a2.05,2.05 0 1,0 4.1,0a2.05,2.05 0 1,0 -4.1,0M284.8,312.3a2.05,2.05 0 1,0 4.1,0a2.05,2.05 0 1,0 -4.1,0M287.1,311.9a2.05,2.05 0 1,0 4.1,0a2.05,2.05 0 1,0 -4.1,0M286.6,315.0a2.05,2.05 0 1,0 4.1,0a2.05,2.05 0 1,0 -4.1,0M499.6,312.6a2.05,2.05 0 1,0 4.1,0a2.05,2.05 0 1,0 -4.1,0M502.4,313.2a2.05,2.05 0 1,0 4.1,0a2.05,2.05 0 1,0 -4.1,0M503.6,316.1a2.05,2.05 0 1,0 4.1,0a2.05,2.05 0 1,0 -4.1,0M505.9,312.6a2.05,2.05 0 1,0 4.1,0a2.05,2.05 0 1,0 -4.1,0M508.3,314.9a2.05,2.05 0 1,0 4.1,0a2.05,2.05 0 1,0 -4.1,0M511.2,314.4a2.05,2.05 0 1,0 4.1,0a2.05,2.05 0 1,0 -4.1,0M513.0,316.7a2.05,2.05 0 1,0 4.1,0a2.05,2.05 0 1,0 -4.1,0M514.2,312.6a2.05,2.05 0 1,0 4.1,0a2.05,2.05 0 1,0 -4.1,0M516.5,315.5a2.05,2.05 0 1,0 4.1,0a2.05,2.05 0 1,0 -4.1,0M519.4,313.8a2.05,2.05 0 1,0 4.1,0a2.05,2.05 0 1,0 -4.1,0M523.0,314.9a2.05,2.05 0 1,0 4.1,0a2.05,2.05 0 1,0 -4.1,0M536.6,313.2a2.05,2.05 0 1,0 4.1,0a2.05,2.05 0 1,0 -4.1,0M551.6,314.1a2.05,2.05 0 1,0 4.1,0a2.05,2.05 0 1,0 -4.1,0M554.5,315.3a2.05,2.05 0 1,0 4.1,0a2.05,2.05 0 1,0 -4.1,0M559.2,316.1a2.05,2.05 0 1,0 4.1,0a2.05,2.05 0 1,0 -4.1,0M560.9,314.1a2.05,2.05 0 1,0 4.1,0a2.05,2.05 0 1,0 -4.1,0" fill="#ff0000"/><path d="M39.5,334.5a2.05,2.05 0 1,0 4.1,0a2.05,2.05 0 1,0 -4.1,0M42.0,335.0a2.05,2.05 0 1,0 4.1,0a2.05,2.05 0 1,0 -4.1,0M45.0,336.0a2.05,2.05 0 1,0 4.1,0a2.05,2.05 0 1,0 -4.1,0M48.0,336.0a2.05,2.05 0 1,0 4.1,0a2.05,2.05 0 1,0 -4.1,0M49.5,336.5a2.05,2.05 0 1,0 4.1,0a2.05,2.05 0 1,0 -4.1,0M40.0,337.5a2.05,2.05 0 1,0 4.1,0a2.05,2.05 0 1,0 -4.1,0M43.0,337.5a2.05,2.05 0 1,0 4.1,0a2.05,2.05 0 1,0 -4.1,0M47.0,337.5a2.05,2.05 0 1,0 4.1,0a2.05,2.05 0 1,0 -4.1,0M270.6,335.1a2.05,2.05 0 1,0 4.1,0a2.05,2.05 0 1,0 -4.1,0M272.9,337.0a2.05,2.05 0 1,0 4.1,0a2.05,2.05 0 1,0 -4.1,0M275.6,334.7a2.05,2.05 0 1,0 4.1,0a2.05,2.05 0 1,0 -4.1,0M278.3,337.9a2.05,2.05 0 1,0 4.1,0a2.05,2.05 0 1,0 -4.1,0M280.2,335.6a2.05,2.05 0 1,0 4.1,0a2.05,2.05 0 1,0 -4.1,0M282.1,337.4a2.05,2.05 0 1,0 4.1,0a2.05,2.05 0 1,0 -4.1,0M283.8,334.2a2.05,2.05 0 1,0 4.1,0a2.05,2.05 0 1,0 -4.1,0M286.6,336.5a2.05,2.05 0 1,0 4.1,0a2.05,2.05 0 1,0 -4.1,0M289.3,336.0a2.05,2.05 0 1,0 4.1,0a2.05,2.05 0 1,0 -4.1,0M291.1,334.2a2.05,2.05 0 1,0 4.1,0a2.05,2.05 0 1,0 -4.1,0M292.9,333.3a2.05,2.05 0 1,0 4.1,0a2.05,2.05 0 1,0 -4.1,0M293.9,336.5a2.05,2.05 0 1,0 4.1,0a2.05,2.05 0 1,0 -4.1,0M297.1,337.9a2.05,2.05 0 1,0 4.1,0a2.05,2.05 0 1,0 -4.1,0M311.8,335.1a2.05,2.05 0 1,0 4.1,0a2.05,2.05 0 1,0 -4.1,0M314.9,335.6a2.05,2.05 0 1,0 4.1,0a2.05,2.05 0 1,0 -4.1,0M313.1,337.9a2.05,2.05 0 1,0 4.1,0a2.05,2.05 0 1,0 -4.1,0M497.8,334.0a2.05,2.05 0 1,0 4.1,0a2.05,2.05 0 1,0 -4.1,0M499.2,336.9a2.05,2.05 0 1,0 4.1,0a2.05,2.05 0 1,0 -4.1,0M502.1,335.5a2.05,2.05 0 1,0 4.1,0a2.05,2.05 0 1,0 -4.1,0M505.8,336.2a2.05,2.05 0 1,0 4.1,0a2.05,2.05 0 1,0 -4.1,0M508.8,335.5a2.05,2.05 0 1,0 4.1,0a2.05,2.05 0 1,0 -4.1,0M512.4,336.9a2.05,2.05 0 1,0 4.1,0a2.05,2.05 0 1,0 -4.1,0M516.1,337.7a2.05,2.05 0 1,0 4.1,0a2.05,2.05 0 1,0 -4.1,0M518.2,334.0a2.05,2.05 0 1,0 4.1,0a2.05,2.05 0 1,0 -4.1,0M520.5,336.9a2.05,2.05 0 1,0 4.1,0a2.05,2.05 0 1,0 -4.1,0M544.1,334.8a2.05,2.05 0 1,0 4.1,0a2.05,2.05 0 1,0 -4.1,0M577.4,336.9a2.05,2.05 0 1,0 4.1,0a2.05,2.05 0 1,0 -4.1,0M579.6,334.0a2.05,2.05 0 1,0 4.1,0a2.05,2.05 0 1,0 -4.1,0M581.8,337.7a2.05,2.05 0 1,0 4.1,0a2.05,2.05 0 1,0 -4.1,0" fill="#008000"/><path d="M40.0,355.5a2.05,2.05 0 1,0 4.1,0a2.05,2.05 0 1,0 -4.1,0M43.0,356.0a2.05,2.05 0 1,0 4.1,0a2.05,2.05 0 1,0 -4.1,0M46.0,357.0a2.05,2.05 0 1,0 4.1,0a2.05,2.05 0 1,0 -4.1,0M49.0,355.5a2.05,2.05 0 1,0 4.1,0a2.05,2.05 0 1,0 -4.1,0M40.0,359.0a2.05,2.05 0 1,0 4.1,0a2.05,2.05 0 1,0 -4.1,0M43.0,358.5a2.05,2.05 0 1,0 4.1,0a2.05,2.05 0 1,0 -4.1,0M46.0,359.0a2.05,2.05 0 1,0 4.1,0a2.05,2.05 0 1,0 -4.1,0M49.0,359.0a2.05,2.05 0 1,0 4.1,0a2.05,2.05 0 1,0 -4.1,0M268.3,356.1a2.05,2.05 0 1,0 4.1,0a2.05,2.05 0 1,0 -4.1,0M271.1,355.2a2.05,2.05 0 1,0 4.1,0a2.05,2.05 0 1,0 -4.1,0M270.1,358.4a2.05,2.05 0 1,0 4.1,0a2.05,2.05 0 1,0 -4.1,0M272.9,355.7a2.05,2.05 0 1,0 4.1,0a2.05,2.05 0 1,0 -4.1,0M275.6,358.9a2.05,2.05 0 1,0 4.1,0a2.05,2.05 0 1,0 -4.1,0M278.3,356.1a2.05,2.05 0 1,0 4.1,0a2.05,2.05 0 1,0 -4.1,0M281.1,357.5a2.05,2.05 0 1,0 4.1,0a2.05,2.05 0 1,0 -4.1,0M283.8,355.7a2.05,2.05 0 1,0 4.1,0a2.05,2.05 0 1,0 -4.1,0M286.6,357.5a2.05,2.05 0 1,0 4.1,0a2.05,2.05 0 1,0 -4.1,0M289.3,356.1a2.05,2.05 0 1,0 4.1,0a2.05,2.05 0 1,0 -4.1,0M292.1,355.7a2.05,2.05 0 1,0 4.1,0a2.05,2.05 0 1,0 -4.1,0M293.4,358.0a2.05,2.05 0 1,0 4.1,0a2.05,2.05 0 1,0 -4.1,0M296.6,358.4a2.05,2.05 0 1,0 4.1,0a2.05,2.05 0 1,0 -4.1,0M299.3,358.9a2.05,2.05 0 1,0 4.1,0a2.05,2.05 0 1,0 -4.1,0M314.1,356.1a2.05,2.05 0 1,0 4.1,0a2.05,2.05 0 1,0 -4.1,0M316.8,356.6a2.05,2.05 0 1,0 4.1,0a2.05,2.05 0 1,0 -4.1,0M315.3,358.9a2.05,2.05 0 1,0 4.1,0a2.05,2.05 0 1,0 -4.1,0M501.4,355.9a2.05,2.05 0 1,0 4.1,0a2.05,2.05 0 1,0 -4.1,0M504.3,355.2a2.05,2.05 0 1,0 4.1,0a2.05,2.05 0 1,0 -4.1,0M507.2,358.8a2.05,2.05 0 1,0 4.1,0a2.05,2.05 0 1,0 -4.1,0M509.4,355.9a2.05,2.05 0 1,0 4.1,0a2.05,2.05 0 1,0 -4.1,0M512.4,357.4a2.05,2.05 0 1,0 4.1,0a2.05,2.05 0 1,0 -4.1,0M515.4,355.2a2.05,2.05 0 1,0 4.1,0a2.05,2.05 0 1,0 -4.1,0M517.5,358.1a2.05,2.05 0 1,0 4.1,0a2.05,2.05 0 1,0 -4.1,0M519.7,355.9a2.05,2.05 0 1,0 4.1,0a2.05,2.05 0 1,0 -4.1,0M523.4,358.8a2.05,2.05 0 1,0 4.1,0a2.05,2.05 0 1,0 -4.1,0M527.0,357.0a2.05,2.05 0 1,0 4.1,0a2.05,2.05 0 1,0 -4.1,0M535.1,357.8a2.05,2.05 0 1,0 4.1,0a2.05,2.05 0 1,0 -4.1,0M545.2,358.8a2.05,2.05 0 1,0 4.1,0a2.05,2.05 0 1,0 -4.1,0M575.2,357.4a2.05,2.05 0 1,0 4.1,0a2.05,2.05 0 1,0 -4.1,0M578.9,357.0a2.05,2.05 0 1,0 4.1,0a2.05,2.05 0 1,0 -4.1,0" fill="#800080"/><path d="M54.4,379.2a2.05,2.05 0 1,0 4.1,0a2.05,2.05 0 1,0 -4.1,0M57.7,378.5a2.05,2.05 0 1,0 4.1,0a2.05,2.05 0 1,0 -4.1,0M64.2,380.5a2.05,2.05 0 1,0 4.1,0a2.05,2.05 0 1,0 -4.1,0M66.2,376.9a2.05,2.05 0 1,0 4.1,0a2.05,2.05 0 1,0 -4.1,0M68.9,377.9a2.05,2.05 0 1,0 4.1,0a2.05,2.05 0 1,0 -4.1,0M70.2,381.1a2.05,2.05 0 1,0 4.1,0a2.05,2.05 0 1,0 -4.1,0M75.8,376.5a2.05,2.05 0 1,0 4.1,0a2.05,2.05 0 1,0 -4.1,0M81.0,379.2a2.05,2.05 0 1,0 4.1,0a2.05,2.05 0 1,0 -4.1,0M90.5,380.5a2.05,2.05 0 1,0 4.1,0a2.05,2.05 0 1,0 -4.1,0M93.2,377.2a2.05,2.05 0 1,0 4.1,0a2.05,2.05 0 1,0 -4.1,0M94.2,380.1a2.05,2.05 0 1,0 4.1,0a2.05,2.05 0 1,0 -4.1,0M100.4,380.1a2.05,2.05 0 1,0 4.1,0a2.05,2.05 0 1,0 -4.1,0M105.7,378.8a2.05,2.05 0 1,0 4.1,0a2.05,2.05 0 1,0 -4.1,0M108.2,379.8a2.05,2.05 0 1,0 4.1,0a2.05,2.05 0 1,0 -4.1,0M110.2,377.5a2.05,2.05 0 1,0 4.1,0a2.05,2.05 0 1,0 -4.1,0M116.8,379.6a2.05,2.05 0 1,0 4.1,0a2.05,2.05 0 1,0 -4.1,0M141.1,379.0a2.05,2.05 0 1,0 4.1,0a2.05,2.05 0 1,0 -4.1,0M144.1,380.1a2.05,2.05 0 1,0 4.1,0a2.05,2.05 0 1,0 -4.1,0M157.9,380.0a2.05,2.05 0 1,0 4.1,0a2.05,2.05 0 1,0 -4.1,0M161.1,377.1a2.05,2.05 0 1,0 4.1,0a2.05,2.05 0 1,0 -4.1,0M167.4,377.5a2.05,2.05 0 1,0 4.1,0a2.05,2.05 0 1,0 -4.1,0M171.1,377.5a2.05,2.05 0 1,0 4.1,0a2.05,2.05 0 1,0 -4.1,0M179.1,377.1a2.05,2.05 0 1,0 4.1,0a2.05,2.05 0 1,0 -4.1,0M181.3,379.0a2.05,2.05 0 1,0 4.1,0a2.05,2.05 0 1,0 -4.1,0M190.8,377.1a2.05,2.05 0 1,0 4.1,0a2.05,2.05 0 1,0 -4.1,0M203.2,380.1a2.05,2.05 0 1,0 4.1,0a2.05,2.05 0 1,0 -4.1,0M212.2,379.0a2.05,2.05 0 1,0 4.1,0a2.05,2.05 0 1,0 -4.1,0M277.1,378.5a2.05,2.05 0 1,0 4.1,0a2.05,2.05 0 1,0 -4.1,0M280.4,377.9a2.05,2.05 0 1,0 4.1,0a2.05,2.05 0 1,0 -4.1,0M280.4,380.5a2.05,2.05 0 1,0 4.1,0a2.05,2.05 0 1,0 -4.1,0M284.3,379.8a2.05,2.05 0 1,0 4.1,0a2.05,2.05 0 1,0 -4.1,0M287.1,377.9a2.05,2.05 0 1,0 4.1,0a2.05,2.05 0 1,0 -4.1,0M289.6,379.2a2.05,2.05 0 1,0 4.1,0a2.05,2.05 0 1,0 -4.1,0M291.6,377.2a2.05,2.05 0 1,0 4.1,0a2.05,2.05 0 1,0 -4.1,0M292.2,380.5a2.05,2.05 0 1,0 4.1,0a2.05,2.05 0 1,0 -4.1,0M295.6,377.2a2.05,2.05 0 1,0 4.1,0a2.05,2.05 0 1,0 -4.1,0M298.1,379.2a2.05,2.05 0 1,0 4.1,0a2.05,2.05 0 1,0 -4.1,0M300.8,380.5a2.05,2.05 0 1,0 4.1,0a2.05,2.05 0 1,0 -4.1,0M304.1,379.8a2.05,2.05 0 1,0 4.1,0a2.05,2.05 0 1,0 -4.1,0M308.6,378.5a2.05,2.05 0 1,0 4.1,0a2.05,2.05 0 1,0 -4.1,0M311.9,380.5a2.05,2.05 0 1,0 4.1,0a2.05,2.05 0 1,0 -4.1,0M321.1,378.2a2.05,2.05 0 1,0 4.1,0a2.05,2.05 0 1,0 -4.1,0M328.3,377.5a2.05,2.05 0 1,0 4.1,0a2.05,2.05 0 1,0 -4.1,0M357.8,377.0a2.05,2.05 0 1,0 4.1,0a2.05,2.05 0 1,0 -4.1,0M357.8,378.4a2.05,2.05 0 1,0 4.1,0a2.05,2.05 0 1,0 -4.1,0M367.6,378.0a2.05,2.05 0 1,0 4.1,0a2.05,2.05 0 1,0 -4.1,0M378.6,380.8a2.05,2.05 0 1,0 4.1,0a2.05,2.05 0 1,0 -4.1,0M382.3,377.0a2.05,2.05 0 1,0 4.1,0a2.05,2.05 0 1,0 -4.1,0M391.8,379.1a2.05,2.05 0 1,0 4.1,0a2.05,2.05 0 1,0 -4.1,0M391.8,380.8a2.05,2.05 0 1,0 4.1,0a2.05,2.05 0 1,0 -4.1,0M398.4,380.2a2.05,2.05 0 1,0 4.1,0a2.05,2.05 0 1,0 -4.1,0M402.6,378.0a2.05,2.05 0 1,0 4.1,0a2.05,2.05 0 1,0 -4.1,0M442.8,379.1a2.05,2.05 0 1,0 4.1,0a2.05,2.05 0 1,0 -4.1,0M509.1,379.1a2.05,2.05 0 1,0 4.1,0a2.05,2.05 0 1,0 -4.1,0M519.5,380.8a2.05,2.05 0 1,0 4.1,0a2.05,2.05 0 1,0 -4.1,0M531.6,378.0a2.05,2.05 0 1,0 4.1,0a2.05,2.05 0 1,0 -4.1,0M543.8,377.0a2.05,2.05 0 1,0 4.1,0a2.05,2.05 0 1,0 -4.1,0M543.8,380.5a2.05,2.05 0 1,0 4.1,0a2.05,2.05 0 1,0 -4.1,0M546.5,378.4a2.05,2.05 0 1,0 4.1,0a2.05,2.05 0 1,0 -4.1,0M550.0,379.8a2.05,2.05 0 1,0 4.1,0a2.05,2.05 0 1,0 -4.1,0M553.5,376.6a2.05,2.05 0 1,0 4.1,0a2.05,2.05 0 1,0 -4.1,0M554.9,379.1a2.05,2.05 0 1,0 4.1,0a2.05,2.05 0 1,0 -4.1,0M555.6,381.2a2.05,2.05 0 1,0 4.1,0a2.05,2.05 0 1,0 -4.1,0M561.1,377.7a2.05,2.05 0 1,0 4.1,0a2.05,2.05 0 1,0 -4.1,0M561.1,380.2a2.05,2.05 0 1,0 4.1,0a2.05,2.05 0 1,0 -4.1,0M575.0,377.4a2.05,2.05 0 1,0 4.1,0a2.05,2.05 0 1,0 -4.1,0M578.4,378.0a2.05,2.05 0 1,0 4.1,0a2.05,2.05 0 1,0 -4.1,0M583.2,377.0a2.05,2.05 0 1,0 4.1,0a2.05,2.05 0 1,0 -4.1,0M583.2,379.8a2.05,2.05 0 1,0 4.1,0a2.05,2.05 0 1,0 -4.1,0M593.8,380.8a2.05,2.05 0 1,0 4.1,0a2.05,2.05 0 1,0 -4.1,0M594.9,378.4a2.05,2.05 0 1,0 4.1,0a2.05,2.05 0 1,0 -4.1,0M598.8,380.8a2.05,2.05 0 1,0 4.1,0a2.05,2.05 0 1,0 -4.1,0M602.6,376.6a2.05,2.05 0 1,0 4.1,0a2.05,2.05 0 1,0 -4.1,0M607.4,380.2a2.05,2.05 0 1,0 4.1,0a2.05,2.05 0 1,0 -4.1,0M609.5,379.4a2.05,2.05 0 1,0 4.1,0a2.05,2.05 0 1,0 -4.1,0M619.2,377.4a2.05,2.05 0 1,0 4.1,0a2.05,2.05 0 1,0 -4.1,0M626.1,377.4a2.05,2.05 0 1,0 4.1,0a2.05,2.05 0 1,0 -4.1,0M661.5,380.5a2.05,2.05 0 1,0 4.1,0a2.05,2.05 0 1,0 -4.1,0M673.2,378.0a2.05,2.05 0 1,0 4.1,0a2.05,2.05 0 1,0 -4.1,0" fill="#ffa500"/></svg></body></html>
